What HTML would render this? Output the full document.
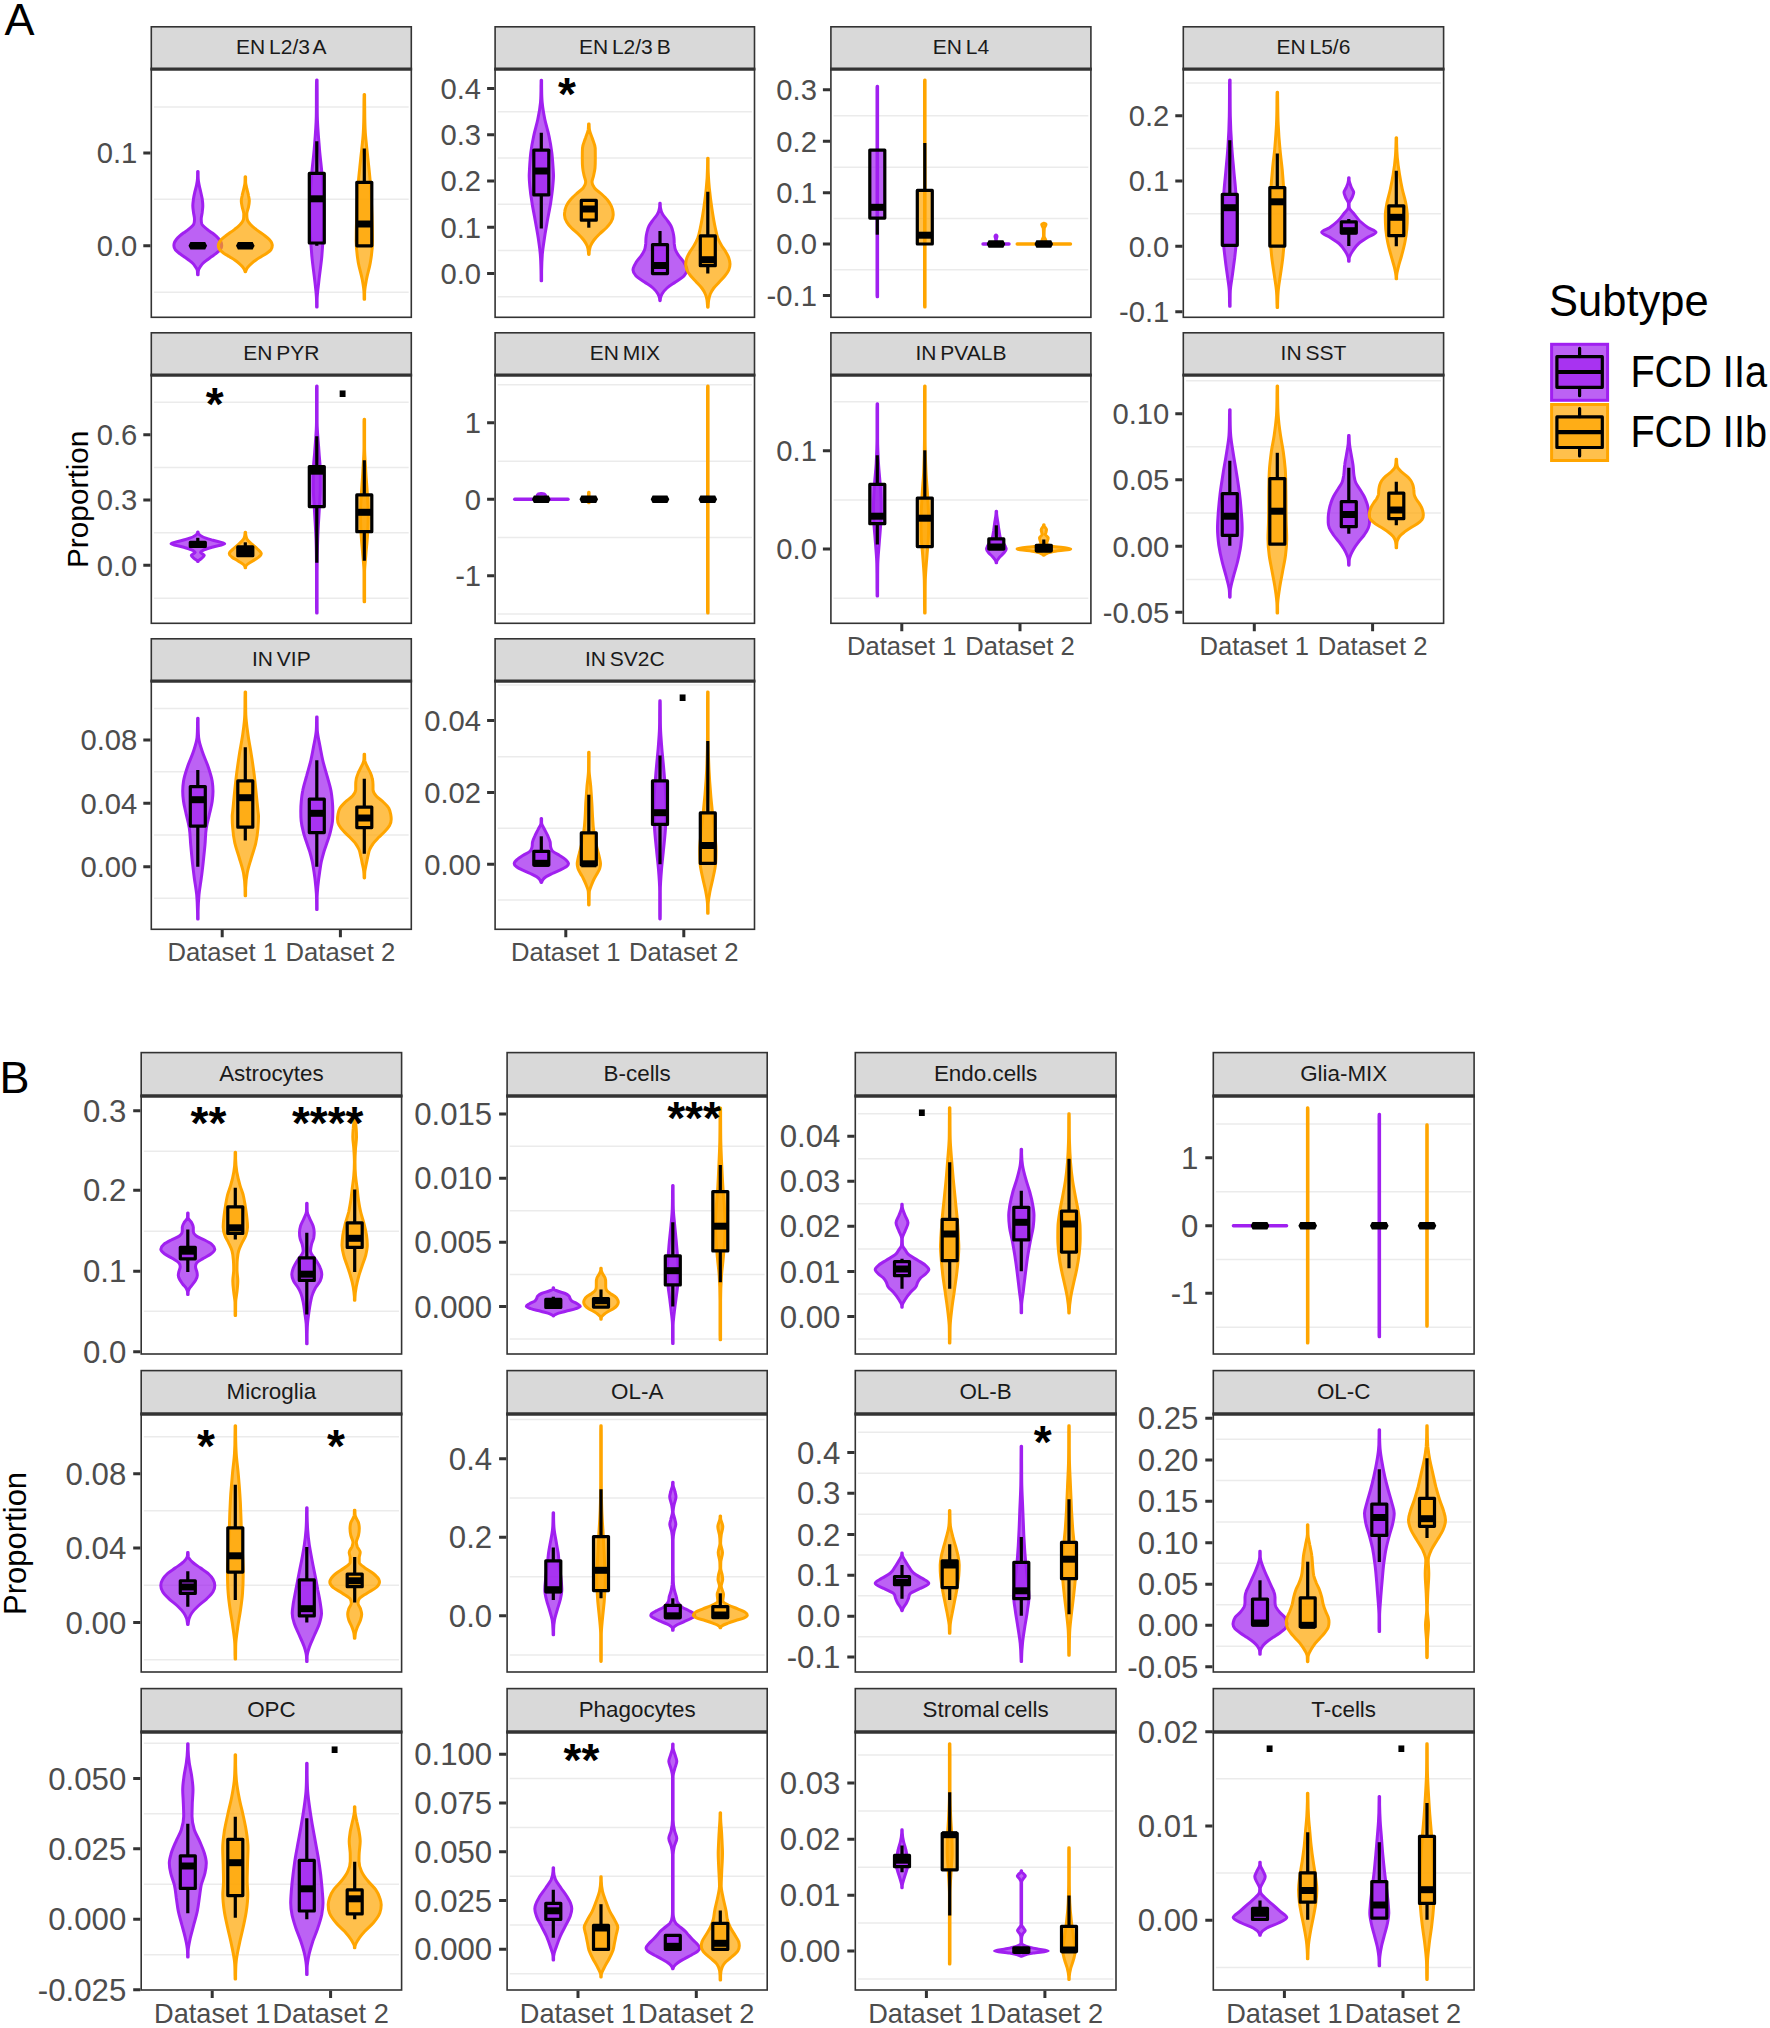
<!DOCTYPE html>
<html><head><meta charset="utf-8"><title>Figure</title>
<style>
html,body{margin:0;padding:0;background:#fff}
svg{display:block}
text{font-family:'Liberation Sans', Arial, Helvetica, sans-serif}
.st{word-spacing:-2px}
</style></head><body>
<svg xmlns="http://www.w3.org/2000/svg" width="1770" height="2028" viewBox="0 0 1770 2028">
<rect width="1770" height="2028" fill="#fff"/>
<g>
<rect x="151.3" y="69.1" width="260" height="248.2" fill="#fff"/>
<path d="M153.9 107H408.7M153.9 199.3H408.7M153.9 292.2H408.7" stroke="#ebebeb" stroke-width="1.6" fill="none"/>
<path d="M198.1 171.5C198.1 173.8 198.1 176.2 198.2 178.5C198.2 180.8 198.7 183.1 199.2 185.3C199.6 187.6 200.3 189.9 200.8 192.2C201.3 194.4 201.8 196.6 202.2 198.8C202.5 201.1 202.8 203.4 202.8 205.7C202.8 207.9 202.4 210.2 202.2 212.5C201.9 214.7 201.2 216.9 201.2 219.2C201.2 220.8 201.2 222.4 201.8 224C202.6 225.8 205 227.6 207.2 229.3C208.6 230.5 210.5 231.7 212 232.8C213.5 233.9 214.9 235.1 216.2 236.2C217.4 237.3 218.5 238.4 219.3 239.5C220.2 240.7 220.9 241.8 221.3 243C221.6 243.9 221.7 244.8 221.7 245.7C221.7 247 221.3 248.3 220.3 249.7C219.5 250.8 218 252 216.5 253.2C215.1 254.3 213.4 255.4 211.8 256.5C210.2 257.7 208.5 258.8 207 260C205.6 261.1 204.1 262.2 203 263.3C201.9 264.4 201.1 265.6 200.3 266.7C199.6 267.8 198.8 268.9 198.5 270C198.1 271.6 198.2 273.2 198.1 274.8L197.6 274.8C197.4 273.2 197.6 271.6 197.2 270C196.9 268.9 196.1 267.8 195.3 266.7C194.6 265.6 193.8 264.4 192.7 263.3C191.6 262.2 190.1 261.1 188.7 260C187.2 258.8 185.5 257.7 183.8 256.5C182.3 255.4 180.6 254.3 179.2 253.2C177.7 252 176.2 250.8 175.3 249.7C174.3 248.3 173.9 247 173.9 245.7C173.9 244.8 174 243.9 174.3 243C174.7 241.8 175.4 240.7 176.3 239.5C177.2 238.4 178.3 237.3 179.5 236.2C180.7 235.1 182.2 233.9 183.7 232.8C185.2 231.7 187.1 230.5 188.5 229.3C190.7 227.6 193.1 225.8 193.8 224C194.5 222.4 194.5 220.8 194.5 219.2C194.5 216.9 193.8 214.7 193.5 212.5C193.2 210.2 192.8 207.9 192.8 205.7C192.8 203.4 193.2 201.1 193.5 198.8C193.8 196.6 194.3 194.4 194.8 192.2C195.3 189.9 196.1 187.6 196.5 185.3C196.9 183.1 197.4 180.8 197.5 178.5C197.6 176.2 197.6 173.8 197.6 171.5Z" fill="#a020f0" fill-opacity="0.7" stroke="#a020f0" stroke-width="3.0" stroke-linejoin="round"/>
<path d="M245.6 176.8C245.6 178.6 245.6 180.3 245.6 182C245.7 184.2 246.4 186.4 246.8 188.7C247.3 190.9 248.1 193.2 248.5 195.5C248.9 197.3 249.3 199.2 249.3 201C249.3 203 248.9 205 248.5 207C248.1 209.3 246.8 211.6 246.8 213.8C246.8 215.6 246.8 217.4 247.2 219.2C247.5 221 249 222.8 250.7 224.7C252.1 226.2 254 227.8 256 229.3C257.5 230.5 259.2 231.7 260.8 232.8C262.4 233.9 264.1 235.1 265.5 236.2C266.9 237.3 268.3 238.4 269.3 239.5C270.4 240.7 271.2 241.8 271.7 243C272 243.8 272.3 244.6 272.3 245.3C272.3 246.8 272.1 248.2 271 249.7C270.1 250.8 268.5 252 266.8 253.2C265.3 254.3 263.3 255.4 261.5 256.5C259.6 257.7 257.7 258.8 256 260C254.4 261.1 253 262.2 251.7 263.3C250.4 264.4 249.1 265.6 248.2 266.7C247.2 267.8 246.6 268.9 246.2 270C245.9 270.6 245.8 271.2 245.6 271.8L245.1 271.8C244.9 271.2 244.8 270.6 244.5 270C244 268.9 243.4 267.8 242.5 266.7C241.6 265.6 240.3 264.4 239 263.3C237.7 262.2 236.3 261.1 234.7 260C233 258.8 231 257.7 229.2 256.5C227.4 255.4 225.4 254.3 223.8 253.2C222.2 252 220.6 250.8 219.7 249.7C218.5 248.2 218.3 246.8 218.3 245.3C218.3 244.6 218.7 243.8 219 243C219.5 241.8 220.3 240.7 221.3 239.5C222.3 238.4 223.7 237.3 225.2 236.2C226.6 235.1 228.3 233.9 229.8 232.8C231.5 231.7 233.2 230.5 234.7 229.3C236.7 227.8 238.6 226.2 240 224.7C241.7 222.8 243.2 221 243.5 219.2C243.8 217.4 243.8 215.6 243.8 213.8C243.8 211.6 242.6 209.3 242.2 207C241.8 205 241.3 203 241.3 201C241.3 199.2 241.8 197.3 242.2 195.5C242.6 193.2 243.4 190.9 243.8 188.7C244.3 186.4 245 184.2 245 182C245.1 180.3 245.1 178.6 245.1 176.8Z" fill="#ffa500" fill-opacity="0.7" stroke="#ffa500" stroke-width="3.0" stroke-linejoin="round"/>
<path d="M317.1 80C317.1 80.9 317.1 81.8 317.1 82.7C317.3 93.8 317.1 104.9 317.3 116C317.5 127.1 318.6 138.2 319.5 149.3C320.2 157.7 321.3 166 322 174.3C322.9 185.4 323.7 196.6 323.7 207.7C323.7 216 323.7 224.3 323.3 232.7C323 241 322.4 249.3 321.7 257.7C320.9 266 319.5 274.3 318.7 282.7C318.1 288.2 317.2 293.8 317.1 299.3C317.1 301.9 317.1 304.4 317.1 307L316.6 307C316.6 304.4 316.6 301.9 316.5 299.3C316.4 293.8 315.6 288.2 315 282.7C314.1 274.3 312.8 266 312 257.7C311.2 249.3 310.7 241 310.3 232.7C310 224.3 310 216 310 207.7C310 196.6 310.8 185.4 311.7 174.3C312.3 166 313.5 157.7 314.2 149.3C315.1 138.2 316.1 127.1 316.3 116C316.5 104.9 316.3 93.8 316.5 82.7C316.5 81.8 316.6 80.9 316.6 80Z" fill="#a020f0" fill-opacity="0.7" stroke="#a020f0" stroke-width="3.0" stroke-linejoin="round"/>
<path d="M364.6 94.5C364.6 96.1 364.6 97.7 364.6 99.3C364.8 110.4 364.6 121.6 365.3 132.7C365.9 141 367 149.3 367.8 157.7C368.7 166 369.7 174.3 370.3 182.7C371.2 193.8 371.6 204.9 372 216C372.3 224.3 372.5 232.7 372.5 241C372.5 248.2 371.6 255.4 370.3 262.7C369.4 268.2 367.5 273.8 366.5 279.3C365.7 283.8 364.7 288.2 364.6 292.7C364.6 294.8 364.6 297 364.6 299.2L364.1 299.2C364.1 297 364.1 294.8 364 292.7C363.9 288.2 363 283.8 362.2 279.3C361.2 273.8 359.3 268.2 358.3 262.7C357.1 255.4 356.2 248.2 356.2 241C356.2 232.7 356.4 224.3 356.7 216C357 204.9 357.5 193.8 358.3 182.7C359 174.3 360 166 360.8 157.7C361.7 149.3 362.8 141 363.3 132.7C364 121.6 363.9 110.4 364 99.3C364.1 97.7 364.1 96.1 364.1 94.5Z" fill="#ffa500" fill-opacity="0.7" stroke="#ffa500" stroke-width="3.0" stroke-linejoin="round"/>
<path d="M188.5 245.7L190.4 241.9H205.2L207.1 245.7L205.2 249.5H190.4Z" fill="#000"/>
<path d="M236 245.7L237.9 241.9H252.7L254.6 245.7L252.7 249.5H237.9Z" fill="#000"/>
<path d="M316.8 141.3V173.4M316.8 243.1V245.7" stroke="#000" stroke-width="3.2" fill="none"/>
<rect x="309.3" y="173.4" width="15" height="69.6" fill="#a020f0" fill-opacity="0.7" stroke="#000" stroke-width="3.2" stroke-linejoin="round"/>
<path d="M309.3 198.8H324.3" stroke="#000" stroke-width="7.0"/>
<path d="M364.3 148.5V182.3" stroke="#000" stroke-width="3.2" fill="none"/>
<rect x="356.8" y="182.3" width="15" height="63.5" fill="#ffa500" fill-opacity="0.7" stroke="#000" stroke-width="3.2" stroke-linejoin="round"/>
<path d="M356.8 224H371.8" stroke="#000" stroke-width="7.0"/>
<rect x="151.3" y="69.1" width="260" height="248.2" fill="none" stroke="#333333" stroke-width="1.6"/>
<rect x="151.3" y="26.8" width="260" height="42.3" fill="#d9d9d9" stroke="#333333" stroke-width="1.6"/>
<path d="M150.5 69.1H412.1" stroke="#333333" stroke-width="3.4"/>
<text x="281.3" y="54.4" font-size="21.0" text-anchor="middle" fill="#1a1a1a" class="st">EN L2/3 A</text>
<path d="M143.3 153H150.5M143.3 245.7H150.5" stroke="#333333" stroke-width="3.0" fill="none"/>
<text x="137.3" y="163.4" font-size="29.2" text-anchor="end" fill="#4d4d4d">0.1</text>
<text x="137.3" y="256" font-size="29.2" text-anchor="end" fill="#4d4d4d">0.0</text>
</g>
<g>
<rect x="495.1" y="69.1" width="259.4" height="248.2" fill="#fff"/>
<path d="M497.7 111.8H751.9M497.7 158H751.9M497.7 204.3H751.9M497.7 250.5H751.9M497.7 296.8H751.9" stroke="#ebebeb" stroke-width="1.6" fill="none"/>
<path d="M541.6 80.3C541.6 82.2 541.6 84.1 541.6 86C541.7 91.6 541.6 97.1 542.2 102.7C542.7 108.2 543.7 113.8 544.8 119.3C546 124.9 547.8 130.4 549 136C550.2 141.6 551.1 147.1 551.8 152.7C552.5 158.2 552.8 163.8 553.2 169.3C553.3 171.6 553.5 173.8 553.5 176C553.5 179.3 553.1 182.7 552.8 186C552.3 191.6 551.5 197.1 550.7 202.7C549.7 208.8 548.4 214.9 547.3 221C546.4 226.6 545.3 232.1 544.5 237.7C543.7 243.2 542.8 248.8 542.3 254.3C541.9 259.9 541.7 265.4 541.6 271C541.6 274.3 541.6 277.6 541.6 280.8L541.1 280.8C541.1 277.6 541.1 274.3 541 271C540.9 265.4 540.8 259.9 540.3 254.3C539.9 248.8 539 243.2 538.2 237.7C537.3 232.1 536.3 226.6 535.3 221C534.3 214.9 532.9 208.8 532 202.7C531.1 197.1 530.3 191.6 529.8 186C529.5 182.7 529.2 179.3 529.2 176C529.2 173.8 529.4 171.6 529.5 169.3C529.8 163.8 530.1 158.2 530.8 152.7C531.5 147.1 532.5 141.6 533.7 136C534.8 130.4 536.7 124.9 537.8 119.3C539 113.8 540 108.2 540.5 102.7C541 97.1 541 91.6 541 86C541.1 84.1 541.1 82.2 541.1 80.3Z" fill="#a020f0" fill-opacity="0.7" stroke="#a020f0" stroke-width="3.0" stroke-linejoin="round"/>
<path d="M589.1 124C589.2 126 589.1 128 589.5 130C590 132.7 591.3 135.3 592.2 138C593.2 141.3 595 144.7 595.2 148C595.3 151.3 595.3 154.7 595.3 158C595.3 161.3 595.3 164.7 595 168C594.7 170.7 594.1 173.3 593.5 176C593.1 178 592 180 592 182C592 184 592.9 186 594.5 188C596.1 190 599.3 192 601.5 194C603.7 196 605.9 198 607.5 200C609.1 202 610.4 204 611.3 206C612.2 208 612.7 210 613 212C613.1 213 613.2 214 613.2 215C613.2 217.3 612.3 219.7 611 222C609.8 224 608.1 226 606.2 228C604.2 230 601.5 232 599.5 234C597.5 236 595.5 238 594 240C592.5 242 591.3 244 590.5 246C589.8 247.7 589.6 249.3 589.3 251C589.2 252.2 589.2 253.3 589.1 254.5L588.6 254.5C588.5 253.3 588.5 252.2 588.3 251C588.1 249.3 587.8 247.7 587.2 246C586.4 244 585.2 242 583.7 240C582.2 238 580.2 236 578.2 234C576.1 232 573.4 230 571.5 228C569.6 226 567.8 224 566.7 222C565.3 219.7 564.5 217.3 564.5 215C564.5 214 564.5 213 564.7 212C564.9 210 565.4 208 566.3 206C567.2 204 568.5 202 570.2 200C571.8 198 574 196 576.2 194C578.3 192 581.6 190 583.2 188C584.8 186 585.7 184 585.7 182C585.7 180 584.6 178 584.2 176C583.6 173.3 582.9 170.7 582.7 168C582.3 164.7 582.3 161.3 582.3 158C582.3 154.7 582.3 151.3 582.5 148C582.7 144.7 584.4 141.3 585.5 138C586.3 135.3 587.7 132.7 588.2 130C588.5 128 588.4 126 588.6 124Z" fill="#ffa500" fill-opacity="0.7" stroke="#ffa500" stroke-width="3.0" stroke-linejoin="round"/>
<path d="M660.2 203.3C660.3 204.9 660.2 206.4 660.5 208C660.8 210 661.4 212 662.5 214C663.6 216 665.6 218 667 220C668.4 222 670 224 671 226C672 228 672.5 230 673 232C673.5 234 673.8 236 674 238C674.2 240 674.1 242 674.3 244C674.6 246 674.7 248 675.5 250C676.3 252 677.6 254 679 256C680.4 258 682.4 260 683.7 262C684.9 264 686.2 266 686.7 268C686.8 268.7 687 269.3 687 270C687 272 685.9 274 684 276C682.1 278 678.3 280 675.5 282C672.7 284 669.2 286 667 288C664.8 290 663.1 292 662 294C661.3 295.3 660.8 296.7 660.5 298C660.3 298.9 660.3 299.8 660.2 300.7L659.8 300.7C659.7 299.8 659.7 298.9 659.5 298C659.2 296.7 658.7 295.3 658 294C656.9 292 655.2 290 653 288C650.8 286 647.3 284 644.5 282C641.7 280 637.9 278 636 276C634.1 274 633 272 633 270C633 269.3 633.2 268.7 633.3 268C633.8 266 635.1 264 636.3 262C637.6 260 639.6 258 641 256C642.4 254 643.7 252 644.5 250C645.3 248 645.4 246 645.7 244C645.9 242 645.8 240 646 238C646.2 236 646.5 234 647 232C647.5 230 648 228 649 226C650 224 651.6 222 653 220C654.4 218 656.4 216 657.5 214C658.6 212 659.2 210 659.5 208C659.8 206.4 659.7 204.9 659.8 203.3Z" fill="#a020f0" fill-opacity="0.7" stroke="#a020f0" stroke-width="3.0" stroke-linejoin="round"/>
<path d="M708.1 158.3C708.1 161.6 708.1 164.8 708.1 168C708.2 174.7 708.7 181.3 709.3 188C710 194.7 710.8 201.3 711.8 208C712.8 214.7 713.8 221.3 715.3 228C716.1 231.3 716.5 234.7 717.8 238C718.9 240.7 720.2 243.3 721.8 246C723 248 724.7 250 725.8 252C727 254 728.1 256 728.8 258C729.5 260 730 262 730 264C730 266 729.7 268 728.8 270C728 272 726.4 274 724.8 276C723.2 278 721.2 280 719.3 282C717.5 284 715.3 286 713.8 288C712.3 290 711.2 292 710.3 294C709.5 296 709 298 708.7 300C708.2 302.4 708.3 304.8 708.1 307.2L707.6 307.2C707.4 304.8 707.4 302.4 707 300C706.6 298 706.2 296 705.3 294C704.5 292 703.3 290 701.8 288C700.3 286 698.2 284 696.3 282C694.5 280 692.4 278 690.8 276C689.2 274 687.7 272 686.8 270C686 268 685.7 266 685.7 264C685.7 262 686.1 260 686.8 258C687.5 256 688.7 254 689.8 252C691 250 692.6 248 693.8 246C695.4 243.3 696.8 240.7 697.8 238C699.1 234.7 699.6 231.3 700.3 228C701.8 221.3 702.8 214.7 703.8 208C704.8 201.3 705.7 194.7 706.3 188C707 181.3 707.4 174.7 707.5 168C707.6 164.8 707.6 161.6 707.6 158.3Z" fill="#ffa500" fill-opacity="0.7" stroke="#ffa500" stroke-width="3.0" stroke-linejoin="round"/>
<path d="M541.3 132.7V150.1M541.3 194.9V228.5" stroke="#000" stroke-width="3.2" fill="none"/>
<rect x="533.8" y="150.1" width="15" height="44.8" fill="#a020f0" fill-opacity="0.7" stroke="#000" stroke-width="3.2" stroke-linejoin="round"/>
<path d="M533.8 171H548.8" stroke="#000" stroke-width="7.0"/>
<path d="M588.8 220.2V227.7" stroke="#000" stroke-width="3.2" fill="none"/>
<rect x="581.3" y="200.4" width="15" height="19.8" fill="#ffa500" fill-opacity="0.7" stroke="#000" stroke-width="3.2" stroke-linejoin="round"/>
<path d="M581.3 209H596.3" stroke="#000" stroke-width="7.0"/>
<path d="M660 231V244.6" stroke="#000" stroke-width="3.2" fill="none"/>
<rect x="652.5" y="244.6" width="15" height="29" fill="#a020f0" fill-opacity="0.7" stroke="#000" stroke-width="3.2" stroke-linejoin="round"/>
<path d="M652.5 265.5H667.5" stroke="#000" stroke-width="7.0"/>
<path d="M707.8 191.8V235.9M707.8 265.7V273.5" stroke="#000" stroke-width="3.2" fill="none"/>
<rect x="700.3" y="235.9" width="15" height="29.8" fill="#ffa500" fill-opacity="0.7" stroke="#000" stroke-width="3.2" stroke-linejoin="round"/>
<path d="M700.3 259.7H715.3" stroke="#000" stroke-width="7.0"/>
<text x="567" y="110.1" font-size="46.0" font-weight="bold" text-anchor="middle" fill="#000">*</text>
<rect x="495.1" y="69.1" width="259.4" height="248.2" fill="none" stroke="#333333" stroke-width="1.6"/>
<rect x="495.1" y="26.8" width="259.4" height="42.3" fill="#d9d9d9" stroke="#333333" stroke-width="1.6"/>
<path d="M494.3 69.1H755.3" stroke="#333333" stroke-width="3.4"/>
<text x="624.8" y="54.4" font-size="21.0" text-anchor="middle" fill="#1a1a1a" class="st">EN L2/3 B</text>
<path d="M487.1 88.5H494.3M487.1 134.7H494.3M487.1 181H494.3M487.1 227.3H494.3M487.1 273.5H494.3" stroke="#333333" stroke-width="3.0" fill="none"/>
<text x="481.1" y="98.9" font-size="29.2" text-anchor="end" fill="#4d4d4d">0.4</text>
<text x="481.1" y="145" font-size="29.2" text-anchor="end" fill="#4d4d4d">0.3</text>
<text x="481.1" y="191.4" font-size="29.2" text-anchor="end" fill="#4d4d4d">0.2</text>
<text x="481.1" y="237.7" font-size="29.2" text-anchor="end" fill="#4d4d4d">0.1</text>
<text x="481.1" y="283.9" font-size="29.2" text-anchor="end" fill="#4d4d4d">0.0</text>
</g>
<g>
<rect x="830.9" y="69.1" width="260" height="248.2" fill="#fff"/>
<path d="M833.5 115.7H1088.3M833.5 167.2H1088.3M833.5 218.5H1088.3M833.5 269.8H1088.3" stroke="#ebebeb" stroke-width="1.6" fill="none"/>
<path d="M877.6 86.2C877.6 86.7 877.6 87.2 877.6 87.7C877.6 156.8 877.6 226 877.6 295.2C877.6 295.7 877.6 296.2 877.6 296.7L877.1 296.7C877.1 296.2 877 295.7 877 295.2C877 226 877 156.8 877 87.7C877 87.2 877.1 86.7 877.1 86.2Z" fill="#a020f0" fill-opacity="0.7" stroke="#a020f0" stroke-width="3.0" stroke-linejoin="round"/>
<path d="M925.1 80C925.1 80.6 925.1 81.2 925.1 81.8C925.1 156.3 925.1 230.7 925.1 305.2C925.1 305.8 925.1 306.4 925.1 307L924.6 307C924.6 306.4 924.5 305.8 924.5 305.2C924.5 230.7 924.5 156.3 924.5 81.8C924.5 81.2 924.6 80.6 924.6 80Z" fill="#ffa500" fill-opacity="0.7" stroke="#ffa500" stroke-width="3.0" stroke-linejoin="round"/>
<path d="M983 244H1009" stroke="#a020f0" stroke-width="3.4" stroke-linecap="round" fill="none"/>
<path d="M996.2 235C996.5 235.4 997 235.9 997 236.3C997 237.3 996.3 238.3 996.3 239.3C996.3 240.6 996.3 241.8 996.3 243C996.3 243.2 996.3 243.3 996.2 243.5L995.8 243.5C995.7 243.3 995.7 243.2 995.7 243C995.7 241.8 995.7 240.6 995.7 239.3C995.7 238.3 995 237.3 995 236.3C995 235.9 995.5 235.4 995.8 235Z" fill="#a020f0" fill-opacity="0.7" stroke="#a020f0" stroke-width="3.0" stroke-linejoin="round"/>
<path d="M1017.2 244H1070.5" stroke="#ffa500" stroke-width="3.4" stroke-linecap="round" fill="none"/>
<path d="M1044.1 223.3C1044.7 223.7 1046 224 1046 224.3C1046 225.7 1044.4 227.1 1044.3 228.5C1044.1 231 1044.1 233.5 1044.1 236C1044.1 237.4 1045.3 238.8 1045.7 240.2C1045.9 241.1 1046.3 242.1 1046.3 243C1046.3 243.3 1044.8 243.6 1044.1 243.8L1043.6 243.8C1042.8 243.6 1041.3 243.3 1041.3 243C1041.3 242.1 1041.7 241.1 1042 240.2C1042.4 238.8 1043.5 237.4 1043.5 236C1043.5 233.5 1043.5 231 1043.3 228.5C1043.2 227.1 1041.7 225.7 1041.7 224.3C1041.7 224 1042.9 223.7 1043.6 223.3Z" fill="#ffa500" fill-opacity="0.7" stroke="#ffa500" stroke-width="3.0" stroke-linejoin="round"/>
<path d="M877.3 218.1V234.7" stroke="#000" stroke-width="3.2" fill="none"/>
<rect x="869.8" y="150.1" width="15" height="68" fill="#a020f0" fill-opacity="0.7" stroke="#000" stroke-width="3.2" stroke-linejoin="round"/>
<path d="M869.8 207.3H884.8" stroke="#000" stroke-width="7.0"/>
<path d="M924.8 143V190.4" stroke="#000" stroke-width="3.2" fill="none"/>
<rect x="917.3" y="190.4" width="15" height="53.6" fill="#ffa500" fill-opacity="0.7" stroke="#000" stroke-width="3.2" stroke-linejoin="round"/>
<path d="M917.3 235.2H932.3" stroke="#000" stroke-width="7.0"/>
<path d="M986.7 244L988.6 240.2H1003.4L1005.3 244L1003.4 247.8H988.6Z" fill="#000"/>
<path d="M1034.5 244L1036.4 240.2H1051.2L1053.1 244L1051.2 247.8H1036.4Z" fill="#000"/>
<rect x="830.9" y="69.1" width="260" height="248.2" fill="none" stroke="#333333" stroke-width="1.6"/>
<rect x="830.9" y="26.8" width="260" height="42.3" fill="#d9d9d9" stroke="#333333" stroke-width="1.6"/>
<path d="M830.1 69.1H1091.7" stroke="#333333" stroke-width="3.4"/>
<text x="960.9" y="54.4" font-size="21.0" text-anchor="middle" fill="#1a1a1a" class="st">EN L4</text>
<path d="M822.9 89.8H830.1M822.9 141.3H830.1M822.9 192.7H830.1M822.9 244H830.1M822.9 295.5H830.1" stroke="#333333" stroke-width="3.0" fill="none"/>
<text x="816.9" y="100.2" font-size="29.2" text-anchor="end" fill="#4d4d4d">0.3</text>
<text x="816.9" y="151.7" font-size="29.2" text-anchor="end" fill="#4d4d4d">0.2</text>
<text x="816.9" y="203" font-size="29.2" text-anchor="end" fill="#4d4d4d">0.1</text>
<text x="816.9" y="254.4" font-size="29.2" text-anchor="end" fill="#4d4d4d">0.0</text>
<text x="816.9" y="305.9" font-size="29.2" text-anchor="end" fill="#4d4d4d">-0.1</text>
</g>
<g>
<rect x="1183.3" y="69.1" width="260.3" height="248.2" fill="#fff"/>
<path d="M1185.9 83H1441M1185.9 148.5H1441M1185.9 213.7H1441M1185.9 279.3H1441" stroke="#ebebeb" stroke-width="1.6" fill="none"/>
<path d="M1230.1 80C1230.1 82 1230.1 84 1230.1 86C1230.2 96 1230.1 106 1230.3 116C1230.5 126 1231 136 1231.7 146C1232.2 153.8 1233 161.6 1233.7 169.3C1234.3 176.6 1235.2 183.8 1235.7 191C1236.2 199.3 1236.7 207.7 1236.7 216C1236.7 224.3 1236.7 232.7 1236.3 241C1236.1 246.6 1235.3 252.1 1234.7 257.7C1234 263.2 1233.2 268.8 1232.5 274.3C1231.8 279.9 1230.6 285.4 1230.3 291C1230.1 294.9 1230.2 298.8 1230.1 302.7C1230.1 303.9 1230.1 305.1 1230.1 306.3L1229.6 306.3C1229.6 305.1 1229.6 303.9 1229.5 302.7C1229.5 298.8 1229.5 294.9 1229.3 291C1229 285.4 1227.9 279.9 1227.2 274.3C1226.4 268.8 1225.6 263.2 1225 257.7C1224.4 252.1 1223.6 246.6 1223.3 241C1223 232.7 1223 224.3 1223 216C1223 207.7 1223.4 199.3 1224 191C1224.5 183.8 1225.4 176.6 1226 169.3C1226.7 161.6 1227.5 153.8 1228 146C1228.7 136 1229.1 126 1229.3 116C1229.5 106 1229.5 96 1229.5 86C1229.5 84 1229.6 82 1229.6 80Z" fill="#a020f0" fill-opacity="0.7" stroke="#a020f0" stroke-width="3.0" stroke-linejoin="round"/>
<path d="M1277.6 92.3C1277.6 93.6 1277.6 94.8 1277.6 96C1277.8 105.4 1277.7 114.9 1278.2 124.3C1278.6 132.7 1279.2 141 1280 149.3C1280.6 156 1281.5 162.7 1282.2 169.3C1282.8 176.6 1283.4 183.8 1283.8 191C1284.3 199.3 1284.5 207.7 1284.5 216C1284.5 224.3 1284.5 232.7 1284.2 241C1283.9 246.6 1283.4 252.1 1282.8 257.7C1282.2 263.2 1281.3 268.8 1280.5 274.3C1279.7 279.9 1278.6 285.4 1278.2 291C1277.8 295.4 1277.7 299.9 1277.6 304.3C1277.6 305.4 1277.6 306.4 1277.6 307.5L1277.1 307.5C1277.1 306.4 1277.1 305.4 1277 304.3C1276.9 299.9 1276.9 295.4 1276.5 291C1276 285.4 1274.9 279.9 1274.2 274.3C1273.4 268.8 1272.4 263.2 1271.8 257.7C1271.2 252.1 1270.7 246.6 1270.5 241C1270.2 232.7 1270.2 224.3 1270.2 216C1270.2 207.7 1270.4 199.3 1270.8 191C1271.2 183.8 1271.8 176.6 1272.5 169.3C1273.1 162.7 1274 156 1274.7 149.3C1275.4 141 1276.1 132.7 1276.5 124.3C1277 114.9 1276.9 105.4 1277 96C1277.1 94.8 1277.1 93.6 1277.1 92.3Z" fill="#ffa500" fill-opacity="0.7" stroke="#ffa500" stroke-width="3.0" stroke-linejoin="round"/>
<path d="M1349.1 177.8C1349.1 178.6 1349.1 179.4 1349.1 180.2C1349.3 182.7 1350.5 185.2 1351.5 187.7C1352.1 189.2 1353.7 190.8 1353.7 192.3C1353.7 194.1 1352.7 195.9 1352 197.7C1351.2 199.6 1349.1 201.6 1349.1 203.5C1349.1 204.9 1349.1 206.3 1349.3 207.7C1349.6 209.6 1352.2 211.6 1353.7 213.5C1355.6 216 1357.2 218.5 1359.8 221C1362.2 223.2 1364.7 225.4 1368.2 227.7C1370.5 229.2 1376 230.7 1376 232.2C1376 233.7 1371.1 235.3 1368.7 236.8C1365.2 239.1 1361.3 241.3 1358.7 243.5C1355.7 246 1354.3 248.5 1352.7 251C1351.2 253.2 1349.8 255.4 1349.3 257.7C1349.1 258.9 1349.2 260.1 1349.1 261.3L1348.6 261.3C1348.5 260.1 1348.6 258.9 1348.3 257.7C1347.9 255.4 1346.4 253.2 1345 251C1343.4 248.5 1341.9 246 1339 243.5C1336.4 241.3 1332.4 239.1 1329 236.8C1326.6 235.3 1321.7 233.7 1321.7 232.2C1321.7 230.7 1327.2 229.2 1329.5 227.7C1332.9 225.4 1335.5 223.2 1337.8 221C1340.5 218.5 1342.1 216 1344 213.5C1345.5 211.6 1348.1 209.6 1348.3 207.7C1348.5 206.3 1348.5 204.9 1348.5 203.5C1348.5 201.6 1346.4 199.6 1345.7 197.7C1345 195.9 1344 194.1 1344 192.3C1344 190.8 1345.5 189.2 1346.2 187.7C1347.2 185.2 1348.4 182.7 1348.5 180.2C1348.6 179.4 1348.6 178.6 1348.6 177.8Z" fill="#a020f0" fill-opacity="0.7" stroke="#a020f0" stroke-width="3.0" stroke-linejoin="round"/>
<path d="M1396.6 137.8C1396.6 139.4 1396.6 141.1 1396.6 142.7C1396.7 147.7 1396.9 152.7 1397.3 157.7C1397.8 163.2 1398.6 168.8 1399.5 174.3C1400.3 179.3 1401.2 184.3 1402.3 189.3C1403.3 193.8 1404.8 198.2 1405.7 202.7C1406.5 207.1 1407.3 211.6 1407.3 216C1407.3 220.4 1407.2 224.9 1406.8 229.3C1406.4 233.8 1405.7 238.2 1404.8 242.7C1403.9 247.1 1402.7 251.6 1401.5 256C1400.5 259.9 1399 263.8 1398.2 267.7C1397.5 270.4 1396.8 273.2 1396.6 276C1396.6 276.9 1396.6 277.9 1396.6 278.8L1396.1 278.8C1396.1 277.9 1396.1 276.9 1396 276C1395.9 273.2 1395.1 270.4 1394.5 267.7C1393.6 263.8 1392.2 259.9 1391.2 256C1390 251.6 1388.7 247.1 1387.8 242.7C1386.9 238.2 1386.2 233.8 1385.8 229.3C1385.4 224.9 1385.3 220.4 1385.3 216C1385.3 211.6 1386.2 207.1 1387 202.7C1387.8 198.2 1389.4 193.8 1390.3 189.3C1391.4 184.3 1392.4 179.3 1393.2 174.3C1394.1 168.8 1394.9 163.2 1395.3 157.7C1395.8 152.7 1395.9 147.7 1396 142.7C1396.1 141.1 1396.1 139.4 1396.1 137.8Z" fill="#ffa500" fill-opacity="0.7" stroke="#ffa500" stroke-width="3.0" stroke-linejoin="round"/>
<path d="M1229.8 140.2V194.3" stroke="#000" stroke-width="3.2" fill="none"/>
<rect x="1222.3" y="194.3" width="15" height="51" fill="#a020f0" fill-opacity="0.7" stroke="#000" stroke-width="3.2" stroke-linejoin="round"/>
<path d="M1222.3 207.7H1237.3" stroke="#000" stroke-width="7.0"/>
<path d="M1277.3 153.5V187.6" stroke="#000" stroke-width="3.2" fill="none"/>
<rect x="1269.8" y="187.6" width="15" height="58.5" fill="#ffa500" fill-opacity="0.7" stroke="#000" stroke-width="3.2" stroke-linejoin="round"/>
<path d="M1269.8 201.8H1284.8" stroke="#000" stroke-width="7.0"/>
<path d="M1348.8 219V221.8M1348.8 233.1V246" stroke="#000" stroke-width="3.2" fill="none"/>
<rect x="1341.3" y="221.8" width="15" height="11.3" fill="#a020f0" fill-opacity="0.7" stroke="#000" stroke-width="3.2" stroke-linejoin="round"/>
<path d="M1341.3 230.7H1356.3" stroke="#000" stroke-width="7.0"/>
<path d="M1396.3 170.7V205.9M1396.3 235.7V246.3" stroke="#000" stroke-width="3.2" fill="none"/>
<rect x="1388.8" y="205.9" width="15" height="29.8" fill="#ffa500" fill-opacity="0.7" stroke="#000" stroke-width="3.2" stroke-linejoin="round"/>
<path d="M1388.8 217.3H1403.8" stroke="#000" stroke-width="7.0"/>
<rect x="1183.3" y="69.1" width="260.3" height="248.2" fill="none" stroke="#333333" stroke-width="1.6"/>
<rect x="1183.3" y="26.8" width="260.3" height="42.3" fill="#d9d9d9" stroke="#333333" stroke-width="1.6"/>
<path d="M1182.5 69.1H1444.4" stroke="#333333" stroke-width="3.4"/>
<text x="1313.4" y="54.4" font-size="21.0" text-anchor="middle" fill="#1a1a1a" class="st">EN L5/6</text>
<path d="M1175.3 115.7H1182.5M1175.3 181H1182.5M1175.3 246.3H1182.5M1175.3 311.8H1182.5" stroke="#333333" stroke-width="3.0" fill="none"/>
<text x="1169.3" y="126" font-size="29.2" text-anchor="end" fill="#4d4d4d">0.2</text>
<text x="1169.3" y="191.4" font-size="29.2" text-anchor="end" fill="#4d4d4d">0.1</text>
<text x="1169.3" y="256.7" font-size="29.2" text-anchor="end" fill="#4d4d4d">0.0</text>
<text x="1169.3" y="322.2" font-size="29.2" text-anchor="end" fill="#4d4d4d">-0.1</text>
</g>
<g>
<rect x="151.3" y="375.1" width="260" height="248.2" fill="#fff"/>
<path d="M153.9 402.3H408.7M153.9 467.5H408.7M153.9 532.8H408.7M153.9 598.2H408.7" stroke="#ebebeb" stroke-width="1.6" fill="none"/>
<path d="M198.1 532C198.1 532.3 198.1 532.6 198.1 532.8C198.4 534.2 200 535.6 203 537C205.4 538.1 209.4 539.2 213 540.3C216.6 541.4 224.7 542.6 224.7 543.7C224.7 544.8 216.6 545.9 213 547C209.4 548.1 205.1 549.2 203 550.3C201.7 551 200.5 551.7 200.5 552.3C200.5 553.3 204.3 554.3 204.3 555.3C204.3 556.4 202.6 557.6 201.3 558.7C200.4 559.5 198.4 560.3 198.1 561.2C198.1 561.3 198.1 561.4 198.1 561.6L197.6 561.6C197.6 561.4 197.6 561.3 197.5 561.2C197.3 560.3 195.3 559.5 194.3 558.7C193.1 557.6 191.3 556.4 191.3 555.3C191.3 554.3 195.2 553.3 195.2 552.3C195.2 551.7 193.9 551 192.7 550.3C190.5 549.2 186.3 548.1 182.7 547C179.1 545.9 171 544.8 171 543.7C171 542.6 179.1 541.4 182.7 540.3C186.3 539.2 190.2 538.1 192.7 537C195.7 535.6 197.3 534.2 197.5 532.8C197.6 532.6 197.6 532.3 197.6 532Z" fill="#a020f0" fill-opacity="0.7" stroke="#a020f0" stroke-width="3.0" stroke-linejoin="round"/>
<path d="M245.6 532.2C245.6 532.7 245.6 533.2 245.6 533.7C245.8 535.3 245.9 537 246.8 538.7C247.8 540.3 249.6 542 251.3 543.7C253.1 545.3 255.5 547 257.2 548.7C258.8 550.3 261.3 552 261.3 553.7C261.3 554.8 260.1 555.9 258.8 557C257.3 558.4 254.3 559.8 252.2 561.2C250.5 562.3 248.3 563.4 247.2 564.5C246.3 565.3 245.8 566.2 245.6 567C245.6 567.2 245.6 567.4 245.6 567.7L245.1 567.7C245.1 567.4 245.1 567.2 245 567C244.9 566.2 244.3 565.3 243.5 564.5C242.4 563.4 240.2 562.3 238.5 561.2C236.4 559.8 233.4 558.4 231.8 557C230.6 555.9 229.3 554.8 229.3 553.7C229.3 552 231.8 550.3 233.5 548.7C235.2 547 237.6 545.3 239.3 543.7C241.1 542 242.9 540.3 243.8 538.7C244.8 537 244.9 535.3 245 533.7C245.1 533.2 245.1 532.7 245.1 532.2Z" fill="#ffa500" fill-opacity="0.7" stroke="#ffa500" stroke-width="3.0" stroke-linejoin="round"/>
<path d="M317.1 386C317.1 386.9 317.1 387.8 317.1 388.7C317.1 399.8 317.1 410.9 317.1 422C317.1 432 318.4 442 319 452C319.4 458.7 320.3 465.3 320.3 472C320.3 477.6 320.3 483.1 320.3 488.7C320.3 494.2 319.8 499.8 319.5 505.3C318.9 516.4 318.1 527.6 317.7 538.7C317.3 549.8 317.1 560.9 317.1 572C317.1 583.1 317.1 594.2 317.1 605.3C317.1 607.9 317.1 610.4 317.1 613L316.6 613C316.6 610.4 316.5 607.9 316.5 605.3C316.5 594.2 316.5 583.1 316.5 572C316.5 560.9 316.4 549.8 316 538.7C315.6 527.6 314.7 516.4 314.2 505.3C313.9 499.8 313.3 494.2 313.3 488.7C313.3 483.1 313.3 477.6 313.3 472C313.3 465.3 314.2 458.7 314.7 452C315.3 442 316.5 432 316.5 422C316.5 410.9 316.5 399.8 316.5 388.7C316.5 387.8 316.6 386.9 316.6 386Z" fill="#a020f0" fill-opacity="0.7" stroke="#a020f0" stroke-width="3.0" stroke-linejoin="round"/>
<path d="M364.6 419.2C364.6 420.1 364.6 421.1 364.6 422C364.6 430.3 364.6 438.7 364.6 447C364.6 455.3 365.4 463.7 365.8 472C366.3 480.3 367.1 488.7 367.5 497C367.8 502.6 368.2 508.1 368.2 513.7C368.2 520.9 367.9 528.1 367.5 535.3C367.1 542 366.3 548.7 365.8 555.3C365.4 560.9 364.6 566.4 364.6 572C364.6 580.3 364.6 588.7 364.6 597C364.6 598.6 364.6 600.2 364.6 601.8L364.1 601.8C364.1 600.2 364 598.6 364 597C364 588.7 364 580.3 364 572C364 566.4 363.3 560.9 362.8 555.3C362.3 548.7 361.6 542 361.2 535.3C360.7 528.1 360.5 520.9 360.5 513.7C360.5 508.1 360.9 502.6 361.2 497C361.6 488.7 362.4 480.3 362.8 472C363.3 463.7 364 455.3 364 447C364 438.7 364 430.3 364 422C364 421.1 364.1 420.1 364.1 419.2Z" fill="#ffa500" fill-opacity="0.7" stroke="#ffa500" stroke-width="3.0" stroke-linejoin="round"/>
<path d="M197.8 537.8V542.3" stroke="#000" stroke-width="3.2" fill="none"/>
<rect x="190.3" y="542.3" width="15" height="4.1" fill="#a020f0" fill-opacity="0.7" stroke="#000" stroke-width="3.2" stroke-linejoin="round"/>
<path d="M190.3 544.5H205.3" stroke="#000" stroke-width="7.0"/>
<path d="M245.3 542.3V546.9" stroke="#000" stroke-width="3.2" fill="none"/>
<rect x="237.8" y="546.9" width="15" height="8.8" fill="#ffa500" fill-opacity="0.7" stroke="#000" stroke-width="3.2" stroke-linejoin="round"/>
<path d="M237.8 551.3H252.8" stroke="#000" stroke-width="7.0"/>
<path d="M316.8 436.2V466.6M316.8 506.6V562.8" stroke="#000" stroke-width="3.2" fill="none"/>
<rect x="309.3" y="466.6" width="15" height="40" fill="#a020f0" fill-opacity="0.7" stroke="#000" stroke-width="3.2" stroke-linejoin="round"/>
<path d="M309.3 471.2H324.3" stroke="#000" stroke-width="7.0"/>
<path d="M364.3 460.3V494.9M364.3 531.7V560.7" stroke="#000" stroke-width="3.2" fill="none"/>
<rect x="356.8" y="494.9" width="15" height="36.8" fill="#ffa500" fill-opacity="0.7" stroke="#000" stroke-width="3.2" stroke-linejoin="round"/>
<path d="M356.8 512.3H371.8" stroke="#000" stroke-width="7.0"/>
<text x="214.8" y="420.2" font-size="46.0" font-weight="bold" text-anchor="middle" fill="#000">*</text>
<text x="334" y="397.1" font-size="62" fill="#000">.</text>
<rect x="151.3" y="375.1" width="260" height="248.2" fill="none" stroke="#333333" stroke-width="1.6"/>
<rect x="151.3" y="332.8" width="260" height="42.3" fill="#d9d9d9" stroke="#333333" stroke-width="1.6"/>
<path d="M150.5 375.1H412.1" stroke="#333333" stroke-width="3.4"/>
<text x="281.3" y="360.4" font-size="21.0" text-anchor="middle" fill="#1a1a1a" class="st">EN PYR</text>
<path d="M143.3 434.8H150.5M143.3 500H150.5M143.3 565.3H150.5" stroke="#333333" stroke-width="3.0" fill="none"/>
<text x="137.3" y="445.2" font-size="29.2" text-anchor="end" fill="#4d4d4d">0.6</text>
<text x="137.3" y="510.4" font-size="29.2" text-anchor="end" fill="#4d4d4d">0.3</text>
<text x="137.3" y="575.7" font-size="29.2" text-anchor="end" fill="#4d4d4d">0.0</text>
</g>
<g>
<rect x="495.1" y="375.1" width="259.4" height="248.2" fill="#fff"/>
<path d="M497.7 384.8H751.9M497.7 461.2H751.9M497.7 537.5H751.9M497.7 614H751.9" stroke="#ebebeb" stroke-width="1.6" fill="none"/>
<path d="M514.7 499.2H568" stroke="#a020f0" stroke-width="3.4" stroke-linecap="round" fill="none"/>
<path d="M541.6 493.5C542.6 493.7 544.2 493.8 544.5 494C545.7 494.7 545.7 495.4 545.7 496.2C545.7 497 545.7 497.8 545.7 498.7C545.7 498.8 542.9 499 541.6 499.2L541.1 499.2C539.7 499 537 498.8 537 498.7C537 497.8 537 497 537 496.2C537 495.4 537 494.7 538.2 494C538.4 493.8 540.1 493.7 541.1 493.5Z" fill="#a020f0" fill-opacity="0.7" stroke="#a020f0" stroke-width="3.0" stroke-linejoin="round"/>
<path d="M589.1 492.3C589.1 492.6 589.1 492.8 589.1 493C589.1 496 589.1 499 589.1 502C589.1 502.2 589.1 502.4 589.1 502.7L588.6 502.7C588.6 502.4 588.5 502.2 588.5 502C588.5 499 588.5 496 588.5 493C588.5 492.8 588.6 492.6 588.6 492.3Z" fill="#ffa500" fill-opacity="0.7" stroke="#ffa500" stroke-width="3.0" stroke-linejoin="round"/>
<path d="M708.1 386C708.1 386.6 708.1 387.2 708.1 387.8C708.1 462.3 708.1 536.7 708.1 611.2C708.1 611.8 708.1 612.4 708.1 613L707.6 613C707.6 612.4 707.5 611.8 707.5 611.2C707.5 536.7 707.5 462.3 707.5 387.8C707.5 387.2 707.6 386.6 707.6 386Z" fill="#ffa500" fill-opacity="0.7" stroke="#ffa500" stroke-width="3.0" stroke-linejoin="round"/>
<path d="M532 499.2L533.9 495.4H548.7L550.6 499.2L548.7 503H533.9Z" fill="#000"/>
<path d="M579.5 499.2L581.4 495.4H596.2L598.1 499.2L596.2 503H581.4Z" fill="#000"/>
<path d="M650.7 499.2L652.6 495.4H667.4L669.3 499.2L667.4 503H652.6Z" fill="#000"/>
<path d="M698.5 499.2L700.4 495.4H715.2L717.1 499.2L715.2 503H700.4Z" fill="#000"/>
<rect x="495.1" y="375.1" width="259.4" height="248.2" fill="none" stroke="#333333" stroke-width="1.6"/>
<rect x="495.1" y="332.8" width="259.4" height="42.3" fill="#d9d9d9" stroke="#333333" stroke-width="1.6"/>
<path d="M494.3 375.1H755.3" stroke="#333333" stroke-width="3.4"/>
<text x="624.8" y="360.4" font-size="21.0" text-anchor="middle" fill="#1a1a1a" class="st">EN MIX</text>
<path d="M487.1 422.8H494.3M487.1 499.2H494.3M487.1 575.7H494.3" stroke="#333333" stroke-width="3.0" fill="none"/>
<text x="481.1" y="433.2" font-size="29.2" text-anchor="end" fill="#4d4d4d">1</text>
<text x="481.1" y="509.5" font-size="29.2" text-anchor="end" fill="#4d4d4d">0</text>
<text x="481.1" y="586" font-size="29.2" text-anchor="end" fill="#4d4d4d">-1</text>
</g>
<g>
<rect x="830.9" y="375.1" width="260" height="248.2" fill="#fff"/>
<path d="M833.5 401.7H1088.3M833.5 500H1088.3M833.5 598.2H1088.3" stroke="#ebebeb" stroke-width="1.6" fill="none"/>
<path d="M877.6 403.8C877.6 405.4 877.6 407.1 877.6 408.7C877.6 418.7 877.6 428.7 877.6 438.7C877.6 447 878 455.3 878.5 463.7C879 472 880 480.3 880.5 488.7C880.8 494.2 881.2 499.8 881.2 505.3C881.2 510.9 881.1 516.4 880.8 522C880.5 529.2 879.7 536.4 879.2 543.7C878.7 550.3 878 557 877.8 563.7C877.6 572 877.7 580.3 877.6 588.7C877.6 591.1 877.6 593.6 877.6 596L877.1 596C877.1 593.6 877.1 591.1 877 588.7C877 580.3 877 572 876.8 563.7C876.7 557 876 550.3 875.5 543.7C875 536.4 874.2 529.2 873.8 522C873.6 516.4 873.5 510.9 873.5 505.3C873.5 499.8 873.9 494.2 874.2 488.7C874.6 480.3 875.7 472 876.2 463.7C876.6 455.3 877 447 877 438.7C877 428.7 877 418.7 877 408.7C877 407.1 877.1 405.4 877.1 403.8Z" fill="#a020f0" fill-opacity="0.7" stroke="#a020f0" stroke-width="3.0" stroke-linejoin="round"/>
<path d="M925.1 386C925.1 388 925.1 390 925.1 392C925.1 407.6 925.1 423.1 925.1 438.7C925.1 449.8 925.5 460.9 926 472C926.4 480.3 927.2 488.7 927.7 497C928.1 505.3 928.7 513.7 928.7 522C928.7 527.6 928.6 533.1 928.3 538.7C928.1 544.2 927.4 549.8 927 555.3C926.4 563.7 925.5 572 925.3 580.3C925.1 588.7 925.2 597 925.1 605.3C925.1 607.9 925.1 610.4 925.1 613L924.6 613C924.6 610.4 924.6 607.9 924.5 605.3C924.5 597 924.5 588.7 924.3 580.3C924.1 572 923.3 563.7 922.7 555.3C922.3 549.8 921.6 544.2 921.3 538.7C921.1 533.1 921 527.6 921 522C921 513.7 921.6 505.3 922 497C922.4 488.7 923.3 480.3 923.7 472C924.2 460.9 924.5 449.8 924.5 438.7C924.5 423.1 924.5 407.6 924.5 392C924.5 390 924.6 388 924.6 386Z" fill="#ffa500" fill-opacity="0.7" stroke="#ffa500" stroke-width="3.0" stroke-linejoin="round"/>
<path d="M996.6 511.3C996.6 512.1 996.6 512.9 996.6 513.7C996.8 516.4 997.4 519.2 997.8 522C998.2 524.8 998.5 527.6 999 530.3C999.5 533.1 999.5 535.9 1000.7 538.7C1001.7 541.2 1004.1 543.7 1005.2 546.2C1005.6 547.1 1006.2 548.1 1006.2 549C1006.2 550.3 1005 551.6 1004 552.8C1002.9 554.2 1001 555.6 999.8 557C998.4 558.7 996.9 560.3 996.6 562C996.6 562.3 996.6 562.6 996.6 562.8L996.1 562.8C996.1 562.6 996.1 562.3 996 562C995.8 560.3 994.2 558.7 992.8 557C991.7 555.6 989.7 554.2 988.7 552.8C987.7 551.6 986.5 550.3 986.5 549C986.5 548.1 987.1 547.1 987.5 546.2C988.6 543.7 991 541.2 992 538.7C993.1 535.9 993.2 533.1 993.7 530.3C994.1 527.6 994.4 524.8 994.8 522C995.2 519.2 995.9 516.4 996 513.7C996.1 512.9 996.1 512.1 996.1 511.3Z" fill="#a020f0" fill-opacity="0.7" stroke="#a020f0" stroke-width="3.0" stroke-linejoin="round"/>
<path d="M1044.1 524.8C1044.1 525.1 1044.1 525.4 1044.1 525.7C1044.3 526.9 1046.5 528.2 1046.5 529.5C1046.5 530.4 1046.2 531.4 1046 532.3C1045.8 533.1 1045.3 533.8 1045.3 534.5C1045.3 535.6 1048.2 536.7 1048.2 537.8C1048.2 538.9 1047.7 540.1 1047.3 541.2C1047.1 542 1046.5 542.8 1046.5 543.7C1046.5 544.5 1048.8 545.3 1052.3 546.2C1056.4 547.1 1070.7 548.1 1070.7 549C1070.7 549.9 1056.6 550.8 1052.3 551.7C1047.8 552.6 1046.1 553.6 1044.8 554.5C1044.5 554.8 1044.3 555.1 1044.1 555.3L1043.6 555.3C1043.3 555.1 1043.2 554.8 1042.8 554.5C1041.6 553.6 1039.9 552.6 1035.3 551.7C1031 550.8 1017 549.9 1017 549C1017 548.1 1031.3 547.1 1035.3 546.2C1038.9 545.3 1041.2 544.5 1041.2 543.7C1041.2 542.8 1040.6 542 1040.3 541.2C1040 540.1 1039.5 538.9 1039.5 537.8C1039.5 536.7 1042.3 535.6 1042.3 534.5C1042.3 533.8 1041.8 533.1 1041.7 532.3C1041.4 531.4 1041.2 530.4 1041.2 529.5C1041.2 528.2 1043.3 526.9 1043.5 525.7C1043.6 525.4 1043.6 525.1 1043.6 524.8Z" fill="#ffa500" fill-opacity="0.7" stroke="#ffa500" stroke-width="3.0" stroke-linejoin="round"/>
<path d="M877.3 455.3V484.4M877.3 523.7V544.5" stroke="#000" stroke-width="3.2" fill="none"/>
<rect x="869.8" y="484.4" width="15" height="39.3" fill="#a020f0" fill-opacity="0.7" stroke="#000" stroke-width="3.2" stroke-linejoin="round"/>
<path d="M869.8 516.2H884.8" stroke="#000" stroke-width="7.0"/>
<path d="M924.8 450.3V498.1" stroke="#000" stroke-width="3.2" fill="none"/>
<rect x="917.3" y="498.1" width="15" height="48.5" fill="#ffa500" fill-opacity="0.7" stroke="#000" stroke-width="3.2" stroke-linejoin="round"/>
<path d="M917.3 518.2H932.3" stroke="#000" stroke-width="7.0"/>
<path d="M996.3 525.3V538.9" stroke="#000" stroke-width="3.2" fill="none"/>
<rect x="988.8" y="538.9" width="15" height="10.1" fill="#a020f0" fill-opacity="0.7" stroke="#000" stroke-width="3.2" stroke-linejoin="round"/>
<path d="M988.8 547H1003.8" stroke="#000" stroke-width="7.0"/>
<path d="M1043.8 539.5V545.3" stroke="#000" stroke-width="3.2" fill="none"/>
<rect x="1036.3" y="545.3" width="15" height="5.5" fill="#ffa500" fill-opacity="0.7" stroke="#000" stroke-width="3.2" stroke-linejoin="round"/>
<path d="M1036.3 549H1051.3" stroke="#000" stroke-width="7.0"/>
<rect x="830.9" y="375.1" width="260" height="248.2" fill="none" stroke="#333333" stroke-width="1.6"/>
<rect x="830.9" y="332.8" width="260" height="42.3" fill="#d9d9d9" stroke="#333333" stroke-width="1.6"/>
<path d="M830.1 375.1H1091.7" stroke="#333333" stroke-width="3.4"/>
<text x="960.9" y="360.4" font-size="21.0" text-anchor="middle" fill="#1a1a1a" class="st">IN PVALB</text>
<path d="M822.9 450.7H830.1M822.9 549H830.1" stroke="#333333" stroke-width="3.0" fill="none"/>
<text x="816.9" y="461" font-size="29.2" text-anchor="end" fill="#4d4d4d">0.1</text>
<text x="816.9" y="559.4" font-size="29.2" text-anchor="end" fill="#4d4d4d">0.0</text>
<path d="M901.8 624.1V631.3M1020 624.1V631.3" stroke="#333333" stroke-width="3.0" fill="none"/>
<text x="901.8" y="655.3" font-size="25.6" text-anchor="middle" fill="#4d4d4d">Dataset 1</text>
<text x="1020" y="655.3" font-size="25.6" text-anchor="middle" fill="#4d4d4d">Dataset 2</text>
</g>
<g>
<rect x="1183.3" y="375.1" width="260.3" height="248.2" fill="#fff"/>
<path d="M1185.9 380.7H1441M1185.9 446.7H1441M1185.9 513H1441M1185.9 579.5H1441" stroke="#ebebeb" stroke-width="1.6" fill="none"/>
<path d="M1230.1 409.7C1230.1 411.6 1230.1 413.4 1230.1 415.3C1230.2 422 1230.1 428.7 1230.7 435.3C1231.1 440.9 1232.2 446.4 1233 452C1234 458.7 1235.3 465.3 1236.3 472C1237.4 478.7 1238.5 485.3 1239.3 492C1240.2 498.7 1240.8 505.3 1241.3 512C1241.7 517.6 1242.2 523.1 1242.2 528.7C1242.2 534.2 1241.6 539.8 1240.8 545.3C1240.1 550.9 1238.8 556.4 1237.5 562C1236.3 567 1234.6 572 1233.3 577C1232.2 581.4 1230.8 585.9 1230.3 590.3C1230.1 592.7 1230.2 595 1230.1 597.3L1229.6 597.3C1229.5 595 1229.6 592.7 1229.3 590.3C1228.9 585.9 1227.4 581.4 1226.3 577C1225.1 572 1223.4 567 1222.2 562C1220.8 556.4 1219.6 550.9 1218.8 545.3C1218.1 539.8 1217.5 534.2 1217.5 528.7C1217.5 523.1 1217.9 517.6 1218.3 512C1218.8 505.3 1219.5 498.7 1220.3 492C1221.2 485.3 1222.3 478.7 1223.3 472C1224.4 465.3 1225.7 458.7 1226.7 452C1227.5 446.4 1228.6 440.9 1229 435.3C1229.5 428.7 1229.4 422 1229.5 415.3C1229.6 413.4 1229.6 411.6 1229.6 409.7Z" fill="#a020f0" fill-opacity="0.7" stroke="#a020f0" stroke-width="3.0" stroke-linejoin="round"/>
<path d="M1277.6 386C1277.6 388.6 1277.6 391.1 1277.6 393.7C1277.7 400.9 1277.6 408.1 1278.2 415.3C1278.6 422 1279.5 428.7 1280.5 435.3C1281.3 440.9 1282.6 446.4 1283.3 452C1284.1 457.6 1284.7 463.1 1285.2 468.7C1285.7 475.3 1285.7 482 1285.8 488.7C1286.1 499.8 1285.9 510.9 1286.2 522C1286.3 527.6 1286.7 533.1 1286.7 538.7C1286.7 544.2 1286.2 549.8 1285.5 555.3C1284.8 560.9 1283.5 566.4 1282.5 572C1281.5 577.6 1280.3 583.1 1279.5 588.7C1278.7 594.2 1277.7 599.8 1277.6 605.3C1277.6 607.9 1277.6 610.4 1277.6 613L1277.1 613C1277.1 610.4 1277.1 607.9 1277 605.3C1276.9 599.8 1276 594.2 1275.2 588.7C1274.4 583.1 1273.2 577.6 1272.2 572C1271.2 566.4 1269.9 560.9 1269.2 555.3C1268.5 549.8 1268 544.2 1268 538.7C1268 533.1 1268.4 527.6 1268.5 522C1268.8 510.9 1268.6 499.8 1268.8 488.7C1269 482 1269 475.3 1269.5 468.7C1269.9 463.1 1270.6 457.6 1271.3 452C1272.1 446.4 1273.4 440.9 1274.2 435.3C1275.1 428.7 1276 422 1276.5 415.3C1277 408.1 1277 400.9 1277 393.7C1277.1 391.1 1277.1 388.6 1277.1 386Z" fill="#ffa500" fill-opacity="0.7" stroke="#ffa500" stroke-width="3.0" stroke-linejoin="round"/>
<path d="M1349.1 435.5C1349.2 438.3 1349.2 441.2 1349.5 444C1349.8 447.5 1350.6 451 1351.2 454.5C1351.8 458 1352.5 461.5 1353 465C1353.5 468.5 1353.4 472 1354 475.5C1354.4 477.8 1354.7 480.2 1355.7 482.5C1356.7 484.8 1358.6 487.2 1360 489.5C1361.4 491.8 1363 494.2 1364.2 496.5C1365.3 498.8 1366.2 501.2 1367 503.5C1367.8 505.8 1368.2 508.2 1368.7 510.5C1369.1 512.8 1369.5 515.2 1369.5 517.5C1369.5 519.2 1369.5 520.8 1369.5 522.5C1369.5 524.3 1369 526.2 1368.3 528C1367.4 530.3 1365.8 532.7 1364.2 535C1362.5 537.3 1360.2 539.7 1358.5 542C1356.8 544.3 1355 546.7 1353.7 549C1352.6 550.9 1351.6 552.8 1350.8 554.7C1350.2 556.3 1349.5 557.9 1349.3 559.5C1349.1 561.4 1349.2 563.3 1349.1 565.2L1348.6 565.2C1348.5 563.3 1348.6 561.4 1348.3 559.5C1348.1 557.9 1347.5 556.3 1346.8 554.7C1346.1 552.8 1345.1 550.9 1344 549C1342.6 546.7 1340.9 544.3 1339.2 542C1337.4 539.7 1335.1 537.3 1333.5 535C1331.9 532.7 1330.2 530.3 1329.3 528C1328.6 526.2 1328.2 524.3 1328.2 522.5C1328.2 520.8 1328.2 519.2 1328.2 517.5C1328.2 515.2 1328.6 512.8 1329 510.5C1329.4 508.2 1329.9 505.8 1330.7 503.5C1331.4 501.2 1332.3 498.8 1333.5 496.5C1334.7 494.2 1336.2 491.8 1337.7 489.5C1339.1 487.2 1341 484.8 1342 482.5C1343 480.2 1343.2 477.8 1343.7 475.5C1344.3 472 1344.2 468.5 1344.7 465C1345.1 461.5 1345.9 458 1346.5 454.5C1347.1 451 1347.8 447.5 1348.2 444C1348.4 441.2 1348.4 438.3 1348.6 435.5Z" fill="#a020f0" fill-opacity="0.7" stroke="#a020f0" stroke-width="3.0" stroke-linejoin="round"/>
<path d="M1396.6 459.3C1396.7 460.8 1396.6 462.2 1396.8 463.7C1397 465.1 1397 466.4 1397.8 467.8C1398.6 469.2 1400.2 470.6 1401.7 472C1403.2 473.4 1405.3 474.8 1406.8 476.2C1408.4 477.6 1409.8 479.1 1410.8 480.5C1411.8 481.9 1412.3 483.3 1412.8 484.7C1413.4 486.3 1413.6 487.9 1413.8 489.5C1414.1 491.2 1413.8 492.8 1414.2 494.5C1414.4 495.9 1415.2 497.3 1416 498.7C1416.8 500.1 1417.9 501.4 1418.8 502.8C1419.7 504.2 1420.7 505.6 1421.3 507C1422 508.4 1422.5 509.8 1422.8 511.2C1423.2 512.5 1423.3 513.8 1423.3 515.2C1423.3 516.7 1423.1 518.2 1422 519.7C1421 521.1 1419.3 522.4 1417.3 523.8C1415.4 525.2 1412.5 526.6 1410.3 528C1408.1 529.4 1405.9 530.8 1404.2 532.2C1402.3 533.6 1400.6 535.1 1399.5 536.5C1398.4 537.9 1397.8 539.3 1397.3 540.7C1396.9 542.1 1396.8 543.4 1396.7 544.8C1396.6 545.8 1396.6 546.7 1396.6 547.7L1396.1 547.7C1396.1 546.7 1396.1 545.8 1396 544.8C1395.9 543.4 1395.8 542.1 1395.3 540.7C1394.9 539.3 1394.3 537.9 1393.2 536.5C1392 535.1 1390.4 533.6 1388.5 532.2C1386.7 530.8 1384.5 529.4 1382.3 528C1380.1 526.6 1377.3 525.2 1375.3 523.8C1373.4 522.4 1371.7 521.1 1370.7 519.7C1369.6 518.2 1369.3 516.7 1369.3 515.2C1369.3 513.8 1369.5 512.5 1369.8 511.2C1370.2 509.8 1370.7 508.4 1371.3 507C1372 505.6 1372.9 504.2 1373.8 502.8C1374.7 501.4 1375.9 500.1 1376.7 498.7C1377.4 497.3 1378.2 495.9 1378.5 494.5C1378.8 492.8 1378.6 491.2 1378.8 489.5C1379.1 487.9 1379.3 486.3 1379.8 484.7C1380.3 483.3 1380.9 481.9 1381.8 480.5C1382.8 479.1 1384.3 477.6 1385.8 476.2C1387.3 474.8 1389.5 473.4 1391 472C1392.5 470.6 1394 469.2 1394.8 467.8C1395.6 466.4 1395.6 465.1 1395.8 463.7C1396.1 462.2 1396 460.8 1396.1 459.3Z" fill="#ffa500" fill-opacity="0.7" stroke="#ffa500" stroke-width="3.0" stroke-linejoin="round"/>
<path d="M1229.8 460.7V493.6M1229.8 535.4V545.7" stroke="#000" stroke-width="3.2" fill="none"/>
<rect x="1222.3" y="493.6" width="15" height="41.8" fill="#a020f0" fill-opacity="0.7" stroke="#000" stroke-width="3.2" stroke-linejoin="round"/>
<path d="M1222.3 516.2H1237.3" stroke="#000" stroke-width="7.0"/>
<path d="M1277.3 452.8V478.6" stroke="#000" stroke-width="3.2" fill="none"/>
<rect x="1269.8" y="478.6" width="15" height="65.6" fill="#ffa500" fill-opacity="0.7" stroke="#000" stroke-width="3.2" stroke-linejoin="round"/>
<path d="M1269.8 511.2H1284.8" stroke="#000" stroke-width="7.0"/>
<path d="M1348.8 467.8V501.6M1348.8 526.7V533.7" stroke="#000" stroke-width="3.2" fill="none"/>
<rect x="1341.3" y="501.6" width="15" height="25.1" fill="#a020f0" fill-opacity="0.7" stroke="#000" stroke-width="3.2" stroke-linejoin="round"/>
<path d="M1341.3 514.5H1356.3" stroke="#000" stroke-width="7.0"/>
<path d="M1396.3 481.7V493.1M1396.3 518.7V525.3" stroke="#000" stroke-width="3.2" fill="none"/>
<rect x="1388.8" y="493.1" width="15" height="25.6" fill="#ffa500" fill-opacity="0.7" stroke="#000" stroke-width="3.2" stroke-linejoin="round"/>
<path d="M1388.8 510H1403.8" stroke="#000" stroke-width="7.0"/>
<rect x="1183.3" y="375.1" width="260.3" height="248.2" fill="none" stroke="#333333" stroke-width="1.6"/>
<rect x="1183.3" y="332.8" width="260.3" height="42.3" fill="#d9d9d9" stroke="#333333" stroke-width="1.6"/>
<path d="M1182.5 375.1H1444.4" stroke="#333333" stroke-width="3.4"/>
<text x="1313.4" y="360.4" font-size="21.0" text-anchor="middle" fill="#1a1a1a" class="st">IN SST</text>
<path d="M1175.3 413.7H1182.5M1175.3 479.8H1182.5M1175.3 546.2H1182.5M1175.3 612.3H1182.5" stroke="#333333" stroke-width="3.0" fill="none"/>
<text x="1169.3" y="424" font-size="29.2" text-anchor="end" fill="#4d4d4d">0.10</text>
<text x="1169.3" y="490.2" font-size="29.2" text-anchor="end" fill="#4d4d4d">0.05</text>
<text x="1169.3" y="556.5" font-size="29.2" text-anchor="end" fill="#4d4d4d">0.00</text>
<text x="1169.3" y="622.7" font-size="29.2" text-anchor="end" fill="#4d4d4d">-0.05</text>
<path d="M1254.3 624.1V631.3M1372.6 624.1V631.3" stroke="#333333" stroke-width="3.0" fill="none"/>
<text x="1254.3" y="655.3" font-size="25.6" text-anchor="middle" fill="#4d4d4d">Dataset 1</text>
<text x="1372.6" y="655.3" font-size="25.6" text-anchor="middle" fill="#4d4d4d">Dataset 2</text>
</g>
<g>
<rect x="151.3" y="681.1" width="260" height="248.2" fill="#fff"/>
<path d="M153.9 708.5H408.7M153.9 771.7H408.7M153.9 835H408.7M153.9 898.3H408.7" stroke="#ebebeb" stroke-width="1.6" fill="none"/>
<path d="M198.1 718.2C198.1 719.8 198.1 721.4 198.1 723C198.2 728 198.1 733 198.7 738C199.1 742.4 200.7 746.9 202.2 751.3C203.8 756.3 206.3 761.3 208 766.3C209.7 771.3 211.4 776.3 212.2 781.3C212.7 784.7 213 788 213 791.3C213 794.7 212.6 798 212.2 801.3C211.6 805.8 210.3 810.2 209.3 814.7C208.4 819.1 207 823.6 206.3 828C205.4 833.6 205.5 839.1 205 844.7C204.5 850.2 203.9 855.8 203.3 861.3C202.7 866.9 202.1 872.4 201.3 878C200.6 883.6 199.5 889.1 199 894.7C198.5 900.2 198.2 905.8 198.1 911.3C198.1 913.9 198.1 916.4 198.1 919L197.6 919C197.6 916.4 197.6 913.9 197.5 911.3C197.4 905.8 197.2 900.2 196.7 894.7C196.1 889.1 195.1 883.6 194.3 878C193.6 872.4 192.9 866.9 192.3 861.3C191.7 855.8 191.2 850.2 190.7 844.7C190.2 839.1 190.2 833.6 189.3 828C188.6 823.6 187.3 819.1 186.3 814.7C185.4 810.2 184.1 805.8 183.5 801.3C183 798 182.7 794.7 182.7 791.3C182.7 788 183 784.7 183.5 781.3C184.3 776.3 186 771.3 187.7 766.3C189.3 761.3 191.9 756.3 193.5 751.3C194.9 746.9 196.5 742.4 197 738C197.5 733 197.5 728 197.5 723C197.6 721.4 197.6 719.8 197.6 718.2Z" fill="#a020f0" fill-opacity="0.7" stroke="#a020f0" stroke-width="3.0" stroke-linejoin="round"/>
<path d="M245.6 692C245.6 694 245.6 696 245.6 698C245.7 703.6 245.6 709.1 245.8 714.7C246.1 721.3 247.1 728 248 734.7C248.9 741.3 250.3 748 251.3 754.7C252.4 761.3 253.3 768 254.2 774.7C255 781.3 255.6 788 256.3 794.7C256.9 800.2 257.4 805.8 258 811.3C258.2 813 258.5 814.7 258.5 816.3C258.5 820.2 258.3 824.1 258 828C257.6 833 256.9 838 255.8 843C254.7 848 252.8 853 251.3 858C249.9 863 248.1 868 247.2 873C246.2 878 245.7 883 245.6 888C245.6 890.6 245.6 893.1 245.6 895.7L245.1 895.7C245.1 893.1 245.1 890.6 245 888C244.9 883 244.4 878 243.5 873C242.5 868 240.8 863 239.3 858C237.9 853 235.9 848 234.8 843C233.7 838 233.1 833 232.7 828C232.3 824.1 232.2 820.2 232.2 816.3C232.2 814.7 232.5 813 232.7 811.3C233.2 805.8 233.8 800.2 234.3 794.7C235 788 235.7 781.3 236.5 774.7C237.3 768 238.3 761.3 239.3 754.7C240.4 748 241.7 741.3 242.7 734.7C243.6 728 244.6 721.3 244.8 714.7C245 709.1 245 703.6 245 698C245.1 696 245.1 694 245.1 692Z" fill="#ffa500" fill-opacity="0.7" stroke="#ffa500" stroke-width="3.0" stroke-linejoin="round"/>
<path d="M317.1 717C317.2 721.4 317.1 725.8 317.3 730.2C317.6 735.2 318.9 740.3 319.8 745.3C320.8 750.4 321.6 755.4 322.8 760.5C324 765.6 325.6 770.6 327 775.7C328.4 780.7 330.1 785.8 331 790.8C331.6 794.2 332 797.6 332.3 801C332.6 804.3 332.8 807.7 332.8 811C332.8 814.4 332.8 817.8 332.5 821.2C332.2 824.6 331.3 827.9 330.5 831.3C329.7 834.7 328.6 838 327.5 841.3C326.4 844.7 325 848.1 324 851.5C323 854.9 322.1 858.3 321.3 861.7C320.6 865 320.2 868.3 319.7 871.7C318.9 876.7 318.3 881.8 317.8 886.8C317.5 890.2 317.2 893.6 317.1 897C317.1 901.2 317.1 905.3 317.1 909.5L316.6 909.5C316.6 905.3 316.6 901.2 316.5 897C316.5 893.6 316.1 890.2 315.8 886.8C315.4 881.8 314.8 876.7 314 871.7C313.5 868.3 313 865 312.3 861.7C311.6 858.3 310.7 854.9 309.7 851.5C308.6 848.1 307.3 844.7 306.2 841.3C305.1 838 304 834.7 303.2 831.3C302.3 827.9 301.5 824.6 301.2 821.2C300.8 817.8 300.8 814.4 300.8 811C300.8 807.7 301 804.3 301.3 801C301.6 797.6 302 794.2 302.7 790.8C303.6 785.8 305.3 780.7 306.7 775.7C308 770.6 309.6 765.6 310.8 760.5C312 755.4 312.9 750.4 313.8 745.3C314.8 740.3 316 735.2 316.3 730.2C316.6 725.8 316.5 721.4 316.6 717Z" fill="#a020f0" fill-opacity="0.7" stroke="#a020f0" stroke-width="3.0" stroke-linejoin="round"/>
<path d="M364.6 754.3C364.7 756.4 364.6 758.4 364.8 760.5C365.1 762.6 366.4 764.6 367.3 766.7C368.2 768.7 369.5 770.7 370.3 772.7C371.2 774.7 371.9 776.7 372.3 778.7C372.8 780.7 373 782.8 373 784.8C373 786.5 373 788.2 373 789.8C373 791.9 374.4 793.9 376.2 796C377.9 798 381.3 800 383.3 802C385.4 804 387.4 806 388.7 808C389.9 810.1 390.3 812.1 390.7 814.2C391 815.8 391.2 817.5 391.2 819.2C391.2 821.2 390.7 823.2 389.7 825.2C388.6 827.2 386.8 829.3 385 831.3C383.2 833.3 380.8 835.3 378.8 837.3C376.8 839.4 374.7 841.4 373.2 843.5C371.7 845.5 370.5 847.5 369.7 849.5C368.7 851.8 368.4 854.2 367.8 856.5C367.3 858.9 366.8 861.3 366.3 863.7C365.8 866.3 365.1 869 364.8 871.7C364.6 873.8 364.7 875.9 364.6 878L364.1 878C364 875.9 364.1 873.8 363.8 871.7C363.6 869 362.9 866.3 362.3 863.7C361.9 861.3 361.4 858.9 360.8 856.5C360.3 854.2 360 851.8 359 849.5C358.1 847.5 357 845.5 355.5 843.5C354 841.4 351.8 839.4 349.8 837.3C347.9 835.3 345.5 833.3 343.7 831.3C341.8 829.3 340 827.2 339 825.2C338 823.2 337.5 821.2 337.5 819.2C337.5 817.5 337.7 815.8 338 814.2C338.4 812.1 338.7 810.1 340 808C341.2 806 343.3 804 345.3 802C347.4 800 350.8 798 352.5 796C354.3 793.9 355.7 791.9 355.7 789.8C355.7 788.2 355.7 786.5 355.7 784.8C355.7 782.8 355.9 780.7 356.3 778.7C356.8 776.7 357.5 774.7 358.3 772.7C359.2 770.7 360.4 768.7 361.3 766.7C362.3 764.6 363.6 762.6 363.8 760.5C364.1 758.4 364 756.4 364.1 754.3Z" fill="#ffa500" fill-opacity="0.7" stroke="#ffa500" stroke-width="3.0" stroke-linejoin="round"/>
<path d="M197.8 770V786.6M197.8 826.1V866.7" stroke="#000" stroke-width="3.2" fill="none"/>
<rect x="190.3" y="786.6" width="15" height="39.5" fill="#a020f0" fill-opacity="0.7" stroke="#000" stroke-width="3.2" stroke-linejoin="round"/>
<path d="M190.3 799.7H205.3" stroke="#000" stroke-width="7.0"/>
<path d="M245.3 747.2V780.9M245.3 827.2V840.5" stroke="#000" stroke-width="3.2" fill="none"/>
<rect x="237.8" y="780.9" width="15" height="46.3" fill="#ffa500" fill-opacity="0.7" stroke="#000" stroke-width="3.2" stroke-linejoin="round"/>
<path d="M237.8 797.7H252.8" stroke="#000" stroke-width="7.0"/>
<path d="M316.8 760.2V799.1M316.8 832.6V866.7" stroke="#000" stroke-width="3.2" fill="none"/>
<rect x="309.3" y="799.1" width="15" height="33.5" fill="#a020f0" fill-opacity="0.7" stroke="#000" stroke-width="3.2" stroke-linejoin="round"/>
<path d="M309.3 813.3H324.3" stroke="#000" stroke-width="7.0"/>
<path d="M364.3 778.8V807.1M364.3 827.6V853.8" stroke="#000" stroke-width="3.2" fill="none"/>
<rect x="356.8" y="807.1" width="15" height="20.5" fill="#ffa500" fill-opacity="0.7" stroke="#000" stroke-width="3.2" stroke-linejoin="round"/>
<path d="M356.8 818H371.8" stroke="#000" stroke-width="7.0"/>
<rect x="151.3" y="681.1" width="260" height="248.2" fill="none" stroke="#333333" stroke-width="1.6"/>
<rect x="151.3" y="638.8" width="260" height="42.3" fill="#d9d9d9" stroke="#333333" stroke-width="1.6"/>
<path d="M150.5 681.1H412.1" stroke="#333333" stroke-width="3.4"/>
<text x="281.3" y="666.4" font-size="21.0" text-anchor="middle" fill="#1a1a1a" class="st">IN VIP</text>
<path d="M143.3 740H150.5M143.3 803.3H150.5M143.3 866.7H150.5" stroke="#333333" stroke-width="3.0" fill="none"/>
<text x="137.3" y="750.4" font-size="29.2" text-anchor="end" fill="#4d4d4d">0.08</text>
<text x="137.3" y="813.7" font-size="29.2" text-anchor="end" fill="#4d4d4d">0.04</text>
<text x="137.3" y="877" font-size="29.2" text-anchor="end" fill="#4d4d4d">0.00</text>
<path d="M222.2 930.1V937.3M340.4 930.1V937.3" stroke="#333333" stroke-width="3.0" fill="none"/>
<text x="222.2" y="961.3" font-size="25.6" text-anchor="middle" fill="#4d4d4d">Dataset 1</text>
<text x="340.4" y="961.3" font-size="25.6" text-anchor="middle" fill="#4d4d4d">Dataset 2</text>
</g>
<g>
<rect x="495.1" y="681.1" width="259.4" height="248.2" fill="#fff"/>
<path d="M497.7 685H751.9M497.7 756.7H751.9M497.7 828.3H751.9M497.7 900H751.9" stroke="#ebebeb" stroke-width="1.6" fill="none"/>
<path d="M541.6 818.5C541.6 820.1 541.6 821.6 541.6 823.2C541.7 825.1 543.4 827.1 544.3 829C545.4 831.2 546.7 833.4 547.7 835.7C548.6 837.8 549.7 840 550.2 842.2C550.5 843.8 550.2 845.5 550.7 847.2C551.1 848.6 551.2 849.9 552.7 851.3C554.1 852.7 557.2 854 559.3 855.3C561.5 856.7 564 858.1 565.5 859.5C567 860.9 568.5 862.3 568.5 863.7C568.5 864.7 567.5 865.8 566.2 866.8C564.7 867.9 562.1 869.1 559.8 870.2C557.5 871.3 554.6 872.4 552.3 873.5C550 874.6 547.6 875.7 546 876.8C544.5 877.9 543.4 878.9 542.7 880C542.1 880.8 541.9 881.7 541.6 882.5L541.1 882.5C540.7 881.7 540.6 880.8 540 880C539.3 878.9 538.2 877.9 536.7 876.8C535 875.7 532.6 874.6 530.3 873.5C528 872.4 525.1 871.3 522.8 870.2C520.5 869.1 517.9 867.9 516.5 866.8C515.1 865.8 514.2 864.7 514.2 863.7C514.2 862.3 515.6 860.9 517.2 859.5C518.7 858.1 521.1 856.7 523.3 855.3C525.4 854 528.6 852.7 530 851.3C531.5 849.9 531.6 848.6 532 847.2C532.5 845.5 532.1 843.8 532.5 842.2C533 840 534 837.8 535 835.7C536 833.4 537.3 831.2 538.3 829C539.3 827.1 541 825.1 541 823.2C541.1 821.6 541.1 820.1 541.1 818.5Z" fill="#a020f0" fill-opacity="0.7" stroke="#a020f0" stroke-width="3.0" stroke-linejoin="round"/>
<path d="M589.1 752.2C589.1 758 589.1 763.8 589.1 769.7C589.2 775.2 590.2 780.7 590.7 786.2C591.1 791.7 591.5 797.2 591.8 802.7C592.2 808.2 592.3 813.7 592.7 819.2C592.9 821.9 593 824.6 593.3 827.3C593.9 832.8 594.8 838.3 596 843.8C596.6 846.6 597.3 849.3 598 852C598.6 854.2 599.2 856.4 599.7 858.7C600 860.3 600.5 862 600.5 863.7C600.5 865.3 600.2 866.9 599.7 868.5C599.1 870.2 598.1 871.8 597.2 873.5C596.3 875.2 595.2 876.8 594.3 878.5C593.2 880.7 592.3 882.8 591.5 885C590.7 887.2 589.5 889.4 589.3 891.7C589.1 896.1 589.2 900.6 589.1 905L588.6 905C588.5 900.6 588.6 896.1 588.3 891.7C588.2 889.4 587 887.2 586.2 885C585.3 882.8 584.4 880.7 583.3 878.5C582.5 876.8 581.4 875.2 580.5 873.5C579.6 871.8 578.6 870.2 578 868.5C577.5 866.9 577.2 865.3 577.2 863.7C577.2 862 577.7 860.3 578 858.7C578.4 856.4 579.1 854.2 579.7 852C580.3 849.3 581.1 846.6 581.7 843.8C582.9 838.3 583.7 832.8 584.3 827.3C584.6 824.6 584.8 821.9 585 819.2C585.4 813.7 585.5 808.2 585.8 802.7C586.2 797.2 586.6 791.7 587 786.2C587.5 780.7 588.5 775.2 588.5 769.7C588.6 763.8 588.6 758 588.6 752.2Z" fill="#ffa500" fill-opacity="0.7" stroke="#ffa500" stroke-width="3.0" stroke-linejoin="round"/>
<path d="M660.2 700.7C660.3 703.1 660.3 705.6 660.3 708C660.4 714.7 660.3 721.3 660.5 728C660.7 734.7 661.3 741.3 661.8 748C662.4 755.2 663.2 762.4 663.8 769.7C664.4 776.9 665.1 784.1 665.5 791.3C665.8 796.9 666.2 802.4 666.2 808C666.2 814.7 665.9 821.3 665.5 828C665.1 835.2 664.2 842.4 663.5 849.7C662.9 856.3 662 863 661.5 869.7C660.9 876.9 660.3 884.1 660.3 891.3C660.3 898 660.3 904.7 660.3 911.3C660.3 913.9 660.3 916.4 660.2 919L659.8 919C659.7 916.4 659.7 913.9 659.7 911.3C659.7 904.7 659.7 898 659.7 891.3C659.7 884.1 659.1 876.9 658.5 869.7C658 863 657.1 856.3 656.5 849.7C655.8 842.4 654.9 835.2 654.5 828C654.1 821.3 653.8 814.7 653.8 808C653.8 802.4 654.2 796.9 654.5 791.3C654.9 784.1 655.6 776.9 656.2 769.7C656.8 762.4 657.6 755.2 658.2 748C658.7 741.3 659.3 734.7 659.5 728C659.7 721.3 659.6 714.7 659.7 708C659.7 705.6 659.7 703.1 659.8 700.7Z" fill="#a020f0" fill-opacity="0.7" stroke="#a020f0" stroke-width="3.0" stroke-linejoin="round"/>
<path d="M708.1 692C708.1 695.7 708.1 699.3 708.1 703C708.1 714.1 708.1 725.2 708.1 736.3C708.1 747.4 708.5 758.6 709 769.7C709.4 778 710 786.3 710.7 794.7C711.2 801.3 712 808 712.7 814.7C713.3 820.8 714.1 826.9 714.7 833C715.2 838.6 716 844.1 716 849.7C716 854.7 716 859.7 715.5 864.7C715.1 869.1 713.9 873.6 713 878C712.1 882.4 710.8 886.9 710 891.3C709.2 895.8 708.2 900.2 708.1 904.7C708.1 907.6 708.1 910.4 708.1 913.3L707.6 913.3C707.6 910.4 707.6 907.6 707.5 904.7C707.5 900.2 706.5 895.8 705.7 891.3C704.9 886.9 703.6 882.4 702.7 878C701.8 873.6 700.6 869.1 700.2 864.7C699.7 859.7 699.7 854.7 699.7 849.7C699.7 844.1 700.5 838.6 701 833C701.6 826.9 702.4 820.8 703 814.7C703.7 808 704.4 801.3 705 794.7C705.7 786.3 706.3 778 706.7 769.7C707.2 758.6 707.5 747.4 707.5 736.3C707.5 725.2 707.5 714.1 707.5 703C707.5 699.3 707.6 695.7 707.6 692Z" fill="#ffa500" fill-opacity="0.7" stroke="#ffa500" stroke-width="3.0" stroke-linejoin="round"/>
<path d="M541.3 836.3V851.3" stroke="#000" stroke-width="3.2" fill="none"/>
<rect x="533.8" y="851.3" width="15" height="13.8" fill="#a020f0" fill-opacity="0.7" stroke="#000" stroke-width="3.2" stroke-linejoin="round"/>
<path d="M533.8 863.3H548.8" stroke="#000" stroke-width="7.0"/>
<path d="M588.8 794.7V832.9" stroke="#000" stroke-width="3.2" fill="none"/>
<rect x="581.3" y="832.9" width="15" height="32.1" fill="#ffa500" fill-opacity="0.7" stroke="#000" stroke-width="3.2" stroke-linejoin="round"/>
<path d="M581.3 863.8H596.3" stroke="#000" stroke-width="7.0"/>
<path d="M660 755.5V780.9M660 824.4V864.2" stroke="#000" stroke-width="3.2" fill="none"/>
<rect x="652.5" y="780.9" width="15" height="43.5" fill="#a020f0" fill-opacity="0.7" stroke="#000" stroke-width="3.2" stroke-linejoin="round"/>
<path d="M652.5 812.7H667.5" stroke="#000" stroke-width="7.0"/>
<path d="M707.8 741V812.9" stroke="#000" stroke-width="3.2" fill="none"/>
<rect x="700.3" y="812.9" width="15" height="50.5" fill="#ffa500" fill-opacity="0.7" stroke="#000" stroke-width="3.2" stroke-linejoin="round"/>
<path d="M700.3 845.5H715.3" stroke="#000" stroke-width="7.0"/>
<text x="674" y="701.3" font-size="62" fill="#000">.</text>
<rect x="495.1" y="681.1" width="259.4" height="248.2" fill="none" stroke="#333333" stroke-width="1.6"/>
<rect x="495.1" y="638.8" width="259.4" height="42.3" fill="#d9d9d9" stroke="#333333" stroke-width="1.6"/>
<path d="M494.3 681.1H755.3" stroke="#333333" stroke-width="3.4"/>
<text x="624.8" y="666.4" font-size="21.0" text-anchor="middle" fill="#1a1a1a" class="st">IN SV2C</text>
<path d="M487.1 720.5H494.3M487.1 792.5H494.3M487.1 864.2H494.3" stroke="#333333" stroke-width="3.0" fill="none"/>
<text x="481.1" y="730.9" font-size="29.2" text-anchor="end" fill="#4d4d4d">0.04</text>
<text x="481.1" y="802.9" font-size="29.2" text-anchor="end" fill="#4d4d4d">0.02</text>
<text x="481.1" y="874.5" font-size="29.2" text-anchor="end" fill="#4d4d4d">0.00</text>
<path d="M565.8 930.1V937.3M683.8 930.1V937.3" stroke="#333333" stroke-width="3.0" fill="none"/>
<text x="565.8" y="961.3" font-size="25.6" text-anchor="middle" fill="#4d4d4d">Dataset 1</text>
<text x="683.8" y="961.3" font-size="25.6" text-anchor="middle" fill="#4d4d4d">Dataset 2</text>
</g>
<g>
<rect x="141.2" y="1096" width="260.4" height="258" fill="#fff"/>
<path d="M143.8 1151.2H399M143.8 1231.2H399M143.8 1311.2H399" stroke="#ebebeb" stroke-width="1.6" fill="none"/>
<path d="M188.1 1213C188.1 1214.5 188.1 1216 188.1 1217.5C188.2 1219.3 190.8 1221.1 191.7 1222.8C192.4 1224.3 193.3 1225.7 193.3 1227.2C193.3 1228.6 193.3 1230.1 193.3 1231.5C193.3 1232.9 194.1 1234.4 196 1235.8C197.9 1237.2 201.9 1238.6 204.5 1240C207.2 1241.4 210.1 1242.9 211.8 1244.3C213.7 1245.9 214.8 1247.6 214.8 1249.2C214.8 1250.8 212.9 1252.4 210.8 1254C209 1255.4 205.8 1256.9 203.5 1258.3C201.2 1259.8 198.2 1261.2 196.8 1262.7C195.6 1264.1 195.5 1265.4 195.5 1266.8C195.5 1268.7 196.7 1270.5 197 1272.3C197.2 1273.4 197.3 1274.4 197.3 1275.5C197.3 1276.9 196.6 1278.4 195.8 1279.8C195.1 1281.3 193.9 1282.7 192.8 1284.2C191.8 1285.6 190.3 1286.9 189.5 1288.3C188.9 1289.4 188.3 1290.6 188.2 1291.7C188.1 1292.6 188.1 1293.6 188.1 1294.5L187.6 1294.5C187.6 1293.6 187.6 1292.6 187.5 1291.7C187.4 1290.6 186.8 1289.4 186.2 1288.3C185.4 1286.9 183.9 1285.6 182.8 1284.2C181.8 1282.7 180.6 1281.3 179.8 1279.8C179.1 1278.4 178.3 1276.9 178.3 1275.5C178.3 1274.4 178.5 1273.4 178.7 1272.3C179 1270.5 180.2 1268.7 180.2 1266.8C180.2 1265.4 180.1 1264.1 178.8 1262.7C177.5 1261.2 174.5 1259.8 172.2 1258.3C169.8 1256.9 166.7 1255.4 164.8 1254C162.8 1252.4 160.8 1250.8 160.8 1249.2C160.8 1247.6 161.9 1245.9 163.8 1244.3C165.5 1242.9 168.5 1241.4 171.2 1240C173.8 1238.6 177.8 1237.2 179.7 1235.8C181.6 1234.4 182.3 1232.9 182.3 1231.5C182.3 1230.1 182.3 1228.6 182.3 1227.2C182.3 1225.7 183.3 1224.3 184 1222.8C184.9 1221.1 187.5 1219.3 187.5 1217.5C187.6 1216 187.6 1214.5 187.6 1213Z" fill="#a020f0" fill-opacity="0.7" stroke="#a020f0" stroke-width="3.0" stroke-linejoin="round"/>
<path d="M235.6 1152.2C235.6 1154.3 235.6 1156.5 235.6 1158.7C235.7 1163.1 236.1 1167.6 236.8 1172C237.6 1176.4 238.7 1180.9 240 1185.3C240.9 1188.6 242.3 1191.8 243.2 1195C244.1 1198.6 244.6 1202.1 245.2 1205.7C245.8 1209.3 246.3 1212.9 246.7 1216.5C247.1 1220.1 247.5 1223.6 247.5 1227.2C247.5 1230.1 246.7 1232.9 245.7 1235.8C244.7 1238.3 243 1240.8 241.8 1243.3C240.7 1245.8 239.4 1248.3 238.7 1250.8C237.8 1253.7 237.6 1256.5 237.3 1259.3C237 1262.9 237 1266.6 237 1270.2C237 1273.7 237.8 1277.3 237.8 1280.8C237.8 1284.4 237.4 1288.1 237 1291.7C236.6 1295.2 235.7 1298.8 235.7 1302.3C235.6 1306.7 235.6 1311.1 235.6 1315.5L235.1 1315.5C235.1 1311.1 235.1 1306.7 235 1302.3C234.9 1298.8 234 1295.2 233.7 1291.7C233.3 1288.1 232.8 1284.4 232.8 1280.8C232.8 1277.3 233.7 1273.7 233.7 1270.2C233.7 1266.6 233.7 1262.9 233.3 1259.3C233.1 1256.5 232.8 1253.7 232 1250.8C231.3 1248.3 230 1245.8 228.8 1243.3C227.7 1240.8 225.9 1238.3 225 1235.8C223.9 1232.9 223.2 1230.1 223.2 1227.2C223.2 1223.6 223.6 1220.1 224 1216.5C224.4 1212.9 224.9 1209.3 225.5 1205.7C226.1 1202.1 226.6 1198.6 227.5 1195C228.3 1191.8 229.7 1188.6 230.7 1185.3C232 1180.9 233.1 1176.4 233.8 1172C234.6 1167.6 234.9 1163.1 235 1158.7C235.1 1156.5 235.1 1154.3 235.1 1152.2Z" fill="#ffa500" fill-opacity="0.7" stroke="#ffa500" stroke-width="3.0" stroke-linejoin="round"/>
<path d="M307.1 1203.3C307.1 1205.9 307.1 1208.6 307.2 1211.2C307.2 1213.7 308.8 1216.2 309.8 1218.7C310.8 1221.2 312.4 1223.7 313.2 1226.2C313.8 1228.3 314.2 1230.4 314.2 1232.5C314.2 1234.3 314 1236.2 313.7 1238C313.2 1240.1 312 1242.2 311.5 1244.3C311 1246.5 310.5 1248.7 310.5 1250.8C310.5 1254.4 314.8 1257.9 316.8 1261.5C318 1263.7 319.5 1265.8 320.3 1268C321.2 1270.2 321.8 1272.3 321.8 1274.5C321.8 1276.6 321.1 1278.7 320.2 1280.8C319.2 1283 317.1 1285.2 315.8 1287.3C314.6 1289.4 313.5 1291.6 312.7 1293.7C311.5 1296.6 311.1 1299.4 310.5 1302.3C309.8 1305.9 309.3 1309.4 308.8 1313C308.3 1316.6 307.8 1320.2 307.5 1323.8C307.2 1327.4 307.2 1330.9 307.1 1334.5C307.1 1337.6 307.1 1340.6 307.1 1343.7L306.6 1343.7C306.6 1340.6 306.6 1337.6 306.5 1334.5C306.5 1330.9 306.4 1327.4 306.2 1323.8C305.9 1320.2 305.3 1316.6 304.8 1313C304.3 1309.4 303.9 1305.9 303.2 1302.3C302.6 1299.4 302.1 1296.6 301 1293.7C300.2 1291.6 299.1 1289.4 297.8 1287.3C296.6 1285.2 294.5 1283 293.5 1280.8C292.5 1278.7 291.8 1276.6 291.8 1274.5C291.8 1272.3 292.5 1270.2 293.3 1268C294.2 1265.8 295.6 1263.7 296.8 1261.5C298.8 1257.9 303.2 1254.4 303.2 1250.8C303.2 1248.7 302.7 1246.5 302.2 1244.3C301.6 1242.2 300.4 1240.1 300 1238C299.6 1236.2 299.5 1234.3 299.5 1232.5C299.5 1230.4 299.9 1228.3 300.5 1226.2C301.2 1223.7 302.8 1221.2 303.8 1218.7C304.8 1216.2 306.4 1213.7 306.5 1211.2C306.6 1208.6 306.6 1205.9 306.6 1203.3Z" fill="#a020f0" fill-opacity="0.7" stroke="#a020f0" stroke-width="3.0" stroke-linejoin="round"/>
<path d="M354.9 1113C354.9 1114.3 354.9 1115.7 355 1117C355.1 1120.9 355.9 1124.8 356.2 1128.7C356.4 1131.4 356.5 1134.2 356.5 1137C356.5 1140.9 355.8 1144.8 355.5 1148.7C355.2 1153.1 355 1157.6 355 1162C355 1166.4 355.1 1170.9 355.5 1175.3C355.9 1179.8 356.6 1184.2 357.2 1188.7C357.6 1192.6 357.9 1196.4 358.5 1200.3C359.1 1204.2 359.7 1208.1 360.7 1212C361.6 1215.9 363 1219.8 364 1223.7C365 1227.6 365.9 1231.4 366.5 1235.3C367 1238.7 367.3 1242 367.3 1245.3C367.3 1248.7 366.5 1252 365.7 1255.3C364.8 1258.7 363.4 1262 362.3 1265.3C361.2 1268.7 360 1272 359 1275.3C357.9 1279.2 356.9 1283.1 356.2 1287C355.6 1290.3 355.1 1293.7 355 1297C354.9 1298.1 354.9 1299.1 354.9 1300.2L354.4 1300.2C354.4 1299.1 354.4 1298.1 354.4 1297C354.2 1293.7 353.8 1290.3 353.2 1287C352.5 1283.1 351.5 1279.2 350.3 1275.3C349.4 1272 348.1 1268.7 347 1265.3C345.9 1262 344.5 1258.7 343.7 1255.3C342.8 1252 342 1248.7 342 1245.3C342 1242 342.4 1238.7 342.8 1235.3C343.4 1231.4 344.4 1227.6 345.3 1223.7C346.3 1219.8 347.7 1215.9 348.7 1212C349.6 1208.1 350.2 1204.2 350.8 1200.3C351.4 1196.4 351.7 1192.6 352.2 1188.7C352.7 1184.2 353.5 1179.8 353.8 1175.3C354.2 1170.9 354.4 1166.4 354.4 1162C354.4 1157.6 354.1 1153.1 353.8 1148.7C353.6 1144.8 352.8 1140.9 352.8 1137C352.8 1134.2 353 1131.4 353.2 1128.7C353.4 1124.8 354.2 1120.9 354.4 1117C354.4 1115.7 354.4 1114.3 354.4 1113Z" fill="#ffa500" fill-opacity="0.7" stroke="#ffa500" stroke-width="3.0" stroke-linejoin="round"/>
<path d="M187.8 1229.5V1247.3M187.8 1258.7V1272" stroke="#000" stroke-width="3.2" fill="none"/>
<rect x="180.3" y="1247.3" width="15" height="11.5" fill="#a020f0" fill-opacity="0.7" stroke="#000" stroke-width="3.2" stroke-linejoin="round"/>
<path d="M180.3 1251.2H195.3" stroke="#000" stroke-width="7.0"/>
<path d="M235.3 1187.8V1206.9M235.3 1233.4V1239.5" stroke="#000" stroke-width="3.2" fill="none"/>
<rect x="227.8" y="1206.9" width="15" height="26.5" fill="#ffa500" fill-opacity="0.7" stroke="#000" stroke-width="3.2" stroke-linejoin="round"/>
<path d="M227.8 1227.8H242.8" stroke="#000" stroke-width="7.0"/>
<path d="M306.8 1232.8V1257.8M306.8 1280.4V1314.5" stroke="#000" stroke-width="3.2" fill="none"/>
<rect x="299.3" y="1257.8" width="15" height="22.6" fill="#a020f0" fill-opacity="0.7" stroke="#000" stroke-width="3.2" stroke-linejoin="round"/>
<path d="M299.3 1274.2H314.3" stroke="#000" stroke-width="7.0"/>
<path d="M354.7 1189.5V1222.8M354.7 1247.4V1272" stroke="#000" stroke-width="3.2" fill="none"/>
<rect x="347.2" y="1222.8" width="15" height="24.6" fill="#ffa500" fill-opacity="0.7" stroke="#000" stroke-width="3.2" stroke-linejoin="round"/>
<path d="M347.2 1238.3H362.2" stroke="#000" stroke-width="7.0"/>
<text x="208.5" y="1138.6" font-size="46.0" font-weight="bold" text-anchor="middle" fill="#000">**</text>
<text x="327.7" y="1138.6" font-size="46.0" font-weight="bold" text-anchor="middle" fill="#000">****</text>
<rect x="141.2" y="1096" width="260.4" height="258" fill="none" stroke="#333333" stroke-width="1.6"/>
<rect x="141.2" y="1052.6" width="260.4" height="43.4" fill="#d9d9d9" stroke="#333333" stroke-width="1.6"/>
<path d="M140.4 1096H402.4" stroke="#333333" stroke-width="3.4"/>
<text x="271.4" y="1081.3" font-size="22.4" text-anchor="middle" fill="#1a1a1a" class="st">Astrocytes</text>
<path d="M133.2 1110.7H140.4M133.2 1190.3H140.4M133.2 1271.2H140.4M133.2 1351.7H140.4" stroke="#333333" stroke-width="3.0" fill="none"/>
<text x="126.3" y="1121.7" font-size="31.2" text-anchor="end" fill="#4d4d4d">0.3</text>
<text x="126.3" y="1201.4" font-size="31.2" text-anchor="end" fill="#4d4d4d">0.2</text>
<text x="126.3" y="1282.2" font-size="31.2" text-anchor="end" fill="#4d4d4d">0.1</text>
<text x="126.3" y="1362.7" font-size="31.2" text-anchor="end" fill="#4d4d4d">0.0</text>
</g>
<g>
<rect x="507.1" y="1096" width="260.1" height="258" fill="#fff"/>
<path d="M509.7 1146.2H764.6M509.7 1210.7H764.6M509.7 1274.5H764.6M509.7 1339H764.6" stroke="#ebebeb" stroke-width="1.6" fill="none"/>
<path d="M553.6 1287.8C553.6 1288.3 553.6 1288.7 553.6 1289.2C553.7 1289.8 556 1290.4 557.5 1291C559.6 1291.8 563.2 1292.7 565.2 1293.5C567.1 1294.3 568.2 1295.2 569 1296C569.9 1296.9 569.6 1297.8 570.2 1298.7C570.7 1299.5 571 1300.3 572.2 1301.2C573.3 1302 575.8 1302.8 577.2 1303.7C578.5 1304.5 580.3 1305.3 580.3 1306.2C580.3 1307 578.1 1307.8 575.8 1308.7C573.4 1309.6 569.1 1310.4 565.8 1311.3C562.8 1312.2 558.9 1313 556.8 1313.8C555.6 1314.3 554.5 1314.8 554 1315.3C553.8 1315.6 553.7 1315.8 553.6 1316L553.1 1316C552.9 1315.8 552.9 1315.6 552.7 1315.3C552.2 1314.8 551.1 1314.3 549.8 1313.8C547.7 1313 543.9 1312.2 540.8 1311.3C537.6 1310.4 533.3 1309.6 530.8 1308.7C528.5 1307.8 526.3 1307 526.3 1306.2C526.3 1305.3 528.1 1304.5 529.5 1303.7C530.9 1302.8 533.3 1302 534.5 1301.2C535.7 1300.3 536 1299.5 536.5 1298.7C537.1 1297.8 536.8 1296.9 537.7 1296C538.5 1295.2 539.6 1294.3 541.5 1293.5C543.4 1292.7 547.1 1291.8 549.2 1291C550.7 1290.4 553 1289.8 553 1289.2C553.1 1288.7 553.1 1288.3 553.1 1287.8Z" fill="#a020f0" fill-opacity="0.7" stroke="#a020f0" stroke-width="3.0" stroke-linejoin="round"/>
<path d="M601.2 1268.3C601.3 1268.9 601.2 1269.6 601.3 1270.2C601.4 1271.4 602.2 1272.7 602.8 1274C603.4 1275.2 604.5 1276.4 605 1277.7C605.6 1279.2 605.7 1280.7 605.7 1282.2C605.7 1283.6 605.7 1285.1 605.7 1286.5C605.7 1287.8 605.7 1289.1 606.7 1290.3C607.5 1291.4 608.9 1292.4 610.3 1293.5C611.8 1294.6 614.1 1295.6 615.3 1296.7C616.6 1297.7 617.2 1298.8 617.7 1299.8C618.1 1300.7 618.3 1301.5 618.3 1302.3C618.3 1303.4 617.8 1304.4 617 1305.5C616.2 1306.6 614.9 1307.6 613.3 1308.7C611.8 1309.7 609.4 1310.8 607.7 1311.8C606.2 1312.7 604.9 1313.6 603.8 1314.5C602.9 1315.3 601.8 1316.2 601.5 1317C601.2 1317.8 601.3 1318.6 601.2 1319.3L600.8 1319.3C600.7 1318.6 600.8 1317.8 600.5 1317C600.2 1316.2 599.1 1315.3 598.2 1314.5C597.1 1313.6 595.8 1312.7 594.3 1311.8C592.6 1310.8 590.2 1309.7 588.7 1308.7C587.1 1307.6 585.8 1306.6 585 1305.5C584.2 1304.4 583.7 1303.4 583.7 1302.3C583.7 1301.5 583.9 1300.7 584.3 1299.8C584.8 1298.8 585.4 1297.7 586.7 1296.7C587.9 1295.6 590.2 1294.6 591.7 1293.5C593.1 1292.4 594.5 1291.4 595.3 1290.3C596.3 1289.1 596.3 1287.8 596.3 1286.5C596.3 1285.1 596.3 1283.6 596.3 1282.2C596.3 1280.7 596.4 1279.2 597 1277.7C597.5 1276.4 598.6 1275.2 599.2 1274C599.8 1272.7 600.6 1271.4 600.7 1270.2C600.8 1269.6 600.7 1268.9 600.8 1268.3Z" fill="#ffa500" fill-opacity="0.7" stroke="#ffa500" stroke-width="3.0" stroke-linejoin="round"/>
<path d="M673.1 1185.5C673.1 1187.7 673.1 1189.8 673.1 1192C673.2 1197.6 673.1 1203.1 673.3 1208.7C673.5 1214.2 674.2 1219.8 674.7 1225.3C675.2 1230.9 675.8 1236.4 676.3 1242C676.8 1247.6 677.3 1253.1 677.7 1258.7C677.9 1263.1 678.3 1267.6 678.3 1272C678.3 1276.4 678.1 1280.9 677.7 1285.3C677.3 1289.8 676.6 1294.2 676 1298.7C675.4 1303.1 674.8 1307.6 674.3 1312C673.9 1316.4 673.1 1320.9 673.1 1325.3C673.1 1329.8 673.1 1334.2 673.1 1338.7C673.1 1340.3 673.1 1341.9 673.1 1343.5L672.6 1343.5C672.6 1341.9 672.5 1340.3 672.5 1338.7C672.5 1334.2 672.5 1329.8 672.5 1325.3C672.5 1320.9 671.8 1316.4 671.3 1312C670.9 1307.6 670.2 1303.1 669.7 1298.7C669.1 1294.2 668.4 1289.8 668 1285.3C667.6 1280.9 667.3 1276.4 667.3 1272C667.3 1267.6 667.7 1263.1 668 1258.7C668.4 1253.1 668.8 1247.6 669.3 1242C669.8 1236.4 670.5 1230.9 671 1225.3C671.5 1219.8 672.1 1214.2 672.3 1208.7C672.5 1203.1 672.5 1197.6 672.5 1192C672.6 1189.8 672.6 1187.7 672.6 1185.5Z" fill="#a020f0" fill-opacity="0.7" stroke="#a020f0" stroke-width="3.0" stroke-linejoin="round"/>
<path d="M720.6 1108C720.6 1111 720.6 1114 720.6 1117C720.7 1125.3 720.6 1133.7 720.8 1142C721 1150.3 721.4 1158.7 721.8 1167C722.2 1175.3 722.6 1183.7 723.2 1192C723.6 1197.6 724.2 1203.1 724.5 1208.7C724.8 1214.2 725.2 1219.8 725.2 1225.3C725.2 1230.9 724.8 1236.4 724.5 1242C724.2 1247.6 723.7 1253.1 723.2 1258.7C722.7 1264.2 721.9 1269.8 721.5 1275.3C720.9 1283.7 720.6 1292 720.6 1300.3C720.6 1311.4 720.6 1322.6 720.6 1333.7C720.6 1335.7 720.6 1337.7 720.6 1339.7L720.1 1339.7C720.1 1337.7 720 1335.7 720 1333.7C720 1322.6 720 1311.4 720 1300.3C720 1292 719.8 1283.7 719.2 1275.3C718.8 1269.8 718 1264.2 717.5 1258.7C717 1253.1 716.5 1247.6 716.2 1242C715.8 1236.4 715.5 1230.9 715.5 1225.3C715.5 1219.8 715.8 1214.2 716.2 1208.7C716.5 1203.1 717.1 1197.6 717.5 1192C718.1 1183.7 718.4 1175.3 718.8 1167C719.2 1158.7 719.6 1150.3 719.8 1142C720 1133.7 720 1125.3 720 1117C720.1 1114 720.1 1111 720.1 1108Z" fill="#ffa500" fill-opacity="0.7" stroke="#ffa500" stroke-width="3.0" stroke-linejoin="round"/>
<path d="M553.3 1296.7V1299.4" stroke="#000" stroke-width="3.2" fill="none"/>
<rect x="545.8" y="1299.4" width="15" height="8" fill="#a020f0" fill-opacity="0.7" stroke="#000" stroke-width="3.2" stroke-linejoin="round"/>
<path d="M545.8 1303.3H560.8" stroke="#000" stroke-width="7.0"/>
<path d="M601 1289.5V1298.6" stroke="#000" stroke-width="3.2" fill="none"/>
<rect x="593.5" y="1298.6" width="15" height="8.5" fill="#ffa500" fill-opacity="0.7" stroke="#000" stroke-width="3.2" stroke-linejoin="round"/>
<path d="M593.5 1300.8H608.5" stroke="#000" stroke-width="7.0"/>
<path d="M672.8 1222.3V1255.8M672.8 1284.9V1306.5" stroke="#000" stroke-width="3.2" fill="none"/>
<rect x="665.3" y="1255.8" width="15" height="29.1" fill="#a020f0" fill-opacity="0.7" stroke="#000" stroke-width="3.2" stroke-linejoin="round"/>
<path d="M665.3 1270.7H680.3" stroke="#000" stroke-width="7.0"/>
<path d="M720.3 1165V1191.6M720.3 1250.9V1282.3" stroke="#000" stroke-width="3.2" fill="none"/>
<rect x="712.8" y="1191.6" width="15" height="59.3" fill="#ffa500" fill-opacity="0.7" stroke="#000" stroke-width="3.2" stroke-linejoin="round"/>
<path d="M712.8 1226.2H727.8" stroke="#000" stroke-width="7.0"/>
<text x="694" y="1134.1" font-size="46.0" font-weight="bold" text-anchor="middle" fill="#000">***</text>
<rect x="507.1" y="1096" width="260.1" height="258" fill="none" stroke="#333333" stroke-width="1.6"/>
<rect x="507.1" y="1052.6" width="260.1" height="43.4" fill="#d9d9d9" stroke="#333333" stroke-width="1.6"/>
<path d="M506.3 1096H768" stroke="#333333" stroke-width="3.4"/>
<text x="637.2" y="1081.3" font-size="22.4" text-anchor="middle" fill="#1a1a1a" class="st">B-cells</text>
<path d="M499.1 1114H506.3M499.1 1178.2H506.3M499.1 1242.3H506.3M499.1 1306.5H506.3" stroke="#333333" stroke-width="3.0" fill="none"/>
<text x="492.2" y="1125.1" font-size="31.2" text-anchor="end" fill="#4d4d4d">0.015</text>
<text x="492.2" y="1189.2" font-size="31.2" text-anchor="end" fill="#4d4d4d">0.010</text>
<text x="492.2" y="1253.4" font-size="31.2" text-anchor="end" fill="#4d4d4d">0.005</text>
<text x="492.2" y="1317.6" font-size="31.2" text-anchor="end" fill="#4d4d4d">0.000</text>
</g>
<g>
<rect x="855.3" y="1096" width="260.7" height="258" fill="#fff"/>
<path d="M857.9 1113.7H1113.4M857.9 1158.7H1113.4M857.9 1203.7H1113.4M857.9 1249H1113.4M857.9 1294H1113.4M857.9 1339H1113.4" stroke="#ebebeb" stroke-width="1.6" fill="none"/>
<path d="M902.2 1204.3C902.3 1205.2 902.2 1206.1 902.3 1207C902.5 1209.8 904 1212.6 905 1215.3C905.9 1217.8 908 1220.3 908 1222.8C908 1225.6 906 1228.4 905 1231.2C904.1 1233.7 902.3 1236.2 902.3 1238.7C902.3 1240.9 902.3 1243.1 902.5 1245.3C902.6 1247 904.4 1248.7 905.5 1250.3C906.3 1251.6 906.8 1252.9 908.2 1254.2C910.3 1256.2 914.6 1258.2 917.7 1260.2C920.3 1261.9 923.6 1263.6 925.5 1265.3C927.1 1266.7 928.8 1268.1 928.8 1269.5C928.8 1270.9 927.2 1272.3 925.8 1273.7C924.5 1275.1 922.2 1276.4 920.8 1277.8C919.5 1279.2 918.6 1280.6 917.8 1282C916.9 1283.7 917 1285.3 915.8 1287C914.7 1288.7 912.3 1290.3 910.8 1292C908.6 1294.5 906.7 1297 905.2 1299.5C904 1301.4 902.4 1303.4 902.3 1305.3C902.2 1306 902.3 1306.7 902.2 1307.3L901.8 1307.3C901.7 1306.7 901.8 1306 901.7 1305.3C901.6 1303.4 900 1301.4 898.8 1299.5C897.3 1297 895.4 1294.5 893.2 1292C891.7 1290.3 889.3 1288.7 888.2 1287C887 1285.3 887.1 1283.7 886.2 1282C885.4 1280.6 884.5 1279.2 883.2 1277.8C881.8 1276.4 879.5 1275.1 878.2 1273.7C876.8 1272.3 875.2 1270.9 875.2 1269.5C875.2 1268.1 876.9 1266.7 878.5 1265.3C880.4 1263.6 883.7 1261.9 886.3 1260.2C889.4 1258.2 893.7 1256.2 895.8 1254.2C897.2 1252.9 897.7 1251.6 898.5 1250.3C899.6 1248.7 901.4 1247 901.5 1245.3C901.7 1243.1 901.7 1240.9 901.7 1238.7C901.7 1236.2 899.9 1233.7 899 1231.2C898 1228.4 896 1225.6 896 1222.8C896 1220.3 898.1 1217.8 899 1215.3C900 1212.6 901.5 1209.8 901.7 1207C901.8 1206.1 901.7 1205.2 901.8 1204.3Z" fill="#a020f0" fill-opacity="0.7" stroke="#a020f0" stroke-width="3.0" stroke-linejoin="round"/>
<path d="M949.9 1107.7C949.9 1110.8 949.9 1113.9 950 1117C950 1124.2 950 1131.4 950.2 1138.7C950.4 1145.3 951 1152 951.5 1158.7C952 1165.3 952.6 1172 953.2 1178.7C953.8 1185.3 954.5 1192 955.2 1198.7C955.8 1205.3 956.6 1212 957.2 1218.7C957.7 1225.3 958.2 1232 958.5 1238.7C958.6 1241.4 958.8 1244.2 958.8 1247C958.8 1250.9 958.5 1254.8 958.2 1258.7C957.8 1264.2 957.2 1269.8 956.5 1275.3C955.8 1280.9 954.9 1286.4 954.2 1292C953.4 1297.6 952.5 1303.1 951.8 1308.7C951.2 1314.2 950.4 1319.8 950.2 1325.3C950 1329.8 950 1334.2 950 1338.7C949.9 1340.1 949.9 1341.6 949.9 1343L949.4 1343C949.4 1341.6 949.4 1340.1 949.4 1338.7C949.3 1334.2 949.4 1329.8 949.2 1325.3C948.9 1319.8 948.2 1314.2 947.5 1308.7C946.8 1303.1 945.9 1297.6 945.2 1292C944.4 1286.4 943.5 1280.9 942.8 1275.3C942.2 1269.8 941.6 1264.2 941.2 1258.7C940.9 1254.8 940.5 1250.9 940.5 1247C940.5 1244.2 940.7 1241.4 940.8 1238.7C941.2 1232 941.6 1225.3 942.2 1218.7C942.7 1212 943.5 1205.3 944.2 1198.7C944.8 1192 945.6 1185.3 946.2 1178.7C946.8 1172 947.3 1165.3 947.8 1158.7C948.3 1152 949 1145.3 949.2 1138.7C949.4 1131.4 949.3 1124.2 949.4 1117C949.4 1113.9 949.4 1110.8 949.4 1107.7Z" fill="#ffa500" fill-opacity="0.7" stroke="#ffa500" stroke-width="3.0" stroke-linejoin="round"/>
<path d="M1021.6 1149.3C1021.6 1150.8 1021.6 1152.2 1021.6 1153.7C1021.7 1157.6 1021.9 1161.4 1022.5 1165.3C1023.2 1169.8 1024.4 1174.2 1025.7 1178.7C1026.9 1183.1 1028.6 1187.6 1029.8 1192C1031 1196.4 1032.1 1200.9 1032.8 1205.3C1033.4 1208.7 1034 1212 1034 1215.3C1034 1219.2 1033.7 1223.1 1033.2 1227C1032.5 1232 1031.1 1237 1030.2 1242C1029.1 1247.6 1028.2 1253.1 1027.3 1258.7C1026.5 1264.2 1025.9 1269.8 1025.2 1275.3C1024.5 1280.9 1023.8 1286.4 1023.2 1292C1022.6 1296.4 1021.7 1300.9 1021.6 1305.3C1021.6 1307.8 1021.6 1310.2 1021.6 1312.7L1021.1 1312.7C1021.1 1310.2 1021.1 1307.8 1021 1305.3C1020.9 1300.9 1020 1296.4 1019.5 1292C1018.8 1286.4 1018.2 1280.9 1017.5 1275.3C1016.8 1269.8 1016.2 1264.2 1015.3 1258.7C1014.5 1253.1 1013.5 1247.6 1012.5 1242C1011.6 1237 1010.1 1232 1009.5 1227C1009 1223.1 1008.7 1219.2 1008.7 1215.3C1008.7 1212 1009.3 1208.7 1009.8 1205.3C1010.6 1200.9 1011.6 1196.4 1012.8 1192C1014 1187.6 1015.8 1183.1 1017 1178.7C1018.2 1174.2 1019.5 1169.8 1020.2 1165.3C1020.8 1161.4 1020.9 1157.6 1021 1153.7C1021.1 1152.2 1021.1 1150.8 1021.1 1149.3Z" fill="#a020f0" fill-opacity="0.7" stroke="#a020f0" stroke-width="3.0" stroke-linejoin="round"/>
<path d="M1069.2 1113.8C1069.3 1116.6 1069.3 1119.3 1069.3 1122C1069.3 1128.7 1069.3 1135.3 1069.5 1142C1069.7 1148.7 1070 1155.3 1070.5 1162C1071 1168.1 1071.6 1174.2 1072.5 1180.3C1073.3 1185.9 1074.5 1191.4 1075.5 1197C1076.4 1202 1077.6 1207 1078.3 1212C1079 1216.4 1079.8 1220.9 1080 1225.3C1080.2 1229.8 1080.2 1234.2 1080.2 1238.7C1080.2 1243.7 1079.7 1248.7 1079.2 1253.7C1078.6 1258.7 1077.8 1263.7 1076.8 1268.7C1075.9 1273.7 1074.6 1278.7 1073.5 1283.7C1072.4 1288.7 1071.2 1293.7 1070.5 1298.7C1069.9 1302.6 1069.4 1306.4 1069.3 1310.3C1069.3 1311.2 1069.3 1312.1 1069.2 1313L1068.8 1313C1068.7 1312.1 1068.7 1311.2 1068.7 1310.3C1068.6 1306.4 1068.1 1302.6 1067.5 1298.7C1066.8 1293.7 1065.6 1288.7 1064.5 1283.7C1063.4 1278.7 1062.1 1273.7 1061.2 1268.7C1060.2 1263.7 1059.4 1258.7 1058.8 1253.7C1058.3 1248.7 1057.8 1243.7 1057.8 1238.7C1057.8 1234.2 1057.8 1229.8 1058 1225.3C1058.2 1220.9 1059 1216.4 1059.7 1212C1060.4 1207 1061.6 1202 1062.5 1197C1063.5 1191.4 1064.7 1185.9 1065.5 1180.3C1066.4 1174.2 1067 1168.1 1067.5 1162C1068 1155.3 1068.3 1148.7 1068.5 1142C1068.7 1135.3 1068.7 1128.7 1068.7 1122C1068.7 1119.3 1068.7 1116.6 1068.8 1113.8Z" fill="#ffa500" fill-opacity="0.7" stroke="#ffa500" stroke-width="3.0" stroke-linejoin="round"/>
<path d="M902 1258.7V1261.6M902 1275.7V1288.7" stroke="#000" stroke-width="3.2" fill="none"/>
<rect x="894.5" y="1261.6" width="15" height="14.1" fill="#a020f0" fill-opacity="0.7" stroke="#000" stroke-width="3.2" stroke-linejoin="round"/>
<path d="M894.5 1269H909.5" stroke="#000" stroke-width="7.0"/>
<path d="M949.7 1162.3V1219.4M949.7 1260.7V1288.7" stroke="#000" stroke-width="3.2" fill="none"/>
<rect x="942.2" y="1219.4" width="15" height="41.3" fill="#ffa500" fill-opacity="0.7" stroke="#000" stroke-width="3.2" stroke-linejoin="round"/>
<path d="M942.2 1234H957.2" stroke="#000" stroke-width="7.0"/>
<path d="M1021.3 1190.8V1207.3M1021.3 1239.9V1271.2" stroke="#000" stroke-width="3.2" fill="none"/>
<rect x="1013.8" y="1207.3" width="15" height="32.6" fill="#a020f0" fill-opacity="0.7" stroke="#000" stroke-width="3.2" stroke-linejoin="round"/>
<path d="M1013.8 1222.3H1028.8" stroke="#000" stroke-width="7.0"/>
<path d="M1069 1158.7V1211.1M1069 1252.1V1268.2" stroke="#000" stroke-width="3.2" fill="none"/>
<rect x="1061.5" y="1211.1" width="15" height="41" fill="#ffa500" fill-opacity="0.7" stroke="#000" stroke-width="3.2" stroke-linejoin="round"/>
<path d="M1061.5 1224H1076.5" stroke="#000" stroke-width="7.0"/>
<text x="913.3" y="1115.8" font-size="62" fill="#000">.</text>
<rect x="855.3" y="1096" width="260.7" height="258" fill="none" stroke="#333333" stroke-width="1.6"/>
<rect x="855.3" y="1052.6" width="260.7" height="43.4" fill="#d9d9d9" stroke="#333333" stroke-width="1.6"/>
<path d="M854.5 1096H1116.8" stroke="#333333" stroke-width="3.4"/>
<text x="985.6" y="1081.3" font-size="22.4" text-anchor="middle" fill="#1a1a1a" class="st">Endo.cells</text>
<path d="M847.3 1136.2H854.5M847.3 1181.2H854.5M847.3 1226.2H854.5M847.3 1271.5H854.5M847.3 1316.5H854.5" stroke="#333333" stroke-width="3.0" fill="none"/>
<text x="840.4" y="1147.2" font-size="31.2" text-anchor="end" fill="#4d4d4d">0.04</text>
<text x="840.4" y="1192.2" font-size="31.2" text-anchor="end" fill="#4d4d4d">0.03</text>
<text x="840.4" y="1237.2" font-size="31.2" text-anchor="end" fill="#4d4d4d">0.02</text>
<text x="840.4" y="1282.6" font-size="31.2" text-anchor="end" fill="#4d4d4d">0.01</text>
<text x="840.4" y="1327.6" font-size="31.2" text-anchor="end" fill="#4d4d4d">0.00</text>
</g>
<g>
<rect x="1213.3" y="1096" width="260.8" height="258" fill="#fff"/>
<path d="M1215.9 1124H1471.5M1215.9 1191.7H1471.5M1215.9 1259.5H1471.5M1215.9 1327.3H1471.5" stroke="#ebebeb" stroke-width="1.6" fill="none"/>
<path d="M1233.4 1225.7H1286.6" stroke="#a020f0" stroke-width="3.4" stroke-linecap="round" fill="none"/>
<path d="M1307.9 1107.7C1307.9 1108.3 1308 1108.9 1308 1109.5C1308 1186.7 1308 1263.9 1308 1341.2C1308 1341.8 1307.9 1342.4 1307.9 1343L1307.4 1343C1307.4 1342.4 1307.4 1341.8 1307.4 1341.2C1307.4 1263.9 1307.4 1186.7 1307.4 1109.5C1307.4 1108.9 1307.4 1108.3 1307.4 1107.7Z" fill="#ffa500" fill-opacity="0.7" stroke="#ffa500" stroke-width="3.0" stroke-linejoin="round"/>
<path d="M1379.6 1114.3C1379.6 1114.9 1379.6 1115.6 1379.6 1116.2C1379.6 1189.1 1379.6 1262.1 1379.6 1335C1379.6 1335.6 1379.6 1336.2 1379.6 1336.8L1379.1 1336.8C1379.1 1336.2 1379 1335.6 1379 1335C1379 1262.1 1379 1189.1 1379 1116.2C1379 1115.6 1379.1 1114.9 1379.1 1114.3Z" fill="#a020f0" fill-opacity="0.7" stroke="#a020f0" stroke-width="3.0" stroke-linejoin="round"/>
<path d="M1427.2 1124.7C1427.3 1125.3 1427.3 1125.9 1427.3 1126.5C1427.3 1192.5 1427.3 1258.5 1427.3 1324.5C1427.3 1325.1 1427.3 1325.7 1427.2 1326.3L1426.8 1326.3C1426.7 1325.7 1426.7 1325.1 1426.7 1324.5C1426.7 1258.5 1426.7 1192.5 1426.7 1126.5C1426.7 1125.9 1426.7 1125.3 1426.8 1124.7Z" fill="#ffa500" fill-opacity="0.7" stroke="#ffa500" stroke-width="3.0" stroke-linejoin="round"/>
<path d="M1250.7 1225.7L1252.6 1221.9H1267.4L1269.3 1225.7L1267.4 1229.5H1252.6Z" fill="#000"/>
<path d="M1298.4 1225.7L1300.3 1221.9H1315.1L1317 1225.7L1315.1 1229.5H1300.3Z" fill="#000"/>
<path d="M1370 1225.7L1371.9 1221.9H1386.7L1388.6 1225.7L1386.7 1229.5H1371.9Z" fill="#000"/>
<path d="M1417.7 1225.7L1419.6 1221.9H1434.4L1436.3 1225.7L1434.4 1229.5H1419.6Z" fill="#000"/>
<rect x="1213.3" y="1096" width="260.8" height="258" fill="none" stroke="#333333" stroke-width="1.6"/>
<rect x="1213.3" y="1052.6" width="260.8" height="43.4" fill="#d9d9d9" stroke="#333333" stroke-width="1.6"/>
<path d="M1212.5 1096H1474.9" stroke="#333333" stroke-width="3.4"/>
<text x="1343.7" y="1081.3" font-size="22.4" text-anchor="middle" fill="#1a1a1a" class="st">Glia-MIX</text>
<path d="M1205.3 1157.8H1212.5M1205.3 1225.7H1212.5M1205.3 1293.3H1212.5" stroke="#333333" stroke-width="3.0" fill="none"/>
<text x="1198.4" y="1168.9" font-size="31.2" text-anchor="end" fill="#4d4d4d">1</text>
<text x="1198.4" y="1236.7" font-size="31.2" text-anchor="end" fill="#4d4d4d">0</text>
<text x="1198.4" y="1304.4" font-size="31.2" text-anchor="end" fill="#4d4d4d">-1</text>
</g>
<g>
<rect x="141.2" y="1414" width="260.4" height="258" fill="#fff"/>
<path d="M143.8 1436.7H399M143.8 1510.8H399M143.8 1585.3H399M143.8 1659.7H399" stroke="#ebebeb" stroke-width="1.6" fill="none"/>
<path d="M188.1 1552.5C188.2 1553.8 188.1 1555.2 188.3 1556.5C188.7 1558.4 190.5 1560.3 192.5 1562.2C194.5 1564.1 197.6 1565.9 200.2 1567.8C202.8 1569.7 206 1571.6 208.2 1573.5C210.3 1575.4 211.9 1577.3 213 1579.2C214.2 1581.3 214.8 1583.4 214.8 1585.5C214.8 1587.6 214.2 1589.7 213 1591.8C211.6 1594.2 209.1 1596.5 206.7 1598.8C204.2 1601.2 200.7 1603.6 198.2 1606C195.7 1608.3 193.4 1610.7 191.8 1613C190.5 1614.9 189.6 1616.8 189 1618.7C188.4 1620.6 188.4 1622.6 188.1 1624.5L187.6 1624.5C187.3 1622.6 187.3 1620.6 186.7 1618.7C186 1616.8 185.1 1614.9 183.8 1613C182.2 1610.7 179.9 1608.3 177.5 1606C175 1603.6 171.5 1601.2 169 1598.8C166.6 1596.5 164 1594.2 162.7 1591.8C161.4 1589.7 160.8 1587.6 160.8 1585.5C160.8 1583.4 161.4 1581.3 162.7 1579.2C163.8 1577.3 165.4 1575.4 167.5 1573.5C169.6 1571.6 172.9 1569.7 175.5 1567.8C178.1 1565.9 181.2 1564.1 183.2 1562.2C185.1 1560.3 187 1558.4 187.3 1556.5C187.6 1555.2 187.5 1553.8 187.6 1552.5Z" fill="#a020f0" fill-opacity="0.7" stroke="#a020f0" stroke-width="3.0" stroke-linejoin="round"/>
<path d="M235.6 1425.7C235.6 1428.8 235.6 1431.9 235.6 1435C235.7 1441.1 235.8 1447.2 236.2 1453.3C236.6 1460 237.6 1466.7 238.2 1473.3C238.8 1480 239.4 1486.7 239.8 1493.3C240.3 1500 240.6 1506.7 240.8 1513.3C241.1 1520 241.2 1526.7 241.5 1533.3C241.8 1540 242.2 1546.7 242.5 1553.3C242.8 1560 243.2 1566.7 243.2 1573.3C243.2 1580 243 1586.7 242.5 1593.3C242.1 1598.9 241.3 1604.4 240.5 1610C239.7 1615.6 238.6 1621.1 237.8 1626.7C237.1 1632.2 236.1 1637.8 235.8 1643.3C235.6 1647.2 235.7 1651.1 235.6 1655C235.6 1656.3 235.6 1657.7 235.6 1659L235.1 1659C235.1 1657.7 235.1 1656.3 235 1655C235 1651.1 235 1647.2 234.8 1643.3C234.5 1637.8 233.6 1632.2 232.8 1626.7C232.1 1621.1 230.9 1615.6 230.2 1610C229.4 1604.4 228.6 1598.9 228.2 1593.3C227.6 1586.7 227.5 1580 227.5 1573.3C227.5 1566.7 227.9 1560 228.2 1553.3C228.4 1546.7 228.9 1540 229.2 1533.3C229.4 1526.7 229.6 1520 229.8 1513.3C230.1 1506.7 230.4 1500 230.8 1493.3C231.3 1486.7 231.9 1480 232.5 1473.3C233.1 1466.7 234.1 1460 234.5 1453.3C234.9 1447.2 235 1441.1 235 1435C235.1 1431.9 235.1 1428.8 235.1 1425.7Z" fill="#ffa500" fill-opacity="0.7" stroke="#ffa500" stroke-width="3.0" stroke-linejoin="round"/>
<path d="M307.1 1507.7C307.1 1510.1 307.1 1512.6 307.1 1515C307.2 1520 307.3 1525 307.7 1530C308 1535 308.6 1540 309.3 1545C310.1 1550 311.1 1555 312 1560C312.9 1565 314 1570 315 1575C316 1580 316.9 1585 317.8 1590C318.7 1594.4 319.7 1598.9 320.3 1603.3C320.8 1606.7 321.5 1610 321.5 1613.3C321.5 1616.7 320.5 1620 319.5 1623.3C318.3 1627.2 316.2 1631.1 314.5 1635C312.8 1638.9 310.8 1642.8 309.5 1646.7C308.4 1650 307.2 1653.3 307.1 1656.7C307.1 1658.3 307.1 1659.9 307.1 1661.5L306.6 1661.5C306.6 1659.9 306.6 1658.3 306.5 1656.7C306.4 1653.3 305.3 1650 304.2 1646.7C302.9 1642.8 300.8 1638.9 299.2 1635C297.5 1631.1 295.4 1627.2 294.2 1623.3C293.1 1620 292.2 1616.7 292.2 1613.3C292.2 1610 292.8 1606.7 293.3 1603.3C294 1598.9 295 1594.4 295.8 1590C296.8 1585 297.7 1580 298.7 1575C299.6 1570 300.7 1565 301.7 1560C302.6 1555 303.6 1550 304.3 1545C305.1 1540 305.6 1535 306 1530C306.4 1525 306.5 1520 306.5 1515C306.6 1512.6 306.6 1510.1 306.6 1507.7Z" fill="#a020f0" fill-opacity="0.7" stroke="#a020f0" stroke-width="3.0" stroke-linejoin="round"/>
<path d="M354.9 1510.2C355 1511.9 354.9 1513.7 355.2 1515.5C355.5 1517.9 357.8 1520.3 358.5 1522.7C359 1524.6 359.3 1526.4 359.3 1528.3C359.3 1530.7 359 1533 358.5 1535.3C358 1537.7 356.3 1540 356.3 1542.3C356.3 1543.8 356.8 1545.2 357.3 1546.7C358 1548.6 360.2 1550.4 360.2 1552.3C360.2 1554.2 359.2 1556 359.2 1557.8C359.2 1559.3 359.2 1560.7 359.2 1562.2C359.2 1564.1 362.5 1565.9 364.8 1567.8C367.2 1569.7 371 1571.6 373.3 1573.5C375.6 1575.4 377.7 1577.3 378.7 1579.2C379.1 1580.1 379.5 1581.1 379.5 1582C379.5 1583.8 378.2 1585.7 376.2 1587.5C374.1 1589.4 369.8 1591.3 367 1593.2C364.2 1595.1 360.6 1596.9 359.2 1598.8C358.1 1600.3 358 1601.7 358 1603.2C358 1605.1 359.9 1606.9 360.5 1608.8C361.1 1610.7 361.7 1612.5 361.7 1614.3C361.7 1616.2 361.1 1618.1 360.5 1620C359.8 1622.4 358.2 1624.8 357.3 1627.2C356.6 1629.1 355.9 1630.9 355.5 1632.8C355.1 1634.7 355.1 1636.5 354.9 1638.3L354.4 1638.3C354.2 1636.5 354.2 1634.7 353.8 1632.8C353.4 1630.9 352.7 1629.1 352 1627.2C351.1 1624.8 349.6 1622.4 348.8 1620C348.2 1618.1 347.7 1616.2 347.7 1614.3C347.7 1612.5 348.2 1610.7 348.8 1608.8C349.4 1606.9 351.3 1605.1 351.3 1603.2C351.3 1601.7 351.3 1600.3 350.2 1598.8C348.7 1596.9 345.2 1595.1 342.3 1593.2C339.5 1591.3 335.3 1589.4 333.2 1587.5C331.1 1585.7 329.8 1583.8 329.8 1582C329.8 1581.1 330.2 1580.1 330.7 1579.2C331.6 1577.3 333.7 1575.4 336 1573.5C338.3 1571.6 342.1 1569.7 344.5 1567.8C346.9 1565.9 350.2 1564.1 350.2 1562.2C350.2 1560.7 350.2 1559.3 350.2 1557.8C350.2 1556 349.2 1554.2 349.2 1552.3C349.2 1550.4 351.3 1548.6 352 1546.7C352.5 1545.2 353 1543.8 353 1542.3C353 1540 351.3 1537.7 350.8 1535.3C350.3 1533 350 1530.7 350 1528.3C350 1526.4 350.3 1524.6 350.8 1522.7C351.5 1520.3 353.8 1517.9 354.2 1515.5C354.4 1513.7 354.3 1511.9 354.4 1510.2Z" fill="#ffa500" fill-opacity="0.7" stroke="#ffa500" stroke-width="3.0" stroke-linejoin="round"/>
<path d="M187.8 1571.3V1580.8M187.8 1593.4V1606.7" stroke="#000" stroke-width="3.2" fill="none"/>
<rect x="180.3" y="1580.8" width="15" height="12.6" fill="#a020f0" fill-opacity="0.7" stroke="#000" stroke-width="3.2" stroke-linejoin="round"/>
<path d="M180.3 1587H195.3" stroke="#000" stroke-width="7.0"/>
<path d="M235.3 1484.7V1527.8M235.3 1572.1V1600" stroke="#000" stroke-width="3.2" fill="none"/>
<rect x="227.8" y="1527.8" width="15" height="44.3" fill="#ffa500" fill-opacity="0.7" stroke="#000" stroke-width="3.2" stroke-linejoin="round"/>
<path d="M227.8 1555.8H242.8" stroke="#000" stroke-width="7.0"/>
<path d="M306.8 1547V1579.9M306.8 1615.9V1622.5" stroke="#000" stroke-width="3.2" fill="none"/>
<rect x="299.3" y="1579.9" width="15" height="36" fill="#a020f0" fill-opacity="0.7" stroke="#000" stroke-width="3.2" stroke-linejoin="round"/>
<path d="M299.3 1608.7H314.3" stroke="#000" stroke-width="7.0"/>
<path d="M354.7 1557V1574.1M354.7 1586.7V1602.5" stroke="#000" stroke-width="3.2" fill="none"/>
<rect x="347.2" y="1574.1" width="15" height="12.6" fill="#ffa500" fill-opacity="0.7" stroke="#000" stroke-width="3.2" stroke-linejoin="round"/>
<path d="M347.2 1580.8H362.2" stroke="#000" stroke-width="7.0"/>
<text x="206" y="1461.9" font-size="46.0" font-weight="bold" text-anchor="middle" fill="#000">*</text>
<text x="336" y="1461.9" font-size="46.0" font-weight="bold" text-anchor="middle" fill="#000">*</text>
<rect x="141.2" y="1414" width="260.4" height="258" fill="none" stroke="#333333" stroke-width="1.6"/>
<rect x="141.2" y="1370.6" width="260.4" height="43.4" fill="#d9d9d9" stroke="#333333" stroke-width="1.6"/>
<path d="M140.4 1414H402.4" stroke="#333333" stroke-width="3.4"/>
<text x="271.4" y="1399.3" font-size="22.4" text-anchor="middle" fill="#1a1a1a" class="st">Microglia</text>
<path d="M133.2 1473.7H140.4M133.2 1548H140.4M133.2 1622.5H140.4" stroke="#333333" stroke-width="3.0" fill="none"/>
<text x="126.3" y="1484.7" font-size="31.2" text-anchor="end" fill="#4d4d4d">0.08</text>
<text x="126.3" y="1559.1" font-size="31.2" text-anchor="end" fill="#4d4d4d">0.04</text>
<text x="126.3" y="1633.6" font-size="31.2" text-anchor="end" fill="#4d4d4d">0.00</text>
</g>
<g>
<rect x="507.1" y="1414" width="260.1" height="258" fill="#fff"/>
<path d="M509.7 1419.5H764.6M509.7 1498H764.6M509.7 1576.7H764.6M509.7 1655H764.6" stroke="#ebebeb" stroke-width="1.6" fill="none"/>
<path d="M553.6 1512.7C553.6 1514.6 553.6 1516.4 553.6 1518.3C553.7 1522.2 553.7 1526.1 554.2 1530C554.6 1533.9 555.5 1537.8 556.2 1541.7C556.8 1545.6 557.6 1549.4 558.2 1553.3C558.7 1557.2 558.9 1561.1 559.3 1565C559.8 1569.4 560.6 1573.9 561 1578.3C561.4 1582.2 561.8 1586.1 561.8 1590C561.8 1593.3 560.9 1596.7 560.2 1600C559.4 1603.3 558.1 1606.7 557.2 1610C556.2 1613.3 555.1 1616.7 554.5 1620C553.9 1623.3 553.7 1626.7 553.6 1630C553.6 1631.6 553.6 1633.2 553.6 1634.8L553.1 1634.8C553.1 1633.2 553.1 1631.6 553 1630C552.9 1626.7 552.8 1623.3 552.2 1620C551.6 1616.7 550.4 1613.3 549.5 1610C548.6 1606.7 547.3 1603.3 546.5 1600C545.7 1596.7 544.8 1593.3 544.8 1590C544.8 1586.1 545.3 1582.2 545.7 1578.3C546.1 1573.9 546.8 1569.4 547.3 1565C547.8 1561.1 548 1557.2 548.5 1553.3C549 1549.4 549.8 1545.6 550.5 1541.7C551.2 1537.8 552.1 1533.9 552.5 1530C552.9 1526.1 553 1522.2 553 1518.3C553.1 1516.4 553.1 1514.6 553.1 1512.7Z" fill="#a020f0" fill-opacity="0.7" stroke="#a020f0" stroke-width="3.0" stroke-linejoin="round"/>
<path d="M601.2 1425.7C601.3 1428.8 601.3 1431.9 601.3 1435C601.3 1448.9 601.3 1462.8 601.3 1476.7C601.3 1487.8 601.4 1498.9 601.8 1510C602.1 1518.3 602.7 1526.7 603.2 1535C603.6 1543.3 604.1 1551.7 604.5 1560C604.8 1566.7 605.2 1573.3 605.2 1580C605.2 1587.2 604.7 1594.4 604.2 1601.7C603.7 1607.2 603 1612.8 602.5 1618.3C602 1623.9 601.3 1629.4 601.3 1635C601.3 1642.2 601.3 1649.4 601.3 1656.7C601.3 1658.3 601.3 1659.9 601.2 1661.5L600.8 1661.5C600.7 1659.9 600.7 1658.3 600.7 1656.7C600.7 1649.4 600.7 1642.2 600.7 1635C600.7 1629.4 600 1623.9 599.5 1618.3C599 1612.8 598.3 1607.2 597.8 1601.7C597.3 1594.4 596.8 1587.2 596.8 1580C596.8 1573.3 597.2 1566.7 597.5 1560C597.9 1551.7 598.4 1543.3 598.8 1535C599.3 1526.7 599.9 1518.3 600.2 1510C600.6 1498.9 600.7 1487.8 600.7 1476.7C600.7 1462.8 600.7 1448.9 600.7 1435C600.7 1431.9 600.7 1428.8 600.8 1425.7Z" fill="#ffa500" fill-opacity="0.7" stroke="#ffa500" stroke-width="3.0" stroke-linejoin="round"/>
<path d="M673.1 1482.2C673.1 1483.1 673.1 1484.1 673.1 1485C673.3 1487.2 674.5 1489.4 675 1491.7C675.4 1493.3 676 1495 676 1496.7C676 1499.4 674.5 1502.2 674 1505C673.6 1507.2 673.1 1509.4 673.1 1511.7C673.1 1514.4 674.4 1517.2 675 1520C675.3 1521.4 675.8 1522.8 675.8 1524.2C675.8 1526.7 674.4 1529.2 674 1531.7C673.5 1534.4 673.1 1537.2 673.1 1540C673.1 1549.4 673.1 1558.9 673.1 1568.3C673.1 1570.6 673.1 1572.8 673.2 1575C673.2 1578.2 673.2 1581.4 673.5 1584.7C673.7 1586.8 674.1 1589 674.7 1591.2C675.1 1592.9 675.8 1594.7 676.3 1596.5C676.9 1598.4 676.5 1600.4 677.7 1602.3C678.7 1604.1 679.7 1605.8 682.5 1607.5C684.2 1608.6 687.1 1609.6 689 1610.7C691 1611.8 693.5 1612.9 694.3 1614C694.7 1614.6 694.8 1615.1 694.8 1615.7C694.8 1616.6 692.6 1617.6 691 1618.5C689.1 1619.6 686.3 1620.7 683.8 1621.8C681.5 1622.9 678.4 1623.9 676.7 1625C675.2 1625.9 673.9 1626.8 673.5 1627.7C673.1 1628.6 673.2 1629.4 673.1 1630.3L672.6 1630.3C672.4 1629.4 672.6 1628.6 672.2 1627.7C671.8 1626.8 670.5 1625.9 669 1625C667.2 1623.9 664.2 1622.9 661.8 1621.8C659.4 1620.7 656.6 1619.6 654.7 1618.5C653 1617.6 650.8 1616.6 650.8 1615.7C650.8 1615.1 650.9 1614.6 651.3 1614C652.1 1612.9 654.6 1611.8 656.7 1610.7C658.6 1609.6 661.4 1608.6 663.2 1607.5C666 1605.8 667 1604.1 668 1602.3C669.2 1600.4 668.8 1598.4 669.3 1596.5C669.8 1594.7 670.6 1592.9 671 1591.2C671.5 1589 671.9 1586.8 672.2 1584.7C672.5 1581.4 672.5 1578.2 672.5 1575C672.5 1572.8 672.5 1570.6 672.5 1568.3C672.5 1558.9 672.5 1549.4 672.5 1540C672.5 1537.2 672.2 1534.4 671.7 1531.7C671.2 1529.2 669.8 1526.7 669.8 1524.2C669.8 1522.8 670.4 1521.4 670.7 1520C671.2 1517.2 672.5 1514.4 672.5 1511.7C672.5 1509.4 672.1 1507.2 671.7 1505C671.2 1502.2 669.7 1499.4 669.7 1496.7C669.7 1495 670.3 1493.3 670.7 1491.7C671.2 1489.4 672.4 1487.2 672.5 1485C672.6 1484.1 672.6 1483.1 672.6 1482.2Z" fill="#a020f0" fill-opacity="0.7" stroke="#a020f0" stroke-width="3.0" stroke-linejoin="round"/>
<path d="M720.6 1516C720.6 1516.8 720.6 1517.6 720.6 1518.3C720.8 1521.1 722.8 1523.9 722.8 1526.7C722.8 1529.4 721.5 1532.2 721.2 1535C720.8 1537.8 720.6 1540.6 720.6 1543.3C720.6 1546.4 722.5 1549.4 722.5 1552.5C722.5 1555.6 721.1 1558.6 720.8 1561.7C720.7 1563.9 720.7 1566.1 720.7 1568.3C720.7 1570.6 721.8 1572.8 722.2 1575C722.4 1576.5 722.7 1578 722.7 1579.5C722.7 1581.7 721.2 1583.8 721.2 1586C721.2 1588.8 723.5 1591.7 723.5 1594.5C723.5 1596.7 722.8 1598.8 722.8 1601C722.8 1602.5 726.1 1604 729.2 1605.5C731.5 1606.6 735 1607.7 737.7 1608.8C740.2 1609.9 743.2 1610.9 744.8 1612C746.5 1613.1 747.3 1614.2 747.3 1615.3C747.3 1616.2 746 1617 744.2 1617.8C742.2 1618.7 738.4 1619.6 735.7 1620.5C733 1621.4 730.3 1622.3 728 1623.2C725.8 1624 723.4 1624.8 722.2 1625.7C721.1 1626.4 721.1 1627.1 720.6 1627.8L720.1 1627.8C719.6 1627.1 719.6 1626.4 718.5 1625.7C717.3 1624.8 714.8 1624 712.7 1623.2C710.4 1622.3 707.7 1621.4 705 1620.5C702.3 1619.6 698.5 1618.7 696.5 1617.8C694.7 1617 693.3 1616.2 693.3 1615.3C693.3 1614.2 694.1 1613.1 695.8 1612C697.4 1610.9 700.5 1609.9 703 1608.8C705.7 1607.7 709.2 1606.6 711.5 1605.5C714.6 1604 717.8 1602.5 717.8 1601C717.8 1598.8 717.2 1596.7 717.2 1594.5C717.2 1591.7 719.5 1588.8 719.5 1586C719.5 1583.8 718 1581.7 718 1579.5C718 1578 718.3 1576.5 718.5 1575C718.8 1572.8 720 1570.6 720 1568.3C720 1566.1 720 1563.9 719.8 1561.7C719.6 1558.6 718.2 1555.6 718.2 1552.5C718.2 1549.4 720 1546.4 720 1543.3C720 1540.6 719.9 1537.8 719.5 1535C719.1 1532.2 717.8 1529.4 717.8 1526.7C717.8 1523.9 719.9 1521.1 720 1518.3C720.1 1517.6 720.1 1516.8 720.1 1516Z" fill="#ffa500" fill-opacity="0.7" stroke="#ffa500" stroke-width="3.0" stroke-linejoin="round"/>
<path d="M553.3 1547.5V1560.8M553.3 1591.7V1600" stroke="#000" stroke-width="3.2" fill="none"/>
<rect x="545.8" y="1560.8" width="15" height="31" fill="#a020f0" fill-opacity="0.7" stroke="#000" stroke-width="3.2" stroke-linejoin="round"/>
<path d="M545.8 1589.7H560.8" stroke="#000" stroke-width="7.0"/>
<path d="M601 1489.2V1536.6M601 1590.6V1598.3" stroke="#000" stroke-width="3.2" fill="none"/>
<rect x="593.5" y="1536.6" width="15" height="54" fill="#ffa500" fill-opacity="0.7" stroke="#000" stroke-width="3.2" stroke-linejoin="round"/>
<path d="M593.5 1570.3H608.5" stroke="#000" stroke-width="7.0"/>
<path d="M672.8 1598.3V1605.3" stroke="#000" stroke-width="3.2" fill="none"/>
<rect x="665.3" y="1605.3" width="15" height="12.3" fill="#a020f0" fill-opacity="0.7" stroke="#000" stroke-width="3.2" stroke-linejoin="round"/>
<path d="M665.3 1615.8H680.3" stroke="#000" stroke-width="7.0"/>
<path d="M720.3 1593.3V1606.6" stroke="#000" stroke-width="3.2" fill="none"/>
<rect x="712.8" y="1606.6" width="15" height="11" fill="#ffa500" fill-opacity="0.7" stroke="#000" stroke-width="3.2" stroke-linejoin="round"/>
<path d="M712.8 1615H727.8" stroke="#000" stroke-width="7.0"/>
<rect x="507.1" y="1414" width="260.1" height="258" fill="none" stroke="#333333" stroke-width="1.6"/>
<rect x="507.1" y="1370.6" width="260.1" height="43.4" fill="#d9d9d9" stroke="#333333" stroke-width="1.6"/>
<path d="M506.3 1414H768" stroke="#333333" stroke-width="3.4"/>
<text x="637.2" y="1399.3" font-size="22.4" text-anchor="middle" fill="#1a1a1a" class="st">OL-A</text>
<path d="M499.1 1458.7H506.3M499.1 1537.2H506.3M499.1 1615.8H506.3" stroke="#333333" stroke-width="3.0" fill="none"/>
<text x="492.2" y="1469.7" font-size="31.2" text-anchor="end" fill="#4d4d4d">0.4</text>
<text x="492.2" y="1548.2" font-size="31.2" text-anchor="end" fill="#4d4d4d">0.2</text>
<text x="492.2" y="1626.9" font-size="31.2" text-anchor="end" fill="#4d4d4d">0.0</text>
</g>
<g>
<rect x="855.3" y="1414" width="260.7" height="258" fill="#fff"/>
<path d="M857.9 1432.2H1113.4M857.9 1473.3H1113.4M857.9 1514.2H1113.4M857.9 1555H1113.4M857.9 1595.8H1113.4M857.9 1636.7H1113.4" stroke="#ebebeb" stroke-width="1.6" fill="none"/>
<path d="M902.2 1553C902.3 1553.7 902.2 1554.3 902.3 1555C902.4 1556.7 903.8 1558.3 904.7 1560C905.9 1562.2 907.3 1564.4 908.8 1566.7C910.4 1568.9 911 1571.1 913.8 1573.3C916 1575 919.7 1576.7 922.2 1578.3C924.7 1580 928.8 1581.7 928.8 1583.3C928.8 1585 923.6 1586.7 920.5 1588.3C917.4 1590 912.5 1591.7 910.5 1593.3C908.5 1595 909.2 1596.7 908.5 1598.3C907.8 1600 907.2 1601.7 906.3 1603.3C905.4 1605 903.7 1606.7 903 1608.3C902.7 1609.1 902.5 1609.9 902.2 1610.7L901.8 1610.7C901.5 1609.9 901.3 1609.1 901 1608.3C900.3 1606.7 898.6 1605 897.7 1603.3C896.8 1601.7 896.2 1600 895.5 1598.3C894.8 1596.7 895.5 1595 893.5 1593.3C891.5 1591.7 886.6 1590 883.5 1588.3C880.4 1586.7 875.2 1585 875.2 1583.3C875.2 1581.7 879.3 1580 881.8 1578.3C884.3 1576.7 888 1575 890.2 1573.3C893 1571.1 893.6 1568.9 895.2 1566.7C896.7 1564.4 898.1 1562.2 899.3 1560C900.2 1558.3 901.6 1556.7 901.7 1555C901.8 1554.3 901.7 1553.7 901.8 1553Z" fill="#a020f0" fill-opacity="0.7" stroke="#a020f0" stroke-width="3.0" stroke-linejoin="round"/>
<path d="M949.9 1510.5C949.9 1512.6 949.9 1514.6 950 1516.7C950 1520 950 1523.3 950.5 1526.7C951 1530 952 1533.3 952.8 1536.7C953.7 1540 954.8 1543.3 955.7 1546.7C956.6 1550 957.6 1553.3 958.2 1556.7C958.7 1559.4 959.2 1562.2 959.2 1565C959.2 1568.3 959.1 1571.7 958.8 1575C958.5 1578.9 957.9 1582.8 957.3 1586.7C956.6 1591.1 955.7 1595.6 954.8 1600C954 1604.4 953 1608.9 952.2 1613.3C951.4 1617.2 950.5 1621.1 950.2 1625C950 1627.2 950 1629.4 950 1631.7C950 1632.2 949.9 1632.7 949.9 1633.2L949.4 1633.2C949.4 1632.7 949.4 1632.2 949.4 1631.7C949.3 1629.4 949.3 1627.2 949.2 1625C948.8 1621.1 947.9 1617.2 947.2 1613.3C946.3 1608.9 945.4 1604.4 944.5 1600C943.6 1595.6 942.7 1591.1 942 1586.7C941.4 1582.8 940.8 1578.9 940.5 1575C940.2 1571.7 940.2 1568.3 940.2 1565C940.2 1562.2 940.7 1559.4 941.2 1556.7C941.8 1553.3 942.8 1550 943.7 1546.7C944.6 1543.3 945.6 1540 946.5 1536.7C947.4 1533.3 948.4 1530 948.8 1526.7C949.3 1523.3 949.3 1520 949.4 1516.7C949.4 1514.6 949.4 1512.6 949.4 1510.5Z" fill="#ffa500" fill-opacity="0.7" stroke="#ffa500" stroke-width="3.0" stroke-linejoin="round"/>
<path d="M1021.6 1446.3C1021.6 1450.9 1021.6 1455.4 1021.6 1460C1021.7 1468.3 1021.6 1476.7 1021.8 1485C1022 1493.3 1022.5 1501.7 1022.8 1510C1023.2 1518.3 1023.4 1526.7 1023.8 1535C1024.2 1542.2 1024.6 1549.4 1025.2 1556.7C1025.7 1563.3 1026.5 1570 1027.2 1576.7C1027.7 1582.2 1028.5 1587.8 1028.8 1593.3C1028.9 1594.4 1029 1595.6 1029 1596.7C1029 1601.1 1028.1 1605.6 1027.5 1610C1026.8 1615.6 1025.7 1621.1 1024.8 1626.7C1024 1632.2 1023 1637.8 1022.5 1643.3C1022 1648.3 1021.7 1653.3 1021.6 1658.3C1021.6 1659.4 1021.6 1660.4 1021.6 1661.5L1021.1 1661.5C1021.1 1660.4 1021.1 1659.4 1021 1658.3C1020.9 1653.3 1020.7 1648.3 1020.2 1643.3C1019.6 1637.8 1018.7 1632.2 1017.8 1626.7C1017 1621.1 1015.9 1615.6 1015.2 1610C1014.6 1605.6 1013.7 1601.1 1013.7 1596.7C1013.7 1595.6 1013.8 1594.4 1013.8 1593.3C1014.2 1587.8 1014.9 1582.2 1015.5 1576.7C1016.2 1570 1017 1563.3 1017.5 1556.7C1018.1 1549.4 1018.5 1542.2 1018.8 1535C1019.3 1526.7 1019.5 1518.3 1019.8 1510C1020.2 1501.7 1020.6 1493.3 1020.8 1485C1021 1476.7 1021 1468.3 1021 1460C1021.1 1455.4 1021.1 1450.9 1021.1 1446.3Z" fill="#a020f0" fill-opacity="0.7" stroke="#a020f0" stroke-width="3.0" stroke-linejoin="round"/>
<path d="M1069.2 1425.7C1069.3 1430.4 1069.3 1435.2 1069.3 1440C1069.3 1447.8 1069.3 1455.6 1069.5 1463.3C1069.7 1471.1 1070.2 1478.9 1070.5 1486.7C1070.8 1494.4 1071.1 1502.2 1071.5 1510C1071.9 1516.7 1072.3 1523.3 1072.8 1530C1073.3 1535.6 1074 1541.1 1074.5 1546.7C1075 1552.2 1075.8 1557.8 1075.8 1563.3C1075.8 1568.9 1075.6 1574.4 1075.2 1580C1074.8 1585.6 1074.1 1591.1 1073.5 1596.7C1072.9 1602.2 1072.1 1607.8 1071.5 1613.3C1070.9 1618.9 1070.2 1624.4 1069.8 1630C1069.4 1636.7 1069.4 1643.3 1069.3 1650C1069.3 1651.8 1069.3 1653.6 1069.2 1655.3L1068.8 1655.3C1068.7 1653.6 1068.7 1651.8 1068.7 1650C1068.6 1643.3 1068.6 1636.7 1068.2 1630C1067.8 1624.4 1067.1 1618.9 1066.5 1613.3C1065.9 1607.8 1065.1 1602.2 1064.5 1596.7C1063.9 1591.1 1063.2 1585.6 1062.8 1580C1062.4 1574.4 1062.2 1568.9 1062.2 1563.3C1062.2 1557.8 1063 1552.2 1063.5 1546.7C1064 1541.1 1064.7 1535.6 1065.2 1530C1065.7 1523.3 1066.1 1516.7 1066.5 1510C1066.9 1502.2 1067.2 1494.4 1067.5 1486.7C1067.8 1478.9 1068.3 1471.1 1068.5 1463.3C1068.7 1455.6 1068.7 1447.8 1068.7 1440C1068.7 1435.2 1068.7 1430.4 1068.8 1425.7Z" fill="#ffa500" fill-opacity="0.7" stroke="#ffa500" stroke-width="3.0" stroke-linejoin="round"/>
<path d="M902 1565V1576.6M902 1584.7V1598.7" stroke="#000" stroke-width="3.2" fill="none"/>
<rect x="894.5" y="1576.6" width="15" height="8.1" fill="#a020f0" fill-opacity="0.7" stroke="#000" stroke-width="3.2" stroke-linejoin="round"/>
<path d="M894.5 1582.5H909.5" stroke="#000" stroke-width="7.0"/>
<path d="M949.7 1544.2V1560.8M949.7 1587.6V1600" stroke="#000" stroke-width="3.2" fill="none"/>
<rect x="942.2" y="1560.8" width="15" height="26.8" fill="#ffa500" fill-opacity="0.7" stroke="#000" stroke-width="3.2" stroke-linejoin="round"/>
<path d="M942.2 1565H957.2" stroke="#000" stroke-width="7.0"/>
<path d="M1021.3 1537V1562.4M1021.3 1598.7V1615.8" stroke="#000" stroke-width="3.2" fill="none"/>
<rect x="1013.8" y="1562.4" width="15" height="36.3" fill="#a020f0" fill-opacity="0.7" stroke="#000" stroke-width="3.2" stroke-linejoin="round"/>
<path d="M1013.8 1590.8H1028.8" stroke="#000" stroke-width="7.0"/>
<path d="M1069 1499.2V1542.4M1069 1578.7V1614.2" stroke="#000" stroke-width="3.2" fill="none"/>
<rect x="1061.5" y="1542.4" width="15" height="36.3" fill="#ffa500" fill-opacity="0.7" stroke="#000" stroke-width="3.2" stroke-linejoin="round"/>
<path d="M1061.5 1559.2H1076.5" stroke="#000" stroke-width="7.0"/>
<text x="1042.8" y="1457.9" font-size="46.0" font-weight="bold" text-anchor="middle" fill="#000">*</text>
<rect x="855.3" y="1414" width="260.7" height="258" fill="none" stroke="#333333" stroke-width="1.6"/>
<rect x="855.3" y="1370.6" width="260.7" height="43.4" fill="#d9d9d9" stroke="#333333" stroke-width="1.6"/>
<path d="M854.5 1414H1116.8" stroke="#333333" stroke-width="3.4"/>
<text x="985.6" y="1399.3" font-size="22.4" text-anchor="middle" fill="#1a1a1a" class="st">OL-B</text>
<path d="M847.3 1452.5H854.5M847.3 1493.3H854.5M847.3 1534.5H854.5M847.3 1575.3H854.5M847.3 1616.2H854.5M847.3 1657H854.5" stroke="#333333" stroke-width="3.0" fill="none"/>
<text x="840.4" y="1463.6" font-size="31.2" text-anchor="end" fill="#4d4d4d">0.4</text>
<text x="840.4" y="1504.4" font-size="31.2" text-anchor="end" fill="#4d4d4d">0.3</text>
<text x="840.4" y="1545.6" font-size="31.2" text-anchor="end" fill="#4d4d4d">0.2</text>
<text x="840.4" y="1586.4" font-size="31.2" text-anchor="end" fill="#4d4d4d">0.1</text>
<text x="840.4" y="1627.2" font-size="31.2" text-anchor="end" fill="#4d4d4d">0.0</text>
<text x="840.4" y="1668.1" font-size="31.2" text-anchor="end" fill="#4d4d4d">-0.1</text>
</g>
<g>
<rect x="1213.3" y="1414" width="260.8" height="258" fill="#fff"/>
<path d="M1215.9 1439.2H1471.5M1215.9 1480.5H1471.5M1215.9 1522H1471.5M1215.9 1563.3H1471.5M1215.9 1604.7H1471.5M1215.9 1646.2H1471.5" stroke="#ebebeb" stroke-width="1.6" fill="none"/>
<path d="M1260.2 1551.3C1260.3 1553.3 1260.2 1555.2 1260.3 1557.2C1260.4 1559.6 1261.2 1561.9 1262 1564.3C1262.8 1566.7 1263.8 1569.1 1264.8 1571.5C1265.8 1573.9 1266.9 1576.3 1268 1578.7C1269.1 1581.1 1270.1 1583.4 1271.2 1585.8C1272 1587.7 1273.2 1589.6 1273.8 1591.5C1274.5 1593.4 1275 1595.3 1275 1597.2C1275 1598.8 1275 1600.5 1275 1602.2C1275 1603.8 1275.2 1605.5 1276 1607.2C1276.8 1608.8 1278.2 1610.5 1279.7 1612.2C1281.1 1613.8 1283.5 1615.5 1284.7 1617.2C1285.8 1618.8 1286.3 1620.5 1286.7 1622.2C1286.8 1622.9 1287 1623.6 1287 1624.3C1287 1625.8 1286.2 1627.2 1285 1628.7C1283.8 1630.1 1281.6 1631.6 1279.7 1633C1277.7 1634.4 1275.3 1635.9 1273.2 1637.3C1271.1 1638.7 1268.9 1640.1 1267.2 1641.5C1265.4 1642.9 1263.9 1644.4 1262.8 1645.8C1261.7 1647.3 1260.8 1648.7 1260.5 1650.2C1260.2 1651.6 1260.3 1652.9 1260.2 1654.3L1259.8 1654.3C1259.7 1652.9 1259.8 1651.6 1259.5 1650.2C1259.2 1648.7 1258.3 1647.3 1257.2 1645.8C1256.1 1644.4 1254.6 1642.9 1252.8 1641.5C1251.1 1640.1 1248.9 1638.7 1246.8 1637.3C1244.7 1635.9 1242.3 1634.4 1240.3 1633C1238.4 1631.6 1236.2 1630.1 1235 1628.7C1233.8 1627.2 1233 1625.8 1233 1624.3C1233 1623.6 1233.2 1622.9 1233.3 1622.2C1233.7 1620.5 1234.2 1618.8 1235.3 1617.2C1236.5 1615.5 1238.9 1613.8 1240.3 1612.2C1241.8 1610.5 1243.2 1608.8 1244 1607.2C1244.8 1605.5 1245 1603.8 1245 1602.2C1245 1600.5 1245 1598.8 1245 1597.2C1245 1595.3 1245.5 1593.4 1246.2 1591.5C1246.8 1589.6 1248 1587.7 1248.8 1585.8C1249.9 1583.4 1250.9 1581.1 1252 1578.7C1253.1 1576.3 1254.2 1573.9 1255.2 1571.5C1256.2 1569.1 1257.2 1566.7 1258 1564.3C1258.8 1561.9 1259.6 1559.6 1259.7 1557.2C1259.8 1555.2 1259.7 1553.3 1259.8 1551.3Z" fill="#a020f0" fill-opacity="0.7" stroke="#a020f0" stroke-width="3.0" stroke-linejoin="round"/>
<path d="M1307.9 1524.8C1307.9 1528 1307.9 1531.2 1308 1534.3C1308 1537.9 1309.2 1541.4 1309.8 1545C1310.5 1548.6 1311.4 1552.1 1311.8 1555.7C1312.3 1559.3 1312.3 1562.9 1312.7 1566.5C1313 1569.6 1313.1 1572.7 1313.8 1575.8C1314.4 1578.2 1315.4 1580.6 1316.3 1583C1317.3 1585.3 1318.6 1587.7 1319.5 1590C1320.4 1592.4 1321.1 1594.8 1321.7 1597.2C1322.3 1599.6 1322.5 1601.9 1323.2 1604.3C1323.8 1606.7 1324.7 1609.1 1325.7 1611.5C1326.4 1613.4 1327.6 1615.3 1328.2 1617.2C1328.7 1618.8 1329 1620.5 1329 1622.2C1329 1623.9 1328.8 1625.6 1328.2 1627.3C1327.4 1629.2 1325.9 1631.1 1324.5 1633C1323.1 1634.9 1321.2 1636.8 1319.5 1638.7C1317.8 1640.6 1316 1642.4 1314.5 1644.3C1313 1646.3 1311.7 1648.2 1310.7 1650.2C1309.6 1652.1 1308.4 1653.9 1308.2 1655.8C1307.9 1657.8 1308 1659.7 1307.9 1661.7L1307.4 1661.7C1307.3 1659.7 1307.4 1657.8 1307.2 1655.8C1306.9 1653.9 1305.7 1652.1 1304.7 1650.2C1303.6 1648.2 1302.3 1646.3 1300.8 1644.3C1299.4 1642.4 1297.5 1640.6 1295.8 1638.7C1294.2 1636.8 1292.3 1634.9 1290.8 1633C1289.4 1631.1 1287.9 1629.2 1287.2 1627.3C1286.5 1625.6 1286.3 1623.9 1286.3 1622.2C1286.3 1620.5 1286.7 1618.8 1287.2 1617.2C1287.7 1615.3 1288.9 1613.4 1289.7 1611.5C1290.6 1609.1 1291.5 1606.7 1292.2 1604.3C1292.8 1601.9 1293.1 1599.6 1293.7 1597.2C1294.3 1594.8 1294.9 1592.4 1295.8 1590C1296.7 1587.7 1298.1 1585.3 1299 1583C1300 1580.6 1300.9 1578.2 1301.5 1575.8C1302.3 1572.7 1302.3 1569.6 1302.7 1566.5C1303 1562.9 1303 1559.3 1303.5 1555.7C1304 1552.1 1304.9 1548.6 1305.5 1545C1306.1 1541.4 1307.3 1537.9 1307.4 1534.3C1307.4 1531.2 1307.4 1528 1307.4 1524.8Z" fill="#ffa500" fill-opacity="0.7" stroke="#ffa500" stroke-width="3.0" stroke-linejoin="round"/>
<path d="M1379.6 1429.7C1379.6 1432.6 1379.6 1435.4 1379.6 1438.3C1379.7 1442.2 1379.8 1446.1 1380.2 1450C1380.6 1454.4 1381.4 1458.9 1382.2 1463.3C1382.9 1467.8 1383.8 1472.2 1384.8 1476.7C1385.8 1481.1 1387 1485.6 1388.2 1490C1389.4 1494.4 1390.9 1498.9 1392 1503.3C1392.8 1506.7 1394.2 1510 1394.2 1513.3C1394.2 1516.7 1393.5 1520 1392.8 1523.3C1392 1527.2 1390.5 1531.1 1389.5 1535C1388.3 1539.4 1387.1 1543.9 1386.2 1548.3C1385.1 1553.3 1384.5 1558.3 1383.8 1563.3C1383.1 1568.9 1382.7 1574.4 1382.2 1580C1381.7 1585.6 1381.2 1591.1 1380.8 1596.7C1380.4 1603.3 1379.6 1610 1379.6 1616.7C1379.6 1620.6 1379.6 1624.4 1379.6 1628.3C1379.6 1629.4 1379.6 1630.4 1379.6 1631.5L1379.1 1631.5C1379.1 1630.4 1379 1629.4 1379 1628.3C1379 1624.4 1379 1620.6 1379 1616.7C1379 1610 1378.3 1603.3 1377.8 1596.7C1377.4 1591.1 1377 1585.6 1376.5 1580C1376 1574.4 1375.6 1568.9 1374.8 1563.3C1374.2 1558.3 1373.5 1553.3 1372.5 1548.3C1371.6 1543.9 1370.4 1539.4 1369.2 1535C1368.1 1531.1 1366.6 1527.2 1365.8 1523.3C1365.2 1520 1364.5 1516.7 1364.5 1513.3C1364.5 1510 1365.8 1506.7 1366.7 1503.3C1367.8 1498.9 1369.3 1494.4 1370.5 1490C1371.7 1485.6 1372.8 1481.1 1373.8 1476.7C1374.8 1472.2 1375.7 1467.8 1376.5 1463.3C1377.3 1458.9 1378.1 1454.4 1378.5 1450C1378.9 1446.1 1379 1442.2 1379 1438.3C1379.1 1435.4 1379.1 1432.6 1379.1 1429.7Z" fill="#a020f0" fill-opacity="0.7" stroke="#a020f0" stroke-width="3.0" stroke-linejoin="round"/>
<path d="M1427.2 1425.7C1427.3 1428.2 1427.3 1430.8 1427.3 1433.3C1427.4 1437.8 1427.4 1442.2 1427.8 1446.7C1428.3 1451.1 1429 1455.6 1429.8 1460C1430.7 1464.4 1431.8 1468.9 1432.8 1473.3C1433.8 1477.8 1434.7 1482.2 1435.8 1486.7C1437 1491.1 1438.2 1495.6 1439.7 1500C1440.9 1503.9 1442.8 1507.8 1443.8 1511.7C1444.6 1514.4 1445.5 1517.2 1445.5 1520C1445.5 1523.3 1444.4 1526.7 1443 1530C1441.6 1533.3 1439.1 1536.7 1437.2 1540C1435.2 1543.3 1432.8 1546.7 1431.3 1550C1429.8 1553.3 1428.2 1556.7 1428.2 1560C1428.2 1564.4 1428.8 1568.9 1428.8 1573.3C1428.8 1580 1428.1 1586.7 1427.8 1593.3C1427.6 1598.9 1427.3 1604.4 1427.3 1610C1427.3 1615 1428.5 1620 1428.5 1625C1428.5 1630 1427.7 1635 1427.5 1640C1427.3 1645 1427.4 1650 1427.3 1655C1427.3 1655.9 1427.3 1656.8 1427.2 1657.7L1426.8 1657.7C1426.7 1656.8 1426.7 1655.9 1426.7 1655C1426.6 1650 1426.7 1645 1426.5 1640C1426.3 1635 1425.5 1630 1425.5 1625C1425.5 1620 1426.7 1615 1426.7 1610C1426.7 1604.4 1426.4 1598.9 1426.2 1593.3C1425.9 1586.7 1425.2 1580 1425.2 1573.3C1425.2 1568.9 1425.8 1564.4 1425.8 1560C1425.8 1556.7 1424.2 1553.3 1422.7 1550C1421.2 1546.7 1418.8 1543.3 1416.8 1540C1414.9 1536.7 1412.4 1533.3 1411 1530C1409.6 1526.7 1408.5 1523.3 1408.5 1520C1408.5 1517.2 1409.4 1514.4 1410.2 1511.7C1411.2 1507.8 1413.1 1503.9 1414.3 1500C1415.8 1495.6 1417 1491.1 1418.2 1486.7C1419.3 1482.2 1420.2 1477.8 1421.2 1473.3C1422.2 1468.9 1423.3 1464.4 1424.2 1460C1425 1455.6 1425.7 1451.1 1426.2 1446.7C1426.6 1442.2 1426.6 1437.8 1426.7 1433.3C1426.7 1430.8 1426.7 1428.2 1426.8 1425.7Z" fill="#ffa500" fill-opacity="0.7" stroke="#ffa500" stroke-width="3.0" stroke-linejoin="round"/>
<path d="M1260 1580.3V1599.1" stroke="#000" stroke-width="3.2" fill="none"/>
<rect x="1252.5" y="1599.1" width="15" height="26" fill="#a020f0" fill-opacity="0.7" stroke="#000" stroke-width="3.2" stroke-linejoin="round"/>
<path d="M1252.5 1623H1267.5" stroke="#000" stroke-width="7.0"/>
<path d="M1307.7 1561.7V1597.9" stroke="#000" stroke-width="3.2" fill="none"/>
<rect x="1300.2" y="1597.9" width="15" height="28.8" fill="#ffa500" fill-opacity="0.7" stroke="#000" stroke-width="3.2" stroke-linejoin="round"/>
<path d="M1300.2 1625.3H1315.2" stroke="#000" stroke-width="7.0"/>
<path d="M1379.3 1469.2V1504.1M1379.3 1535.4V1562" stroke="#000" stroke-width="3.2" fill="none"/>
<rect x="1371.8" y="1504.1" width="15" height="31.3" fill="#a020f0" fill-opacity="0.7" stroke="#000" stroke-width="3.2" stroke-linejoin="round"/>
<path d="M1371.8 1517.5H1386.8" stroke="#000" stroke-width="7.0"/>
<path d="M1427 1458.3V1498.3M1427 1526.2V1538" stroke="#000" stroke-width="3.2" fill="none"/>
<rect x="1419.5" y="1498.3" width="15" height="28" fill="#ffa500" fill-opacity="0.7" stroke="#000" stroke-width="3.2" stroke-linejoin="round"/>
<path d="M1419.5 1518.7H1434.5" stroke="#000" stroke-width="7.0"/>
<rect x="1213.3" y="1414" width="260.8" height="258" fill="none" stroke="#333333" stroke-width="1.6"/>
<rect x="1213.3" y="1370.6" width="260.8" height="43.4" fill="#d9d9d9" stroke="#333333" stroke-width="1.6"/>
<path d="M1212.5 1414H1474.9" stroke="#333333" stroke-width="3.4"/>
<text x="1343.7" y="1399.3" font-size="22.4" text-anchor="middle" fill="#1a1a1a" class="st">OL-C</text>
<path d="M1205.3 1418.3H1212.5M1205.3 1460H1212.5M1205.3 1501.3H1212.5M1205.3 1542.8H1212.5M1205.3 1584.2H1212.5M1205.3 1625.3H1212.5M1205.3 1666.7H1212.5" stroke="#333333" stroke-width="3.0" fill="none"/>
<text x="1198.4" y="1429.4" font-size="31.2" text-anchor="end" fill="#4d4d4d">0.25</text>
<text x="1198.4" y="1471.1" font-size="31.2" text-anchor="end" fill="#4d4d4d">0.20</text>
<text x="1198.4" y="1512.4" font-size="31.2" text-anchor="end" fill="#4d4d4d">0.15</text>
<text x="1198.4" y="1553.9" font-size="31.2" text-anchor="end" fill="#4d4d4d">0.10</text>
<text x="1198.4" y="1595.2" font-size="31.2" text-anchor="end" fill="#4d4d4d">0.05</text>
<text x="1198.4" y="1636.4" font-size="31.2" text-anchor="end" fill="#4d4d4d">0.00</text>
<text x="1198.4" y="1677.7" font-size="31.2" text-anchor="end" fill="#4d4d4d">-0.05</text>
</g>
<g>
<rect x="141.2" y="1732" width="260.4" height="258" fill="#fff"/>
<path d="M143.8 1743.3H399M143.8 1813.8H399M143.8 1884.3H399M143.8 1954.7H399" stroke="#ebebeb" stroke-width="1.6" fill="none"/>
<path d="M188.1 1743.7C188.1 1745.7 188.1 1747.7 188.1 1749.7C188.2 1754.1 188.7 1758.6 189.3 1763C189.9 1767.4 191.1 1771.9 191.7 1776.3C192.3 1780.8 193 1785.2 193 1789.7C193 1794.1 192.5 1798.6 192.3 1803C192.2 1807.4 192 1811.9 192 1816.3C192 1820.8 192.9 1825.2 194.3 1829.7C195.6 1833.6 198 1837.4 199.7 1841.3C201.3 1845.2 203.2 1849.1 204.3 1853C205.3 1856.3 206.3 1859.7 206.3 1863C206.3 1866.3 205.7 1869.7 205 1873C204.2 1876.9 202.3 1880.8 201.3 1884.7C200.3 1889.1 200 1893.6 199.3 1898C198.7 1902.4 198.2 1906.9 197.3 1911.3C196.4 1915.8 195 1920.2 193.8 1924.7C192.7 1929.1 191.3 1933.6 190.3 1938C189.4 1942.4 188.3 1946.9 188.1 1951.3C188.1 1953.2 188.1 1955.1 188.1 1957L187.6 1957C187.6 1955.1 187.6 1953.2 187.5 1951.3C187.4 1946.9 186.3 1942.4 185.3 1938C184.4 1933.6 183 1929.1 181.8 1924.7C180.7 1920.2 179.2 1915.8 178.3 1911.3C177.4 1906.9 177 1902.4 176.3 1898C175.7 1893.6 175.4 1889.1 174.3 1884.7C173.4 1880.8 171.5 1876.9 170.7 1873C169.9 1869.7 169.3 1866.3 169.3 1863C169.3 1859.7 170.4 1856.3 171.3 1853C172.5 1849.1 174.3 1845.2 176 1841.3C177.7 1837.4 180.1 1833.6 181.3 1829.7C182.8 1825.2 183.7 1820.8 183.7 1816.3C183.7 1811.9 183.5 1807.4 183.3 1803C183.2 1798.6 182.7 1794.1 182.7 1789.7C182.7 1785.2 183.4 1780.8 184 1776.3C184.6 1771.9 185.7 1767.4 186.3 1763C186.9 1758.6 187.4 1754.1 187.5 1749.7C187.6 1747.7 187.6 1745.7 187.6 1743.7Z" fill="#a020f0" fill-opacity="0.7" stroke="#a020f0" stroke-width="3.0" stroke-linejoin="round"/>
<path d="M235.6 1754.8C235.6 1758.1 235.6 1761.4 235.6 1764.7C235.7 1770.2 235.9 1775.8 236.5 1781.3C237.1 1786.9 238.1 1792.4 239.2 1798C240.2 1803.6 241.8 1809.1 243 1814.7C244.2 1820.2 245.5 1825.8 246.3 1831.3C247.2 1836.9 248 1842.4 248 1848C248 1853.6 247.6 1859.1 247.5 1864.7C247.4 1870.2 247.2 1875.8 247.2 1881.3C247.2 1885.8 247.8 1890.2 247.8 1894.7C247.8 1900.2 247.1 1905.8 246.3 1911.3C245.5 1916.9 244.2 1922.4 243 1928C241.8 1933.6 240.3 1939.1 239.2 1944.7C238 1950.2 236.7 1955.8 236.2 1961.3C235.7 1965.8 235.7 1970.2 235.6 1974.7C235.6 1976.1 235.6 1977.6 235.6 1979L235.1 1979C235.1 1977.6 235.1 1976.1 235 1974.7C235 1970.2 235 1965.8 234.5 1961.3C233.9 1955.8 232.6 1950.2 231.5 1944.7C230.4 1939.1 228.9 1933.6 227.7 1928C226.5 1922.4 225.1 1916.9 224.3 1911.3C223.5 1905.8 222.8 1900.2 222.8 1894.7C222.8 1890.2 223.5 1885.8 223.5 1881.3C223.5 1875.8 223.3 1870.2 223.2 1864.7C223 1859.1 222.7 1853.6 222.7 1848C222.7 1842.4 223.5 1836.9 224.3 1831.3C225.2 1825.8 226.5 1820.2 227.7 1814.7C228.9 1809.1 230.4 1803.6 231.5 1798C232.6 1792.4 233.6 1786.9 234.2 1781.3C234.8 1775.8 234.9 1770.2 235 1764.7C235.1 1761.4 235.1 1758.1 235.1 1754.8Z" fill="#ffa500" fill-opacity="0.7" stroke="#ffa500" stroke-width="3.0" stroke-linejoin="round"/>
<path d="M307.1 1763.2C307.1 1766.4 307.1 1769.7 307.1 1773C307.2 1779.1 307.2 1785.2 307.7 1791.3C308.1 1796.9 308.9 1802.4 309.7 1808C310.4 1813.6 311.4 1819.1 312.3 1824.7C313.3 1830.2 314.3 1835.8 315.3 1841.3C316.3 1846.9 317.4 1852.4 318.3 1858C319.2 1863.6 320 1869.1 320.7 1874.7C321.3 1880.2 321.9 1885.8 322.3 1891.3C322.6 1895.2 323 1899.1 323 1903C323 1906.9 322.4 1910.8 321.7 1914.7C320.8 1919.1 319.3 1923.6 317.8 1928C316.4 1932.4 314.3 1936.9 312.8 1941.3C311.4 1945.8 310 1950.2 309 1954.7C308.1 1959.1 307.2 1963.6 307.1 1968C307.1 1970.2 307.1 1972.3 307.1 1974.5L306.6 1974.5C306.6 1972.3 306.6 1970.2 306.5 1968C306.4 1963.6 305.6 1959.1 304.7 1954.7C303.7 1950.2 302.3 1945.8 300.8 1941.3C299.4 1936.9 297.3 1932.4 295.8 1928C294.4 1923.6 292.9 1919.1 292 1914.7C291.2 1910.8 290.7 1906.9 290.7 1903C290.7 1899.1 291 1895.2 291.3 1891.3C291.7 1885.8 292.3 1880.2 293 1874.7C293.7 1869.1 294.4 1863.6 295.3 1858C296.2 1852.4 297.3 1846.9 298.3 1841.3C299.3 1835.8 300.4 1830.2 301.3 1824.7C302.3 1819.1 303.2 1813.6 304 1808C304.8 1802.4 305.6 1796.9 306 1791.3C306.5 1785.2 306.5 1779.1 306.5 1773C306.6 1769.7 306.6 1766.4 306.6 1763.2Z" fill="#a020f0" fill-opacity="0.7" stroke="#a020f0" stroke-width="3.0" stroke-linejoin="round"/>
<path d="M354.9 1806.8C354.9 1808.3 354.9 1809.8 355 1811.3C355.1 1814.7 356.2 1818 356.8 1821.3C357.5 1824.7 358.4 1828 359 1831.3C359.6 1834.7 360.2 1838 360.2 1841.3C360.2 1845.2 359.4 1849.1 359.2 1853C359 1855.8 359 1858.6 359 1861.3C359 1864.7 360 1868 361.5 1871.3C363 1874.7 365.5 1878 368.2 1881.3C370.4 1884.1 373.7 1886.9 375.7 1889.7C377.6 1892.4 378.9 1895.2 379.8 1898C380.6 1900.2 381.2 1902.4 381.2 1904.7C381.2 1907.4 380.9 1910.2 379.8 1913C378.5 1916.3 376 1919.7 373.2 1923C370.8 1925.8 367.3 1928.6 364.8 1931.3C362.3 1934.1 359.9 1936.9 358.2 1939.7C356.8 1941.9 355.2 1944.1 355 1946.3C354.9 1946.8 354.9 1947.3 354.9 1947.8L354.4 1947.8C354.4 1947.3 354.4 1946.8 354.4 1946.3C354.1 1944.1 352.5 1941.9 351.2 1939.7C349.4 1936.9 347 1934.1 344.5 1931.3C342 1928.6 338.5 1925.8 336.2 1923C333.3 1919.7 330.8 1916.3 329.5 1913C328.4 1910.2 328.2 1907.4 328.2 1904.7C328.2 1902.4 328.8 1900.2 329.5 1898C330.4 1895.2 331.7 1892.4 333.7 1889.7C335.6 1886.9 339 1884.1 341.2 1881.3C343.8 1878 346.3 1874.7 347.8 1871.3C349.4 1868 350.3 1864.7 350.3 1861.3C350.3 1858.6 350.3 1855.8 350.2 1853C350 1849.1 349.2 1845.2 349.2 1841.3C349.2 1838 349.8 1834.7 350.3 1831.3C350.9 1828 351.8 1824.7 352.5 1821.3C353.2 1818 354.3 1814.7 354.4 1811.3C354.4 1809.8 354.4 1808.3 354.4 1806.8Z" fill="#ffa500" fill-opacity="0.7" stroke="#ffa500" stroke-width="3.0" stroke-linejoin="round"/>
<path d="M187.8 1823.8V1855.8M187.8 1888.4V1913.3" stroke="#000" stroke-width="3.2" fill="none"/>
<rect x="180.3" y="1855.8" width="15" height="32.6" fill="#a020f0" fill-opacity="0.7" stroke="#000" stroke-width="3.2" stroke-linejoin="round"/>
<path d="M180.3 1866H195.3" stroke="#000" stroke-width="7.0"/>
<path d="M235.3 1816.7V1839.3M235.3 1895.6V1917.7" stroke="#000" stroke-width="3.2" fill="none"/>
<rect x="227.8" y="1839.3" width="15" height="56.3" fill="#ffa500" fill-opacity="0.7" stroke="#000" stroke-width="3.2" stroke-linejoin="round"/>
<path d="M227.8 1862.7H242.8" stroke="#000" stroke-width="7.0"/>
<path d="M306.8 1818.3V1860.4M306.8 1911.1V1919.3" stroke="#000" stroke-width="3.2" fill="none"/>
<rect x="299.3" y="1860.4" width="15" height="50.6" fill="#a020f0" fill-opacity="0.7" stroke="#000" stroke-width="3.2" stroke-linejoin="round"/>
<path d="M299.3 1888.8H314.3" stroke="#000" stroke-width="7.0"/>
<path d="M354.7 1861.8V1889.9M354.7 1913.9V1919.3" stroke="#000" stroke-width="3.2" fill="none"/>
<rect x="347.2" y="1889.9" width="15" height="24" fill="#ffa500" fill-opacity="0.7" stroke="#000" stroke-width="3.2" stroke-linejoin="round"/>
<path d="M347.2 1898.8H362.2" stroke="#000" stroke-width="7.0"/>
<text x="326" y="1752.6" font-size="62" fill="#000">.</text>
<rect x="141.2" y="1732" width="260.4" height="258" fill="none" stroke="#333333" stroke-width="1.6"/>
<rect x="141.2" y="1688.6" width="260.4" height="43.4" fill="#d9d9d9" stroke="#333333" stroke-width="1.6"/>
<path d="M140.4 1732H402.4" stroke="#333333" stroke-width="3.4"/>
<text x="271.4" y="1717.3" font-size="22.4" text-anchor="middle" fill="#1a1a1a" class="st">OPC</text>
<path d="M133.2 1778.5H140.4M133.2 1848.8H140.4M133.2 1919.3H140.4M133.2 1989.7H140.4" stroke="#333333" stroke-width="3.0" fill="none"/>
<text x="126.3" y="1789.6" font-size="31.2" text-anchor="end" fill="#4d4d4d">0.050</text>
<text x="126.3" y="1859.9" font-size="31.2" text-anchor="end" fill="#4d4d4d">0.025</text>
<text x="126.3" y="1930.4" font-size="31.2" text-anchor="end" fill="#4d4d4d">0.000</text>
<text x="126.3" y="2000.7" font-size="31.2" text-anchor="end" fill="#4d4d4d">-0.025</text>
<path d="M212.2 1990.8V1998M330.6 1990.8V1998" stroke="#333333" stroke-width="3.0" fill="none"/>
<text x="212.2" y="2022.7" font-size="27.2" text-anchor="middle" fill="#4d4d4d">Dataset 1</text>
<text x="330.6" y="2022.7" font-size="27.2" text-anchor="middle" fill="#4d4d4d">Dataset 2</text>
</g>
<g>
<rect x="507.1" y="1732" width="260.1" height="258" fill="#fff"/>
<path d="M509.7 1778.5H764.6M509.7 1827.5H764.6M509.7 1876.3H764.6M509.7 1925H764.6M509.7 1973.8H764.6" stroke="#ebebeb" stroke-width="1.6" fill="none"/>
<path d="M553.6 1867.7C553.6 1868.9 553.6 1870.1 553.6 1871.3C553.7 1874.1 554.3 1876.9 555.5 1879.7C556.7 1882.4 559.1 1885.2 561 1888C562.9 1890.8 565.1 1893.6 566.8 1896.3C568.2 1898.6 569.7 1900.8 570.5 1903C571.2 1904.9 571.8 1906.9 571.8 1908.8C571.8 1911.3 571 1913.8 570.2 1916.3C569 1919.7 566.8 1923 565.2 1926.3C563.5 1929.7 561.6 1933 560.2 1936.3C558.7 1939.7 557.6 1943 556.5 1946.3C555.4 1949.7 553.8 1953 553.6 1956.3C553.6 1957.6 553.6 1958.8 553.6 1960L553.1 1960C553.1 1958.8 553.1 1957.6 553 1956.3C552.9 1953 551.3 1949.7 550.2 1946.3C549.1 1943 547.9 1939.7 546.5 1936.3C545.1 1933 543.2 1929.7 541.5 1926.3C539.8 1923 537.6 1919.7 536.5 1916.3C535.6 1913.8 534.8 1911.3 534.8 1908.8C534.8 1906.9 535.4 1904.9 536.2 1903C537 1900.8 538.5 1898.6 539.8 1896.3C541.5 1893.6 543.8 1890.8 545.7 1888C547.6 1885.2 549.9 1882.4 551.2 1879.7C552.4 1876.9 552.9 1874.1 553 1871.3C553.1 1870.1 553.1 1868.9 553.1 1867.7Z" fill="#a020f0" fill-opacity="0.7" stroke="#a020f0" stroke-width="3.0" stroke-linejoin="round"/>
<path d="M601.2 1876.8C601.3 1878.3 601.2 1879.8 601.3 1881.3C601.4 1884.7 601.7 1888 602.5 1891.3C603.3 1894.7 604.6 1898 605.8 1901.3C607.1 1904.7 608.2 1908 609.8 1911.3C611.2 1914.1 613.1 1916.9 614.5 1919.7C615.7 1922.2 617.8 1924.7 617.8 1927.2C617.8 1929.7 616.7 1932.2 616.2 1934.7C615.6 1937.4 615.1 1940.2 614.5 1943C614.1 1945.2 613.8 1947.4 613.2 1949.7C612.3 1952.4 610.9 1955.2 609.5 1958C608 1961.1 606 1964.1 604.5 1967.2C603.3 1969.7 601.5 1972.2 601.3 1974.7C601.2 1975.4 601.3 1976.2 601.2 1977L600.8 1977C600.7 1976.2 600.8 1975.4 600.7 1974.7C600.5 1972.2 598.7 1969.7 597.5 1967.2C596 1964.1 594 1961.1 592.5 1958C591.1 1955.2 589.7 1952.4 588.8 1949.7C588.2 1947.4 587.9 1945.2 587.5 1943C586.9 1940.2 586.4 1937.4 585.8 1934.7C585.3 1932.2 584.2 1929.7 584.2 1927.2C584.2 1924.7 586.3 1922.2 587.5 1919.7C588.9 1916.9 590.8 1914.1 592.2 1911.3C593.8 1908 594.9 1904.7 596.2 1901.3C597.4 1898 598.7 1894.7 599.5 1891.3C600.3 1888 600.6 1884.7 600.7 1881.3C600.8 1879.8 600.7 1878.3 600.8 1876.8Z" fill="#ffa500" fill-opacity="0.7" stroke="#ffa500" stroke-width="3.0" stroke-linejoin="round"/>
<path d="M673.1 1744C673.1 1745.3 673.1 1746.7 673.1 1748C673.2 1750.2 674.4 1752.4 675 1754.7C675.6 1756.9 676.8 1759.1 676.8 1761.3C676.8 1763.8 675.3 1766.3 674.7 1768.8C674.1 1771.3 673.1 1773.8 673.1 1776.3C673.1 1790.8 673.1 1805.2 673.1 1819.7C673.1 1823.6 673.7 1827.4 674.7 1831.3C675.2 1833.7 676.8 1836 676.8 1838.3C676.8 1841 674.9 1843.7 674.3 1846.3C673.7 1849.1 673.1 1851.9 673.1 1854.7C673.1 1873.6 673.1 1892.4 673.1 1911.3C673.1 1912.8 673.1 1914.2 673.3 1915.7C673.7 1918.3 673.6 1920.9 676 1923.5C677.2 1924.8 679.2 1926.2 680.8 1927.5C682.4 1928.8 684 1930.1 685.3 1931.3C686.7 1932.7 687.5 1934 688.7 1935.3C689.8 1936.7 691 1938 692.3 1939.3C693.6 1940.7 695.3 1942 696.5 1943.3C697.9 1944.9 699.7 1946.4 699.7 1948C699.7 1949.1 699 1950.1 697.8 1951.2C696.4 1952.5 693.5 1953.8 691.2 1955.2C688.8 1956.5 686 1957.8 683.7 1959.2C681.4 1960.4 679.2 1961.7 677.5 1963C676.1 1964.1 674.9 1965.1 674.2 1966.2C673.5 1967.1 673.4 1967.9 673.1 1968.8L672.6 1968.8C672.2 1967.9 672.1 1967.1 671.5 1966.2C670.8 1965.1 669.5 1964.1 668.2 1963C666.5 1961.7 664.2 1960.4 662 1959.2C659.7 1957.8 656.9 1956.5 654.5 1955.2C652.1 1953.8 649.2 1952.5 647.8 1951.2C646.7 1950.1 646 1949.1 646 1948C646 1946.4 647.8 1944.9 649.2 1943.3C650.3 1942 652 1940.7 653.3 1939.3C654.6 1938 655.8 1936.7 657 1935.3C658.2 1934 659 1932.7 660.3 1931.3C661.6 1930.1 663.3 1928.8 664.8 1927.5C666.4 1926.2 668.4 1924.8 669.7 1923.5C672.1 1920.9 672 1918.3 672.3 1915.7C672.5 1914.2 672.5 1912.8 672.5 1911.3C672.5 1892.4 672.5 1873.6 672.5 1854.7C672.5 1851.9 672 1849.1 671.3 1846.3C670.7 1843.7 668.8 1841 668.8 1838.3C668.8 1836 670.4 1833.7 671 1831.3C671.9 1827.4 672.5 1823.6 672.5 1819.7C672.5 1805.2 672.5 1790.8 672.5 1776.3C672.5 1773.8 671.6 1771.3 671 1768.8C670.4 1766.3 668.8 1763.8 668.8 1761.3C668.8 1759.1 670.1 1756.9 670.7 1754.7C671.3 1752.4 672.5 1750.2 672.5 1748C672.6 1746.7 672.6 1745.3 672.6 1744Z" fill="#a020f0" fill-opacity="0.7" stroke="#a020f0" stroke-width="3.0" stroke-linejoin="round"/>
<path d="M720.6 1812.7C720.6 1814.4 720.6 1816.2 720.6 1818C720.7 1822.4 721.2 1826.9 721.5 1831.3C721.8 1835.8 722 1840.2 722.2 1844.7C722.3 1847.4 722.5 1850.2 722.5 1853C722.5 1858.6 722.1 1864.1 721.8 1869.7C721.6 1875.2 721.2 1880.8 721.2 1886.3C721.2 1889.5 722.1 1892.7 722.7 1895.8C723.6 1901.1 725.3 1906.4 726.2 1911.7C726.6 1914.3 726.7 1916.9 727.3 1919.5C728 1922.2 729 1924.8 730.3 1927.5C731.6 1930.1 733.5 1932.7 735 1935.3C736.2 1937.4 738 1939.6 738.7 1941.7C739.1 1943 739.3 1944.3 739.3 1945.7C739.3 1947.5 739 1949.3 737.7 1951.2C736.7 1952.5 735.1 1953.8 733.7 1955.2C732.2 1956.5 730.5 1957.8 729 1959.2C727.5 1960.4 725.8 1961.7 724.7 1963C723.5 1964.3 722.8 1965.7 722.2 1967C720.9 1969.7 720.7 1972.3 720.6 1975C720.6 1976.7 720.6 1978.3 720.6 1980L720.1 1980C720.1 1978.3 720.1 1976.7 720 1975C720 1972.3 719.8 1969.7 718.5 1967C717.9 1965.7 717.2 1964.3 716 1963C714.9 1961.7 713.1 1960.4 711.7 1959.2C710.1 1957.8 708.4 1956.5 707 1955.2C705.6 1953.8 703.9 1952.5 703 1951.2C701.7 1949.3 701.3 1947.5 701.3 1945.7C701.3 1944.3 701.6 1943 702 1941.7C702.7 1939.6 704.4 1937.4 705.7 1935.3C707.2 1932.7 709.1 1930.1 710.3 1927.5C711.6 1924.8 712.6 1922.2 713.3 1919.5C714 1916.9 714 1914.3 714.5 1911.7C715.4 1906.4 717 1901.1 718 1895.8C718.6 1892.7 719.5 1889.5 719.5 1886.3C719.5 1880.8 719.1 1875.2 718.8 1869.7C718.6 1864.1 718.2 1858.6 718.2 1853C718.2 1850.2 718.4 1847.4 718.5 1844.7C718.7 1840.2 718.9 1835.8 719.2 1831.3C719.4 1826.9 719.9 1822.4 720 1818C720.1 1816.2 720.1 1814.4 720.1 1812.7Z" fill="#ffa500" fill-opacity="0.7" stroke="#ffa500" stroke-width="3.0" stroke-linejoin="round"/>
<path d="M553.3 1889.7V1903.3M553.3 1919.4V1937.7" stroke="#000" stroke-width="3.2" fill="none"/>
<rect x="545.8" y="1903.3" width="15" height="16.1" fill="#a020f0" fill-opacity="0.7" stroke="#000" stroke-width="3.2" stroke-linejoin="round"/>
<path d="M545.8 1910.8H560.8" stroke="#000" stroke-width="7.0"/>
<path d="M601 1904.2V1925.4" stroke="#000" stroke-width="3.2" fill="none"/>
<rect x="593.5" y="1925.4" width="15" height="24" fill="#ffa500" fill-opacity="0.7" stroke="#000" stroke-width="3.2" stroke-linejoin="round"/>
<path d="M593.5 1928H608.5" stroke="#000" stroke-width="7.0"/>
<rect x="665.3" y="1935.4" width="15" height="14" fill="#a020f0" fill-opacity="0.7" stroke="#000" stroke-width="3.2" stroke-linejoin="round"/>
<path d="M665.3 1946.3H680.3" stroke="#000" stroke-width="7.0"/>
<path d="M720.3 1910.5V1923.3" stroke="#000" stroke-width="3.2" fill="none"/>
<rect x="712.8" y="1923.3" width="15" height="26.1" fill="#ffa500" fill-opacity="0.7" stroke="#000" stroke-width="3.2" stroke-linejoin="round"/>
<path d="M712.8 1943.3H727.8" stroke="#000" stroke-width="7.0"/>
<text x="581.5" y="1776.2" font-size="46.0" font-weight="bold" text-anchor="middle" fill="#000">**</text>
<rect x="507.1" y="1732" width="260.1" height="258" fill="none" stroke="#333333" stroke-width="1.6"/>
<rect x="507.1" y="1688.6" width="260.1" height="43.4" fill="#d9d9d9" stroke="#333333" stroke-width="1.6"/>
<path d="M506.3 1732H768" stroke="#333333" stroke-width="3.4"/>
<text x="637.2" y="1717.3" font-size="22.4" text-anchor="middle" fill="#1a1a1a" class="st">Phagocytes</text>
<path d="M499.1 1754.2H506.3M499.1 1803H506.3M499.1 1851.8H506.3M499.1 1900.5H506.3M499.1 1949.3H506.3" stroke="#333333" stroke-width="3.0" fill="none"/>
<text x="492.2" y="1765.2" font-size="31.2" text-anchor="end" fill="#4d4d4d">0.100</text>
<text x="492.2" y="1814.1" font-size="31.2" text-anchor="end" fill="#4d4d4d">0.075</text>
<text x="492.2" y="1862.9" font-size="31.2" text-anchor="end" fill="#4d4d4d">0.050</text>
<text x="492.2" y="1911.6" font-size="31.2" text-anchor="end" fill="#4d4d4d">0.025</text>
<text x="492.2" y="1960.4" font-size="31.2" text-anchor="end" fill="#4d4d4d">0.000</text>
<path d="M578 1990.8V1998M696.3 1990.8V1998" stroke="#333333" stroke-width="3.0" fill="none"/>
<text x="578" y="2022.7" font-size="27.2" text-anchor="middle" fill="#4d4d4d">Dataset 1</text>
<text x="696.3" y="2022.7" font-size="27.2" text-anchor="middle" fill="#4d4d4d">Dataset 2</text>
</g>
<g>
<rect x="855.3" y="1732" width="260.7" height="258" fill="#fff"/>
<path d="M857.9 1755H1113.4M857.9 1811H1113.4M857.9 1867.2H1113.4M857.9 1923H1113.4M857.9 1979H1113.4" stroke="#ebebeb" stroke-width="1.6" fill="none"/>
<path d="M902.2 1829.8C902.3 1830.9 902.2 1831.9 902.3 1833C902.4 1835.8 902.9 1838.6 903.5 1841.3C904.1 1844.1 905.2 1846.9 905.8 1849.7C906.5 1852.4 906.9 1855.2 907.5 1858C907.8 1859.7 908.5 1861.3 908.5 1863C908.5 1865.2 907.5 1867.4 906.8 1869.7C906.1 1872.4 905 1875.2 904.2 1878C903.5 1880.5 902.5 1883 902.3 1885.5C902.2 1886.3 902.3 1887.1 902.2 1887.8L901.8 1887.8C901.7 1887.1 901.8 1886.3 901.7 1885.5C901.5 1883 900.5 1880.5 899.8 1878C899 1875.2 897.9 1872.4 897.2 1869.7C896.5 1867.4 895.5 1865.2 895.5 1863C895.5 1861.3 896.2 1859.7 896.5 1858C897.1 1855.2 897.5 1852.4 898.2 1849.7C898.8 1846.9 899.9 1844.1 900.5 1841.3C901.1 1838.6 901.6 1835.8 901.7 1833C901.8 1831.9 901.7 1830.9 901.8 1829.8Z" fill="#a020f0" fill-opacity="0.7" stroke="#a020f0" stroke-width="3.0" stroke-linejoin="round"/>
<path d="M949.9 1743.7C949.9 1746.8 950 1749.9 950 1753C950 1766.9 950 1780.8 950 1794.7C950 1803 950.4 1811.3 950.8 1819.7C951.1 1825.2 951.6 1830.8 951.8 1836.3C952.1 1841.9 952.2 1847.4 952.2 1853C952.2 1858.6 951.5 1864.1 951.2 1869.7C950.7 1878 950 1886.3 950 1894.7C950 1916.9 950 1939.1 950 1961.3C950 1962.2 949.9 1963.1 949.9 1964L949.4 1964C949.4 1963.1 949.4 1962.2 949.4 1961.3C949.4 1939.1 949.4 1916.9 949.4 1894.7C949.4 1886.3 948.6 1878 948.2 1869.7C947.9 1864.1 947.2 1858.6 947.2 1853C947.2 1847.4 947.3 1841.9 947.5 1836.3C947.7 1830.8 948.2 1825.2 948.5 1819.7C948.9 1811.3 949.4 1803 949.4 1794.7C949.4 1780.8 949.4 1766.9 949.4 1753C949.4 1749.9 949.4 1746.8 949.4 1743.7Z" fill="#ffa500" fill-opacity="0.7" stroke="#ffa500" stroke-width="3.0" stroke-linejoin="round"/>
<path d="M1021.6 1870.8C1021.6 1871.1 1021.6 1871.4 1021.6 1871.7C1021.8 1872.7 1023.8 1873.7 1024.5 1874.7C1024.8 1875.1 1025.3 1875.6 1025.3 1876C1025.3 1876.9 1023.8 1877.9 1023.2 1878.8C1022.5 1879.9 1021.6 1881.1 1021.6 1882.2C1021.6 1896.3 1021.6 1910.5 1021.6 1924.7C1021.6 1925.8 1022.8 1926.9 1023.5 1928C1024 1928.8 1025.2 1929.7 1025.2 1930.5C1025.2 1931.6 1023.4 1932.7 1022.8 1933.8C1022.1 1935.2 1021.6 1936.6 1021.6 1938C1021.6 1939.7 1021.6 1941.3 1021.6 1943C1021.6 1944.1 1023.3 1945.2 1026.5 1946.3C1028.9 1947.2 1032.5 1948 1036.5 1948.8C1039.9 1949.6 1048.2 1950.3 1048.2 1951C1048.2 1951.7 1037.1 1952.3 1033.2 1953C1028.2 1953.8 1025.2 1954.7 1023.2 1955.5C1022.5 1955.8 1022.1 1956.1 1021.6 1956.3L1021.1 1956.3C1020.6 1956.1 1020.2 1955.8 1019.5 1955.5C1017.5 1954.7 1014.5 1953.8 1009.5 1953C1005.5 1952.3 994.5 1951.7 994.5 1951C994.5 1950.3 1002.7 1949.6 1006.2 1948.8C1010.1 1948 1013.7 1947.2 1016.2 1946.3C1019.4 1945.2 1021 1944.1 1021 1943C1021 1941.3 1021 1939.7 1021 1938C1021 1936.6 1020.6 1935.2 1019.8 1933.8C1019.3 1932.7 1017.5 1931.6 1017.5 1930.5C1017.5 1929.7 1018.6 1928.8 1019.2 1928C1019.9 1926.9 1021 1925.8 1021 1924.7C1021 1910.5 1021 1896.3 1021 1882.2C1021 1881.1 1020.2 1879.9 1019.5 1878.8C1018.9 1877.9 1017.3 1876.9 1017.3 1876C1017.3 1875.6 1017.8 1875.1 1018.2 1874.7C1018.9 1873.7 1020.9 1872.7 1021 1871.7C1021.1 1871.4 1021.1 1871.1 1021.1 1870.8Z" fill="#a020f0" fill-opacity="0.7" stroke="#a020f0" stroke-width="3.0" stroke-linejoin="round"/>
<path d="M1069.2 1847.7C1069.3 1849.4 1069.3 1851.2 1069.3 1853C1069.3 1861.3 1069.3 1869.7 1069.3 1878C1069.3 1886.3 1069.4 1894.7 1069.8 1903C1070.1 1908.6 1070.6 1914.1 1071.2 1919.7C1071.7 1924.7 1072.5 1929.7 1073.2 1934.7C1073.6 1938 1074.1 1941.3 1074.5 1944.7C1074.8 1946.9 1075.2 1949.1 1075.2 1951.3C1075.2 1954.1 1074.2 1956.9 1073.5 1959.7C1072.8 1962.4 1071.5 1965.2 1070.8 1968C1070.1 1970.8 1069.4 1973.6 1069.3 1976.3C1069.2 1977.4 1069.3 1978.4 1069.2 1979.5L1068.8 1979.5C1068.7 1978.4 1068.8 1977.4 1068.7 1976.3C1068.6 1973.6 1067.9 1970.8 1067.2 1968C1066.5 1965.2 1065.2 1962.4 1064.5 1959.7C1063.8 1956.9 1062.8 1954.1 1062.8 1951.3C1062.8 1949.1 1063.2 1946.9 1063.5 1944.7C1063.9 1941.3 1064.4 1938 1064.8 1934.7C1065.5 1929.7 1066.3 1924.7 1066.8 1919.7C1067.4 1914.1 1067.9 1908.6 1068.2 1903C1068.6 1894.7 1068.7 1886.3 1068.7 1878C1068.7 1869.7 1068.7 1861.3 1068.7 1853C1068.7 1851.2 1068.7 1849.4 1068.8 1847.7Z" fill="#ffa500" fill-opacity="0.7" stroke="#ffa500" stroke-width="3.0" stroke-linejoin="round"/>
<path d="M902 1845.5V1855.4M902 1866.7V1872.2" stroke="#000" stroke-width="3.2" fill="none"/>
<rect x="894.5" y="1855.4" width="15" height="11.3" fill="#a020f0" fill-opacity="0.7" stroke="#000" stroke-width="3.2" stroke-linejoin="round"/>
<path d="M894.5 1860.2H909.5" stroke="#000" stroke-width="7.0"/>
<path d="M949.7 1792.2V1833.3M949.7 1869.7V1915.5" stroke="#000" stroke-width="3.2" fill="none"/>
<rect x="942.2" y="1833.3" width="15" height="36.5" fill="#ffa500" fill-opacity="0.7" stroke="#000" stroke-width="3.2" stroke-linejoin="round"/>
<path d="M942.2 1834.7H957.2" stroke="#000" stroke-width="7.0"/>
<rect x="1013.8" y="1947.9" width="15" height="4.3" fill="#a020f0" fill-opacity="0.7" stroke="#000" stroke-width="3.2" stroke-linejoin="round"/>
<path d="M1013.8 1950.5H1028.8" stroke="#000" stroke-width="7.0"/>
<path d="M1069 1895.5V1926.3" stroke="#000" stroke-width="3.2" fill="none"/>
<rect x="1061.5" y="1926.3" width="15" height="25.1" fill="#ffa500" fill-opacity="0.7" stroke="#000" stroke-width="3.2" stroke-linejoin="round"/>
<path d="M1061.5 1950H1076.5" stroke="#000" stroke-width="7.0"/>
<rect x="855.3" y="1732" width="260.7" height="258" fill="none" stroke="#333333" stroke-width="1.6"/>
<rect x="855.3" y="1688.6" width="260.7" height="43.4" fill="#d9d9d9" stroke="#333333" stroke-width="1.6"/>
<path d="M854.5 1732H1116.8" stroke="#333333" stroke-width="3.4"/>
<text x="985.6" y="1717.3" font-size="22.4" text-anchor="middle" fill="#1a1a1a" class="st">Stromal cells</text>
<path d="M847.3 1783H854.5M847.3 1839.2H854.5M847.3 1895.2H854.5M847.3 1951H854.5" stroke="#333333" stroke-width="3.0" fill="none"/>
<text x="840.4" y="1794.1" font-size="31.2" text-anchor="end" fill="#4d4d4d">0.03</text>
<text x="840.4" y="1850.2" font-size="31.2" text-anchor="end" fill="#4d4d4d">0.02</text>
<text x="840.4" y="1906.2" font-size="31.2" text-anchor="end" fill="#4d4d4d">0.01</text>
<text x="840.4" y="1962.1" font-size="31.2" text-anchor="end" fill="#4d4d4d">0.00</text>
<path d="M926.4 1990.8V1998M1044.9 1990.8V1998" stroke="#333333" stroke-width="3.0" fill="none"/>
<text x="926.4" y="2022.7" font-size="27.2" text-anchor="middle" fill="#4d4d4d">Dataset 1</text>
<text x="1044.9" y="2022.7" font-size="27.2" text-anchor="middle" fill="#4d4d4d">Dataset 2</text>
</g>
<g>
<rect x="1213.3" y="1732" width="260.8" height="258" fill="#fff"/>
<path d="M1215.9 1778.8H1471.5M1215.9 1873H1471.5M1215.9 1967.5H1471.5" stroke="#ebebeb" stroke-width="1.6" fill="none"/>
<path d="M1260.2 1862.3C1260.3 1863.1 1260.2 1863.9 1260.3 1864.7C1260.4 1866.9 1262.3 1869.1 1263.2 1871.3C1263.9 1873.1 1265.2 1874.9 1265.2 1876.7C1265.2 1878.8 1263.6 1880.9 1262.7 1883C1261.9 1884.8 1260.3 1886.6 1260.3 1888.3C1260.3 1889.6 1260.3 1890.9 1260.5 1892.2C1260.8 1894.1 1263.3 1896.1 1265.2 1898C1267.3 1900.2 1270.2 1902.4 1272.7 1904.7C1275.2 1906.9 1277.7 1909.1 1280.2 1911.3C1282.4 1913.4 1286.8 1915.4 1286.8 1917.5C1286.8 1919.3 1282.1 1921.2 1278.5 1923C1275.3 1924.7 1269.8 1926.3 1266.8 1928C1263.9 1929.7 1262 1931.3 1261 1933C1260.5 1933.8 1260.5 1934.6 1260.2 1935.3L1259.8 1935.3C1259.5 1934.6 1259.5 1933.8 1259 1933C1258 1931.3 1256.1 1929.7 1253.2 1928C1250.2 1926.3 1244.7 1924.7 1241.5 1923C1237.9 1921.2 1233.2 1919.3 1233.2 1917.5C1233.2 1915.4 1237.6 1913.4 1239.8 1911.3C1242.3 1909.1 1244.8 1906.9 1247.3 1904.7C1249.8 1902.4 1252.7 1900.2 1254.8 1898C1256.7 1896.1 1259.2 1894.1 1259.5 1892.2C1259.7 1890.9 1259.7 1889.6 1259.7 1888.3C1259.7 1886.6 1258.1 1884.8 1257.3 1883C1256.4 1880.9 1254.8 1878.8 1254.8 1876.7C1254.8 1874.9 1256.1 1873.1 1256.8 1871.3C1257.7 1869.1 1259.6 1866.9 1259.7 1864.7C1259.8 1863.9 1259.7 1863.1 1259.8 1862.3Z" fill="#a020f0" fill-opacity="0.7" stroke="#a020f0" stroke-width="3.0" stroke-linejoin="round"/>
<path d="M1307.9 1793.2C1307.9 1795.9 1307.9 1798.6 1308 1801.3C1308 1806.3 1308.2 1811.3 1308.5 1816.3C1308.8 1821.3 1309.4 1826.3 1309.8 1831.3C1310.3 1836.3 1310.6 1841.3 1311.2 1846.3C1311.7 1851.3 1312.4 1856.3 1313.2 1861.3C1313.9 1866.3 1314.9 1871.3 1315.5 1876.3C1316.1 1880.8 1316.8 1885.2 1316.8 1889.7C1316.8 1894.1 1316.4 1898.6 1315.8 1903C1315.3 1907.4 1314.3 1911.9 1313.5 1916.3C1312.7 1920.8 1311.6 1925.2 1310.8 1929.7C1309.9 1934.7 1309 1939.7 1308.5 1944.7C1308.2 1948 1308 1951.3 1308 1954.7C1307.9 1956 1307.9 1957.3 1307.9 1958.7L1307.4 1958.7C1307.4 1957.3 1307.4 1956 1307.4 1954.7C1307.3 1951.3 1307.1 1948 1306.8 1944.7C1306.4 1939.7 1305.4 1934.7 1304.5 1929.7C1303.7 1925.2 1302.7 1920.8 1301.8 1916.3C1301 1911.9 1300.1 1907.4 1299.5 1903C1298.9 1898.6 1298.5 1894.1 1298.5 1889.7C1298.5 1885.2 1299.3 1880.8 1299.8 1876.3C1300.5 1871.3 1301.4 1866.3 1302.2 1861.3C1302.9 1856.3 1303.6 1851.3 1304.2 1846.3C1304.7 1841.3 1305.1 1836.3 1305.5 1831.3C1305.9 1826.3 1306.5 1821.3 1306.8 1816.3C1307.1 1811.3 1307.3 1806.3 1307.4 1801.3C1307.4 1798.6 1307.4 1795.9 1307.4 1793.2Z" fill="#ffa500" fill-opacity="0.7" stroke="#ffa500" stroke-width="3.0" stroke-linejoin="round"/>
<path d="M1379.6 1796.5C1379.6 1799.2 1379.6 1801.9 1379.6 1804.7C1379.7 1810.2 1379.9 1815.8 1380.2 1821.3C1380.5 1826.9 1381.1 1832.4 1381.5 1838C1381.9 1843.6 1382.3 1849.1 1382.8 1854.7C1383.3 1860.2 1383.9 1865.8 1384.5 1871.3C1385.1 1876.9 1385.9 1882.4 1386.5 1888C1387.1 1893 1387.7 1898 1388.2 1903C1388.4 1906.3 1388.8 1909.7 1388.8 1913C1388.8 1916.3 1388.1 1919.7 1387.5 1923C1386.8 1926.9 1385.5 1930.8 1384.5 1934.7C1383.5 1938.6 1382.3 1942.4 1381.5 1946.3C1380.6 1950.8 1379.7 1955.2 1379.6 1959.7C1379.6 1961.7 1379.6 1963.7 1379.6 1965.7L1379.1 1965.7C1379.1 1963.7 1379.1 1961.7 1379 1959.7C1378.9 1955.2 1378.1 1950.8 1377.2 1946.3C1376.4 1942.4 1375.2 1938.6 1374.2 1934.7C1373.2 1930.8 1371.9 1926.9 1371.2 1923C1370.5 1919.7 1369.8 1916.3 1369.8 1913C1369.8 1909.7 1370.2 1906.3 1370.5 1903C1370.9 1898 1371.6 1893 1372.2 1888C1372.8 1882.4 1373.6 1876.9 1374.2 1871.3C1374.8 1865.8 1375.3 1860.2 1375.8 1854.7C1376.3 1849.1 1376.7 1843.6 1377.2 1838C1377.6 1832.4 1378.2 1826.9 1378.5 1821.3C1378.8 1815.8 1379 1810.2 1379 1804.7C1379.1 1801.9 1379.1 1799.2 1379.1 1796.5Z" fill="#a020f0" fill-opacity="0.7" stroke="#a020f0" stroke-width="3.0" stroke-linejoin="round"/>
<path d="M1427.2 1743.7C1427.3 1747.3 1427.3 1751 1427.3 1754.7C1427.3 1761.3 1427.3 1768 1427.5 1774.7C1427.7 1781.3 1428.1 1788 1428.5 1794.7C1428.9 1801.3 1429.3 1808 1429.8 1814.7C1430.3 1821.3 1431 1828 1431.5 1834.7C1432 1841.3 1432.4 1848 1432.8 1854.7C1433.2 1861.3 1433.6 1868 1433.8 1874.7C1434 1880.2 1434.2 1885.8 1434.2 1891.3C1434.2 1896.9 1433.9 1902.4 1433.5 1908C1433.1 1913.6 1432.5 1919.1 1431.8 1924.7C1431.2 1930.2 1430.2 1935.8 1429.5 1941.3C1428.7 1948 1427.8 1954.7 1427.5 1961.3C1427.3 1966.3 1427.4 1971.3 1427.3 1976.3C1427.3 1977.4 1427.3 1978.4 1427.2 1979.5L1426.8 1979.5C1426.7 1978.4 1426.7 1977.4 1426.7 1976.3C1426.6 1971.3 1426.7 1966.3 1426.5 1961.3C1426.2 1954.7 1425.3 1948 1424.5 1941.3C1423.8 1935.8 1422.8 1930.2 1422.2 1924.7C1421.5 1919.1 1420.9 1913.6 1420.5 1908C1420.1 1902.4 1419.8 1896.9 1419.8 1891.3C1419.8 1885.8 1420 1880.2 1420.2 1874.7C1420.4 1868 1420.8 1861.3 1421.2 1854.7C1421.6 1848 1422 1841.3 1422.5 1834.7C1423 1828 1423.7 1821.3 1424.2 1814.7C1424.7 1808 1425.1 1801.3 1425.5 1794.7C1425.9 1788 1426.3 1781.3 1426.5 1774.7C1426.7 1768 1426.7 1761.3 1426.7 1754.7C1426.7 1751 1426.7 1747.3 1426.8 1743.7Z" fill="#ffa500" fill-opacity="0.7" stroke="#ffa500" stroke-width="3.0" stroke-linejoin="round"/>
<path d="M1260 1900.5V1908.3" stroke="#000" stroke-width="3.2" fill="none"/>
<rect x="1252.5" y="1908.3" width="15" height="11.1" fill="#a020f0" fill-opacity="0.7" stroke="#000" stroke-width="3.2" stroke-linejoin="round"/>
<path d="M1252.5 1913.3H1267.5" stroke="#000" stroke-width="7.0"/>
<path d="M1307.7 1832.2V1872.9M1307.7 1902.2V1919.7" stroke="#000" stroke-width="3.2" fill="none"/>
<rect x="1300.2" y="1872.9" width="15" height="29.3" fill="#ffa500" fill-opacity="0.7" stroke="#000" stroke-width="3.2" stroke-linejoin="round"/>
<path d="M1300.2 1890.5H1315.2" stroke="#000" stroke-width="7.0"/>
<path d="M1379.3 1842.2V1881.6" stroke="#000" stroke-width="3.2" fill="none"/>
<rect x="1371.8" y="1881.6" width="15" height="36.5" fill="#a020f0" fill-opacity="0.7" stroke="#000" stroke-width="3.2" stroke-linejoin="round"/>
<path d="M1371.8 1905H1386.8" stroke="#000" stroke-width="7.0"/>
<path d="M1427 1803V1836.3M1427 1903.4V1919.7" stroke="#000" stroke-width="3.2" fill="none"/>
<rect x="1419.5" y="1836.3" width="15" height="67.1" fill="#ffa500" fill-opacity="0.7" stroke="#000" stroke-width="3.2" stroke-linejoin="round"/>
<path d="M1419.5 1889.7H1434.5" stroke="#000" stroke-width="7.0"/>
<text x="1261.1" y="1752.3" font-size="62" fill="#000">.</text>
<text x="1392.8" y="1751.9" font-size="62" fill="#000">.</text>
<rect x="1213.3" y="1732" width="260.8" height="258" fill="none" stroke="#333333" stroke-width="1.6"/>
<rect x="1213.3" y="1688.6" width="260.8" height="43.4" fill="#d9d9d9" stroke="#333333" stroke-width="1.6"/>
<path d="M1212.5 1732H1474.9" stroke="#333333" stroke-width="3.4"/>
<text x="1343.7" y="1717.3" font-size="22.4" text-anchor="middle" fill="#1a1a1a" class="st">T-cells</text>
<path d="M1205.3 1731.8H1212.5M1205.3 1826H1212.5M1205.3 1920.2H1212.5" stroke="#333333" stroke-width="3.0" fill="none"/>
<text x="1198.4" y="1742.9" font-size="31.2" text-anchor="end" fill="#4d4d4d">0.02</text>
<text x="1198.4" y="1837.1" font-size="31.2" text-anchor="end" fill="#4d4d4d">0.01</text>
<text x="1198.4" y="1931.2" font-size="31.2" text-anchor="end" fill="#4d4d4d">0.00</text>
<path d="M1284.4 1990.8V1998M1403 1990.8V1998" stroke="#333333" stroke-width="3.0" fill="none"/>
<text x="1284.4" y="2022.7" font-size="27.2" text-anchor="middle" fill="#4d4d4d">Dataset 1</text>
<text x="1403" y="2022.7" font-size="27.2" text-anchor="middle" fill="#4d4d4d">Dataset 2</text>
</g>
<text x="4.4" y="34.9" font-size="45" fill="#000">A</text>
<text x="-0.5" y="1093" font-size="45" fill="#000">B</text>
<text transform="translate(88.3,499.3) rotate(-90)" font-size="29.8" text-anchor="middle" fill="#000">Proportion</text>
<text transform="translate(25.6,1543.4) rotate(-90)" font-size="31" text-anchor="middle" fill="#000">Proportion</text>
<text x="1549" y="315.5" font-size="43.5" fill="#000">Subtype</text>
<rect x="1551.6" y="344.3" width="56" height="56" fill="#a020f0" fill-opacity="0.7" stroke="#a020f0" stroke-width="3.0"/>
<path d="M1579.6 348.3V356.7M1579.6 387.3V395.7" stroke="#000" stroke-width="3.2" stroke-linecap="round" fill="none"/>
<rect x="1556.9" y="356.7" width="45.4" height="30.6" fill="#a020f0" fill-opacity="0.7" stroke="#000" stroke-width="3.2" stroke-linejoin="round"/>
<path d="M1556.9 372H1602.3" stroke="#000" stroke-width="4.2"/>
<text transform="translate(1630.4,386.9) scale(0.905,1)" font-size="43.8" fill="#000">FCD IIa</text>
<rect x="1551.6" y="404.5" width="56" height="56" fill="#ffa500" fill-opacity="0.7" stroke="#ffa500" stroke-width="3.0"/>
<path d="M1579.6 408.5V416.9M1579.6 447.5V455.9" stroke="#000" stroke-width="3.2" stroke-linecap="round" fill="none"/>
<rect x="1556.9" y="416.9" width="45.4" height="30.6" fill="#ffa500" fill-opacity="0.7" stroke="#000" stroke-width="3.2" stroke-linejoin="round"/>
<path d="M1556.9 432.2H1602.3" stroke="#000" stroke-width="4.2"/>
<text transform="translate(1630.4,447) scale(0.905,1)" font-size="43.8" fill="#000">FCD IIb</text>
</svg>
</body></html>
